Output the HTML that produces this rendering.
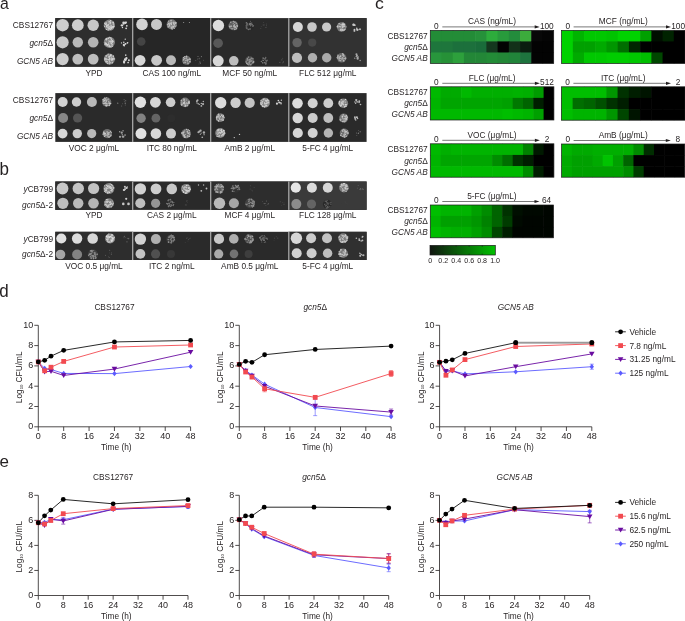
<!DOCTYPE html>
<html><head><meta charset="utf-8"><style>
html,body{margin:0;padding:0;background:#fff;width:685px;height:621px;overflow:hidden}
svg{display:block;font-family:"Liberation Sans", sans-serif;will-change:transform}
</style></head><body>
<svg width="685" height="621" viewBox="0 0 685 621">
<text transform="translate(0.0,9.0) scale(0.93,1.0)" font-size="17" fill="#231f20">a</text>
<text transform="translate(375.1,9.2) scale(1.04,1.0)" font-size="17" fill="#231f20">c</text>
<text transform="translate(-0.4,174.7) scale(1.0,1.075)" font-size="17" fill="#231f20">b</text>
<text transform="translate(-0.7,296.7) scale(1.0,1.075)" font-size="17" fill="#231f20">d</text>
<text transform="translate(-0.4,466.8) scale(1.0,1.0)" font-size="17" fill="#231f20">e</text>
<rect x="55.3" y="18.1" width="311.3" height="48.6" fill="#2a2a2a"/>
<rect x="55.3" y="18.1" width="77.39999999999999" height="48.6" fill="#2e2e2e"/>
<rect x="132.7" y="18.1" width="78.0" height="48.6" fill="#262626"/>
<rect x="288.8" y="18.1" width="77.80000000000001" height="48.6" fill="#323232"/>
<rect x="132.1" y="18.1" width="1.2" height="48.6" fill="#b0b0b0"/>
<rect x="210.1" y="18.1" width="1.2" height="48.6" fill="#b0b0b0"/>
<rect x="288.2" y="18.1" width="1.2" height="48.6" fill="#b0b0b0"/>
<circle cx="62.60" cy="25.20" r="6.25" fill="rgb(205,205,205)"/>
<circle cx="77.80" cy="25.20" r="5.9" fill="rgb(205,205,205)"/>
<circle cx="93.20" cy="25.20" r="5.7" fill="rgb(200,200,200)"/>
<circle cx="109.40" cy="25.20" r="5.6" fill="rgb(135,135,135)"/>
<circle cx="108.50" cy="27.01" r="0.73" fill="rgb(197,197,197)"/>
<circle cx="110.09" cy="23.76" r="0.70" fill="rgb(224,224,224)"/>
<circle cx="108.39" cy="25.15" r="0.65" fill="rgb(197,197,197)"/>
<circle cx="109.63" cy="29.06" r="0.52" fill="rgb(213,213,213)"/>
<circle cx="111.15" cy="26.93" r="0.72" fill="rgb(225,225,225)"/>
<circle cx="113.09" cy="26.71" r="0.52" fill="rgb(202,202,202)"/>
<circle cx="114.02" cy="26.59" r="0.60" fill="rgb(199,199,199)"/>
<circle cx="105.59" cy="24.21" r="0.70" fill="rgb(216,216,216)"/>
<circle cx="111.07" cy="28.80" r="0.72" fill="rgb(206,206,206)"/>
<circle cx="113.00" cy="27.73" r="0.70" fill="rgb(214,214,214)"/>
<circle cx="110.57" cy="29.33" r="0.65" fill="rgb(205,205,205)"/>
<circle cx="104.51" cy="26.27" r="0.63" fill="rgb(202,202,202)"/>
<circle cx="110.60" cy="21.01" r="0.59" fill="rgb(213,213,213)"/>
<circle cx="108.26" cy="28.68" r="0.62" fill="rgb(209,209,209)"/>
<circle cx="108.18" cy="30.21" r="0.54" fill="rgb(208,208,208)"/>
<circle cx="110.95" cy="27.82" r="0.83" fill="rgb(208,208,208)"/>
<circle cx="113.53" cy="26.24" r="0.77" fill="rgb(213,213,213)"/>
<circle cx="110.54" cy="20.63" r="0.62" fill="rgb(206,206,206)"/>
<circle cx="106.11" cy="22.98" r="0.66" fill="rgb(221,221,221)"/>
<circle cx="111.65" cy="26.70" r="0.74" fill="rgb(197,197,197)"/>
<circle cx="113.45" cy="26.82" r="0.73" fill="rgb(216,216,216)"/>
<circle cx="110.61" cy="22.70" r="0.64" fill="rgb(216,216,216)"/>
<circle cx="106.51" cy="29.34" r="0.62" fill="rgb(214,214,214)"/>
<circle cx="110.34" cy="26.05" r="0.77" fill="rgb(199,199,199)"/>
<circle cx="109.16" cy="21.92" r="0.82" fill="rgb(210,210,210)"/>
<circle cx="112.45" cy="26.89" r="0.69" fill="rgb(223,223,223)"/>
<circle cx="111.63" cy="27.79" r="0.69" fill="rgb(217,217,217)"/>
<circle cx="106.71" cy="26.78" r="0.81" fill="rgb(225,225,225)"/>
<circle cx="109.58" cy="26.69" r="0.55" fill="rgb(216,216,216)"/>
<circle cx="109.78" cy="28.81" r="0.71" fill="rgb(203,203,203)"/>
<circle cx="109.00" cy="27.15" r="0.69" fill="rgb(214,214,214)"/>
<circle cx="104.75" cy="23.14" r="0.74" fill="rgb(211,211,211)"/>
<circle cx="113.41" cy="23.90" r="0.76" fill="rgb(209,209,209)"/>
<circle cx="113.11" cy="22.48" r="0.81" fill="rgb(220,220,220)"/>
<circle cx="106.34" cy="24.00" r="0.64" fill="rgb(210,210,210)"/>
<circle cx="108.54" cy="24.23" r="0.52" fill="rgb(201,201,201)"/>
<circle cx="107.79" cy="25.83" r="0.71" fill="rgb(198,198,198)"/>
<circle cx="111.43" cy="25.20" r="0.54" fill="rgb(206,206,206)"/>
<circle cx="108.36" cy="24.30" r="0.57" fill="rgb(207,207,207)"/>
<circle cx="110.96" cy="27.30" r="0.62" fill="rgb(206,206,206)"/>
<circle cx="107.65" cy="25.49" r="0.67" fill="rgb(209,209,209)"/>
<circle cx="106.51" cy="25.56" r="0.55" fill="rgb(218,218,218)"/>
<circle cx="107.93" cy="27.44" r="0.79" fill="rgb(200,200,200)"/>
<circle cx="107.05" cy="24.96" r="0.83" fill="rgb(206,206,206)"/>
<circle cx="111.72" cy="28.26" r="0.51" fill="rgb(211,211,211)"/>
<circle cx="108.16" cy="29.19" r="0.53" fill="rgb(222,222,222)"/>
<circle cx="109.18" cy="28.35" r="0.56" fill="rgb(219,219,219)"/>
<circle cx="126.14" cy="28.32" r="0.90" fill="rgb(215,215,215)"/>
<circle cx="123.40" cy="22.65" r="1.07" fill="rgb(215,215,215)"/>
<circle cx="125.70" cy="23.30" r="0.74" fill="rgb(215,215,215)"/>
<circle cx="122.47" cy="27.45" r="0.72" fill="rgb(215,215,215)"/>
<circle cx="121.93" cy="25.37" r="1.19" fill="rgb(215,215,215)"/>
<circle cx="126.34" cy="22.34" r="0.72" fill="rgb(215,215,215)"/>
<circle cx="123.61" cy="23.65" r="1.09" fill="rgb(215,215,215)"/>
<circle cx="125.17" cy="22.69" r="1.18" fill="rgb(215,215,215)"/>
<circle cx="126.80" cy="25.87" r="0.88" fill="rgb(215,215,215)"/>
<circle cx="62.60" cy="42.30" r="6.1" fill="rgb(200,200,200)"/>
<circle cx="77.80" cy="42.30" r="5.2" fill="rgb(185,185,185)"/>
<circle cx="93.20" cy="42.30" r="5.3" fill="rgb(180,180,180)"/>
<circle cx="109.40" cy="42.30" r="5.6" fill="rgb(130,130,130)"/>
<circle cx="107.51" cy="45.38" r="0.84" fill="rgb(209,209,209)"/>
<circle cx="111.34" cy="39.26" r="0.73" fill="rgb(215,215,215)"/>
<circle cx="106.44" cy="38.58" r="0.54" fill="rgb(202,202,202)"/>
<circle cx="110.31" cy="37.88" r="0.67" fill="rgb(195,195,195)"/>
<circle cx="105.60" cy="43.98" r="0.53" fill="rgb(220,220,220)"/>
<circle cx="112.62" cy="41.72" r="0.64" fill="rgb(220,220,220)"/>
<circle cx="111.19" cy="43.36" r="0.85" fill="rgb(190,190,190)"/>
<circle cx="112.28" cy="46.33" r="0.78" fill="rgb(194,194,194)"/>
<circle cx="106.33" cy="39.71" r="0.67" fill="rgb(219,219,219)"/>
<circle cx="107.12" cy="45.42" r="0.55" fill="rgb(190,190,190)"/>
<circle cx="110.75" cy="38.07" r="0.54" fill="rgb(213,213,213)"/>
<circle cx="112.54" cy="40.91" r="0.81" fill="rgb(216,216,216)"/>
<circle cx="110.01" cy="41.68" r="0.57" fill="rgb(206,206,206)"/>
<circle cx="109.64" cy="46.28" r="0.59" fill="rgb(203,203,203)"/>
<circle cx="110.05" cy="41.19" r="0.76" fill="rgb(218,218,218)"/>
<circle cx="105.56" cy="43.33" r="0.82" fill="rgb(203,203,203)"/>
<circle cx="111.67" cy="37.98" r="0.55" fill="rgb(194,194,194)"/>
<circle cx="108.70" cy="42.20" r="0.65" fill="rgb(195,195,195)"/>
<circle cx="105.84" cy="39.41" r="0.55" fill="rgb(194,194,194)"/>
<circle cx="105.03" cy="43.04" r="0.69" fill="rgb(200,200,200)"/>
<circle cx="107.83" cy="38.84" r="0.67" fill="rgb(214,214,214)"/>
<circle cx="112.46" cy="44.71" r="0.59" fill="rgb(198,198,198)"/>
<circle cx="110.97" cy="42.73" r="0.66" fill="rgb(190,190,190)"/>
<circle cx="109.71" cy="37.33" r="0.66" fill="rgb(209,209,209)"/>
<circle cx="113.40" cy="41.62" r="0.57" fill="rgb(198,198,198)"/>
<circle cx="105.77" cy="43.42" r="0.67" fill="rgb(220,220,220)"/>
<circle cx="109.46" cy="46.07" r="0.81" fill="rgb(219,219,219)"/>
<circle cx="109.17" cy="46.19" r="0.83" fill="rgb(216,216,216)"/>
<circle cx="106.22" cy="43.39" r="0.64" fill="rgb(200,200,200)"/>
<circle cx="111.69" cy="43.42" r="0.53" fill="rgb(211,211,211)"/>
<circle cx="108.81" cy="44.02" r="0.77" fill="rgb(220,220,220)"/>
<circle cx="108.51" cy="38.16" r="0.55" fill="rgb(218,218,218)"/>
<circle cx="111.72" cy="45.00" r="0.76" fill="rgb(193,193,193)"/>
<circle cx="106.48" cy="44.47" r="0.85" fill="rgb(216,216,216)"/>
<circle cx="110.12" cy="46.62" r="0.85" fill="rgb(202,202,202)"/>
<circle cx="108.18" cy="44.25" r="0.61" fill="rgb(213,213,213)"/>
<circle cx="107.38" cy="44.56" r="0.66" fill="rgb(212,212,212)"/>
<circle cx="112.38" cy="42.64" r="0.72" fill="rgb(206,206,206)"/>
<circle cx="111.10" cy="41.87" r="0.82" fill="rgb(197,197,197)"/>
<circle cx="111.06" cy="42.00" r="0.59" fill="rgb(191,191,191)"/>
<circle cx="111.24" cy="41.06" r="0.76" fill="rgb(216,216,216)"/>
<circle cx="105.01" cy="44.63" r="0.79" fill="rgb(198,198,198)"/>
<circle cx="106.23" cy="44.43" r="0.68" fill="rgb(205,205,205)"/>
<circle cx="108.92" cy="40.82" r="0.52" fill="rgb(212,212,212)"/>
<circle cx="111.40" cy="46.80" r="0.59" fill="rgb(190,190,190)"/>
<circle cx="106.30" cy="38.81" r="0.53" fill="rgb(217,217,217)"/>
<circle cx="109.86" cy="44.94" r="0.54" fill="rgb(190,190,190)"/>
<circle cx="123.90" cy="45.01" r="1.16" fill="rgb(210,210,210)"/>
<circle cx="125.43" cy="43.84" r="0.92" fill="rgb(210,210,210)"/>
<circle cx="125.70" cy="43.72" r="0.70" fill="rgb(210,210,210)"/>
<circle cx="127.44" cy="42.90" r="0.79" fill="rgb(210,210,210)"/>
<circle cx="124.33" cy="45.83" r="0.77" fill="rgb(210,210,210)"/>
<circle cx="123.79" cy="42.30" r="0.81" fill="rgb(210,210,210)"/>
<circle cx="127.74" cy="42.55" r="0.61" fill="rgb(210,210,210)"/>
<circle cx="125.26" cy="39.13" r="0.71" fill="rgb(210,210,210)"/>
<circle cx="121.50" cy="42.96" r="0.66" fill="rgb(210,210,210)"/>
<circle cx="62.60" cy="59.10" r="6.1" fill="rgb(205,205,205)"/>
<circle cx="77.80" cy="59.10" r="5.4" fill="rgb(190,190,190)"/>
<circle cx="93.20" cy="59.10" r="5.4" fill="rgb(190,190,190)"/>
<circle cx="109.40" cy="59.10" r="5.6" fill="rgb(130,130,130)"/>
<circle cx="110.84" cy="55.99" r="0.67" fill="rgb(216,216,216)"/>
<circle cx="113.33" cy="55.80" r="0.61" fill="rgb(196,196,196)"/>
<circle cx="112.43" cy="58.76" r="0.79" fill="rgb(212,212,212)"/>
<circle cx="109.14" cy="57.17" r="0.85" fill="rgb(191,191,191)"/>
<circle cx="109.72" cy="58.57" r="0.72" fill="rgb(218,218,218)"/>
<circle cx="109.33" cy="61.20" r="0.53" fill="rgb(216,216,216)"/>
<circle cx="106.69" cy="61.62" r="0.84" fill="rgb(209,209,209)"/>
<circle cx="109.54" cy="61.92" r="0.66" fill="rgb(195,195,195)"/>
<circle cx="109.36" cy="59.41" r="0.63" fill="rgb(200,200,200)"/>
<circle cx="113.20" cy="58.44" r="0.59" fill="rgb(220,220,220)"/>
<circle cx="111.20" cy="57.46" r="0.56" fill="rgb(200,200,200)"/>
<circle cx="106.76" cy="61.53" r="0.68" fill="rgb(196,196,196)"/>
<circle cx="109.45" cy="63.69" r="0.53" fill="rgb(216,216,216)"/>
<circle cx="112.18" cy="60.86" r="0.51" fill="rgb(190,190,190)"/>
<circle cx="108.13" cy="63.03" r="0.53" fill="rgb(220,220,220)"/>
<circle cx="104.96" cy="58.28" r="0.73" fill="rgb(212,212,212)"/>
<circle cx="110.25" cy="55.17" r="0.77" fill="rgb(213,213,213)"/>
<circle cx="111.40" cy="58.91" r="0.75" fill="rgb(210,210,210)"/>
<circle cx="112.30" cy="62.83" r="0.75" fill="rgb(206,206,206)"/>
<circle cx="106.29" cy="55.90" r="0.78" fill="rgb(194,194,194)"/>
<circle cx="113.21" cy="56.68" r="0.70" fill="rgb(216,216,216)"/>
<circle cx="110.99" cy="54.64" r="0.70" fill="rgb(218,218,218)"/>
<circle cx="108.17" cy="54.16" r="0.73" fill="rgb(192,192,192)"/>
<circle cx="111.26" cy="59.47" r="0.63" fill="rgb(193,193,193)"/>
<circle cx="106.90" cy="61.55" r="0.52" fill="rgb(190,190,190)"/>
<circle cx="106.38" cy="56.04" r="0.67" fill="rgb(190,190,190)"/>
<circle cx="108.07" cy="59.47" r="0.83" fill="rgb(218,218,218)"/>
<circle cx="105.27" cy="58.17" r="0.52" fill="rgb(213,213,213)"/>
<circle cx="104.78" cy="59.87" r="0.80" fill="rgb(197,197,197)"/>
<circle cx="109.09" cy="56.76" r="0.76" fill="rgb(204,204,204)"/>
<circle cx="106.18" cy="59.22" r="0.67" fill="rgb(211,211,211)"/>
<circle cx="109.14" cy="60.20" r="0.72" fill="rgb(196,196,196)"/>
<circle cx="111.17" cy="60.04" r="0.59" fill="rgb(213,213,213)"/>
<circle cx="107.96" cy="55.26" r="0.55" fill="rgb(205,205,205)"/>
<circle cx="111.91" cy="60.10" r="0.74" fill="rgb(212,212,212)"/>
<circle cx="110.13" cy="62.67" r="0.75" fill="rgb(199,199,199)"/>
<circle cx="105.93" cy="59.88" r="0.54" fill="rgb(218,218,218)"/>
<circle cx="106.63" cy="58.22" r="0.53" fill="rgb(205,205,205)"/>
<circle cx="112.91" cy="59.49" r="0.79" fill="rgb(220,220,220)"/>
<circle cx="114.59" cy="58.92" r="0.64" fill="rgb(219,219,219)"/>
<circle cx="111.65" cy="58.30" r="0.70" fill="rgb(194,194,194)"/>
<circle cx="109.36" cy="56.44" r="0.63" fill="rgb(209,209,209)"/>
<circle cx="110.99" cy="55.74" r="0.81" fill="rgb(212,212,212)"/>
<circle cx="106.97" cy="61.85" r="0.81" fill="rgb(202,202,202)"/>
<circle cx="109.71" cy="59.15" r="0.67" fill="rgb(204,204,204)"/>
<circle cx="105.72" cy="61.59" r="0.65" fill="rgb(202,202,202)"/>
<circle cx="107.47" cy="63.47" r="0.50" fill="rgb(214,214,214)"/>
<circle cx="124.17" cy="61.41" r="1.16" fill="rgb(215,215,215)"/>
<circle cx="125.76" cy="59.54" r="1.04" fill="rgb(215,215,215)"/>
<circle cx="125.58" cy="60.20" r="0.83" fill="rgb(215,215,215)"/>
<circle cx="126.41" cy="58.23" r="1.16" fill="rgb(215,215,215)"/>
<circle cx="125.74" cy="55.13" r="0.77" fill="rgb(215,215,215)"/>
<circle cx="128.92" cy="60.21" r="0.98" fill="rgb(215,215,215)"/>
<circle cx="128.11" cy="62.51" r="0.86" fill="rgb(215,215,215)"/>
<circle cx="124.09" cy="62.56" r="1.07" fill="rgb(215,215,215)"/>
<circle cx="124.94" cy="59.42" r="1.06" fill="rgb(215,215,215)"/>
<circle cx="142.00" cy="24.40" r="5.8" fill="rgb(210,210,210)"/>
<circle cx="156.50" cy="24.40" r="5.5" fill="rgb(200,200,200)"/>
<circle cx="171.70" cy="24.40" r="5.1" fill="rgb(120,120,120)"/>
<circle cx="168.11" cy="27.01" r="0.69" fill="rgb(186,186,186)"/>
<circle cx="171.50" cy="23.36" r="0.76" fill="rgb(194,194,194)"/>
<circle cx="170.37" cy="23.23" r="0.80" fill="rgb(195,195,195)"/>
<circle cx="176.05" cy="25.78" r="0.54" fill="rgb(195,195,195)"/>
<circle cx="169.53" cy="25.68" r="0.59" fill="rgb(203,203,203)"/>
<circle cx="174.09" cy="24.04" r="0.73" fill="rgb(189,189,189)"/>
<circle cx="167.84" cy="24.81" r="0.54" fill="rgb(200,200,200)"/>
<circle cx="172.84" cy="26.24" r="0.82" fill="rgb(195,195,195)"/>
<circle cx="168.67" cy="23.41" r="0.62" fill="rgb(204,204,204)"/>
<circle cx="170.01" cy="24.95" r="0.57" fill="rgb(182,182,182)"/>
<circle cx="173.31" cy="27.55" r="0.61" fill="rgb(191,191,191)"/>
<circle cx="171.51" cy="27.97" r="0.81" fill="rgb(203,203,203)"/>
<circle cx="173.72" cy="22.27" r="0.76" fill="rgb(186,186,186)"/>
<circle cx="169.73" cy="26.33" r="0.52" fill="rgb(188,188,188)"/>
<circle cx="169.16" cy="23.12" r="0.74" fill="rgb(196,196,196)"/>
<circle cx="168.68" cy="21.20" r="0.58" fill="rgb(188,188,188)"/>
<circle cx="174.04" cy="22.62" r="0.73" fill="rgb(193,193,193)"/>
<circle cx="175.89" cy="23.15" r="0.81" fill="rgb(180,180,180)"/>
<circle cx="173.86" cy="26.62" r="0.77" fill="rgb(205,205,205)"/>
<circle cx="168.12" cy="25.01" r="0.50" fill="rgb(192,192,192)"/>
<circle cx="175.84" cy="22.46" r="0.68" fill="rgb(194,194,194)"/>
<circle cx="174.03" cy="23.99" r="0.54" fill="rgb(184,184,184)"/>
<circle cx="174.40" cy="28.22" r="0.54" fill="rgb(206,206,206)"/>
<circle cx="171.03" cy="20.64" r="0.77" fill="rgb(194,194,194)"/>
<circle cx="175.30" cy="26.53" r="0.50" fill="rgb(184,184,184)"/>
<circle cx="172.20" cy="28.92" r="0.73" fill="rgb(189,189,189)"/>
<circle cx="175.35" cy="23.52" r="0.68" fill="rgb(193,193,193)"/>
<circle cx="171.20" cy="22.89" r="0.52" fill="rgb(196,196,196)"/>
<circle cx="173.65" cy="23.68" r="0.59" fill="rgb(205,205,205)"/>
<circle cx="171.31" cy="24.11" r="0.61" fill="rgb(194,194,194)"/>
<circle cx="171.22" cy="27.02" r="0.79" fill="rgb(187,187,187)"/>
<circle cx="169.43" cy="24.76" r="0.59" fill="rgb(210,210,210)"/>
<circle cx="168.45" cy="26.41" r="0.52" fill="rgb(186,186,186)"/>
<circle cx="167.81" cy="24.44" r="0.65" fill="rgb(188,188,188)"/>
<circle cx="172.13" cy="27.46" r="0.63" fill="rgb(195,195,195)"/>
<circle cx="174.39" cy="24.99" r="0.65" fill="rgb(201,201,201)"/>
<circle cx="171.39" cy="24.64" r="0.60" fill="rgb(207,207,207)"/>
<circle cx="169.55" cy="24.33" r="0.84" fill="rgb(189,189,189)"/>
<circle cx="171.91" cy="22.32" r="0.66" fill="rgb(188,188,188)"/>
<circle cx="183.70" cy="22.40" r="0.5" fill="rgb(170,170,170)"/>
<circle cx="189.40" cy="22.40" r="0.5" fill="rgb(170,170,170)"/>
<circle cx="141.20" cy="41.50" r="4.3" fill="rgb(68,68,68)"/>
<circle cx="140.10" cy="60.30" r="5.4" fill="rgb(215,215,215)"/>
<circle cx="156.60" cy="60.30" r="5.4" fill="rgb(200,200,200)"/>
<circle cx="171.00" cy="60.30" r="5.0" fill="rgb(185,185,185)"/>
<circle cx="186.50" cy="60.30" r="4.5" fill="rgb(105,105,105)"/>
<circle cx="186.65" cy="58.03" r="0.83" fill="rgb(180,180,180)"/>
<circle cx="183.45" cy="57.77" r="0.67" fill="rgb(194,194,194)"/>
<circle cx="184.43" cy="56.79" r="0.55" fill="rgb(177,177,177)"/>
<circle cx="187.11" cy="60.52" r="0.71" fill="rgb(178,178,178)"/>
<circle cx="187.47" cy="60.63" r="0.64" fill="rgb(193,193,193)"/>
<circle cx="185.95" cy="58.02" r="0.54" fill="rgb(167,167,167)"/>
<circle cx="188.68" cy="59.30" r="0.56" fill="rgb(194,194,194)"/>
<circle cx="183.67" cy="59.86" r="0.61" fill="rgb(188,188,188)"/>
<circle cx="184.65" cy="62.07" r="0.62" fill="rgb(170,170,170)"/>
<circle cx="187.41" cy="61.04" r="0.53" fill="rgb(178,178,178)"/>
<circle cx="187.91" cy="59.89" r="0.84" fill="rgb(171,171,171)"/>
<circle cx="183.82" cy="62.81" r="0.61" fill="rgb(190,190,190)"/>
<circle cx="185.65" cy="60.68" r="0.67" fill="rgb(176,176,176)"/>
<circle cx="183.80" cy="59.58" r="0.61" fill="rgb(188,188,188)"/>
<circle cx="187.08" cy="59.86" r="0.64" fill="rgb(190,190,190)"/>
<circle cx="184.62" cy="58.41" r="0.63" fill="rgb(179,179,179)"/>
<circle cx="190.21" cy="61.84" r="0.59" fill="rgb(188,188,188)"/>
<circle cx="189.51" cy="61.55" r="0.63" fill="rgb(175,175,175)"/>
<circle cx="189.67" cy="59.44" r="0.59" fill="rgb(187,187,187)"/>
<circle cx="185.01" cy="56.56" r="0.60" fill="rgb(188,188,188)"/>
<circle cx="186.64" cy="56.30" r="0.72" fill="rgb(195,195,195)"/>
<circle cx="189.99" cy="61.82" r="0.54" fill="rgb(187,187,187)"/>
<circle cx="190.44" cy="59.20" r="0.64" fill="rgb(173,173,173)"/>
<circle cx="189.73" cy="58.35" r="0.55" fill="rgb(180,180,180)"/>
<circle cx="188.03" cy="63.72" r="0.76" fill="rgb(191,191,191)"/>
<circle cx="185.92" cy="58.78" r="0.58" fill="rgb(192,192,192)"/>
<circle cx="185.43" cy="62.58" r="0.77" fill="rgb(167,167,167)"/>
<circle cx="183.89" cy="60.10" r="0.56" fill="rgb(178,178,178)"/>
<circle cx="187.21" cy="60.60" r="0.69" fill="rgb(175,175,175)"/>
<circle cx="187.95" cy="62.61" r="0.54" fill="rgb(167,167,167)"/>
<circle cx="199.86" cy="61.74" r="0.37" fill="rgb(120,120,120)"/>
<circle cx="195.79" cy="60.34" r="0.46" fill="rgb(120,120,120)"/>
<circle cx="200.32" cy="63.51" r="0.51" fill="rgb(120,120,120)"/>
<circle cx="198.01" cy="56.46" r="0.56" fill="rgb(120,120,120)"/>
<circle cx="199.11" cy="58.81" r="0.56" fill="rgb(120,120,120)"/>
<circle cx="198.98" cy="63.92" r="0.44" fill="rgb(120,120,120)"/>
<circle cx="199.83" cy="58.07" r="0.41" fill="rgb(120,120,120)"/>
<circle cx="200.06" cy="62.26" r="0.57" fill="rgb(120,120,120)"/>
<circle cx="197.48" cy="58.95" r="0.45" fill="rgb(120,120,120)"/>
<circle cx="203.56" cy="60.13" r="0.41" fill="rgb(120,120,120)"/>
<circle cx="201.45" cy="56.53" r="0.60" fill="rgb(120,120,120)"/>
<circle cx="218.40" cy="25.50" r="5.7" fill="rgb(220,220,220)"/>
<circle cx="233.40" cy="25.50" r="4.8" fill="rgb(95,95,95)"/>
<circle cx="235.86" cy="27.34" r="0.79" fill="rgb(181,181,181)"/>
<circle cx="230.81" cy="26.37" r="0.81" fill="rgb(162,162,162)"/>
<circle cx="234.82" cy="26.82" r="0.84" fill="rgb(173,173,173)"/>
<circle cx="233.82" cy="26.65" r="0.68" fill="rgb(160,160,160)"/>
<circle cx="231.24" cy="26.22" r="0.77" fill="rgb(185,185,185)"/>
<circle cx="236.96" cy="25.64" r="0.75" fill="rgb(166,166,166)"/>
<circle cx="233.95" cy="28.15" r="0.55" fill="rgb(161,161,161)"/>
<circle cx="234.27" cy="25.50" r="0.76" fill="rgb(184,184,184)"/>
<circle cx="233.54" cy="25.96" r="0.61" fill="rgb(176,176,176)"/>
<circle cx="230.96" cy="28.04" r="0.53" fill="rgb(156,156,156)"/>
<circle cx="234.33" cy="22.33" r="0.52" fill="rgb(158,158,158)"/>
<circle cx="234.43" cy="22.01" r="0.55" fill="rgb(172,172,172)"/>
<circle cx="234.92" cy="26.48" r="0.74" fill="rgb(168,168,168)"/>
<circle cx="237.04" cy="25.23" r="0.65" fill="rgb(156,156,156)"/>
<circle cx="232.12" cy="28.61" r="0.63" fill="rgb(168,168,168)"/>
<circle cx="237.28" cy="25.95" r="0.78" fill="rgb(175,175,175)"/>
<circle cx="234.64" cy="29.10" r="0.57" fill="rgb(155,155,155)"/>
<circle cx="231.78" cy="26.21" r="0.54" fill="rgb(157,157,157)"/>
<circle cx="229.91" cy="27.83" r="0.66" fill="rgb(160,160,160)"/>
<circle cx="234.09" cy="26.24" r="0.55" fill="rgb(180,180,180)"/>
<circle cx="234.52" cy="24.78" r="0.72" fill="rgb(166,166,166)"/>
<circle cx="233.25" cy="23.66" r="0.62" fill="rgb(160,160,160)"/>
<circle cx="229.14" cy="24.93" r="0.54" fill="rgb(170,170,170)"/>
<circle cx="233.49" cy="21.53" r="0.78" fill="rgb(164,164,164)"/>
<circle cx="236.43" cy="28.60" r="0.84" fill="rgb(170,170,170)"/>
<circle cx="232.03" cy="28.70" r="0.72" fill="rgb(157,157,157)"/>
<circle cx="236.30" cy="23.51" r="0.79" fill="rgb(160,160,160)"/>
<circle cx="230.77" cy="22.31" r="0.72" fill="rgb(174,174,174)"/>
<circle cx="235.71" cy="22.16" r="0.56" fill="rgb(161,161,161)"/>
<circle cx="237.58" cy="26.62" r="0.55" fill="rgb(166,166,166)"/>
<circle cx="234.99" cy="27.05" r="0.75" fill="rgb(183,183,183)"/>
<circle cx="234.88" cy="29.43" r="0.79" fill="rgb(176,176,176)"/>
<circle cx="237.37" cy="26.47" r="0.54" fill="rgb(174,174,174)"/>
<circle cx="229.44" cy="26.63" r="0.77" fill="rgb(175,175,175)"/>
<circle cx="249.40" cy="25.50" r="4.8" fill="rgb(40,40,40)"/>
<circle cx="246.41" cy="27.14" r="0.65" fill="rgb(116,116,116)"/>
<circle cx="247.27" cy="27.84" r="0.56" fill="rgb(95,95,95)"/>
<circle cx="247.11" cy="23.38" r="0.58" fill="rgb(119,119,119)"/>
<circle cx="246.43" cy="22.76" r="0.79" fill="rgb(120,120,120)"/>
<circle cx="247.96" cy="25.74" r="0.54" fill="rgb(108,108,108)"/>
<circle cx="246.75" cy="28.49" r="0.68" fill="rgb(116,116,116)"/>
<circle cx="252.85" cy="26.40" r="0.53" fill="rgb(118,118,118)"/>
<circle cx="247.92" cy="28.99" r="0.53" fill="rgb(119,119,119)"/>
<circle cx="246.66" cy="25.43" r="0.83" fill="rgb(99,99,99)"/>
<circle cx="250.53" cy="25.69" r="0.71" fill="rgb(117,117,117)"/>
<circle cx="250.18" cy="23.70" r="0.84" fill="rgb(110,110,110)"/>
<circle cx="248.45" cy="29.41" r="0.78" fill="rgb(116,116,116)"/>
<circle cx="250.43" cy="21.32" r="0.52" fill="rgb(106,106,106)"/>
<circle cx="247.68" cy="24.07" r="0.61" fill="rgb(114,114,114)"/>
<circle cx="248.77" cy="29.48" r="0.55" fill="rgb(111,111,111)"/>
<circle cx="252.42" cy="24.81" r="0.71" fill="rgb(114,114,114)"/>
<circle cx="246.88" cy="25.41" r="0.51" fill="rgb(100,100,100)"/>
<circle cx="246.47" cy="27.53" r="0.60" fill="rgb(105,105,105)"/>
<circle cx="250.85" cy="24.38" r="0.77" fill="rgb(98,98,98)"/>
<circle cx="249.51" cy="24.52" r="0.80" fill="rgb(125,125,125)"/>
<circle cx="251.72" cy="23.12" r="0.70" fill="rgb(123,123,123)"/>
<circle cx="251.18" cy="24.14" r="0.69" fill="rgb(122,122,122)"/>
<circle cx="246.26" cy="27.96" r="0.59" fill="rgb(106,106,106)"/>
<circle cx="247.03" cy="24.25" r="0.77" fill="rgb(109,109,109)"/>
<circle cx="249.84" cy="28.97" r="0.84" fill="rgb(104,104,104)"/>
<circle cx="250.35" cy="23.46" r="0.72" fill="rgb(122,122,122)"/>
<circle cx="246.28" cy="23.63" r="0.61" fill="rgb(95,95,95)"/>
<circle cx="249.36" cy="23.40" r="0.60" fill="rgb(115,115,115)"/>
<circle cx="246.49" cy="26.82" r="0.81" fill="rgb(99,99,99)"/>
<circle cx="245.92" cy="25.75" r="0.52" fill="rgb(96,96,96)"/>
<circle cx="252.06" cy="25.54" r="0.54" fill="rgb(106,106,106)"/>
<circle cx="246.60" cy="24.89" r="0.61" fill="rgb(99,99,99)"/>
<circle cx="250.40" cy="28.88" r="0.67" fill="rgb(99,99,99)"/>
<circle cx="253.38" cy="25.85" r="0.75" fill="rgb(109,109,109)"/>
<circle cx="265.96" cy="27.54" r="0.57" fill="rgb(90,90,90)"/>
<circle cx="263.57" cy="22.70" r="0.42" fill="rgb(90,90,90)"/>
<circle cx="266.60" cy="25.76" r="0.49" fill="rgb(90,90,90)"/>
<circle cx="260.87" cy="28.42" r="0.46" fill="rgb(90,90,90)"/>
<circle cx="266.56" cy="24.02" r="0.41" fill="rgb(90,90,90)"/>
<circle cx="263.78" cy="24.96" r="0.48" fill="rgb(90,90,90)"/>
<circle cx="261.18" cy="26.72" r="0.36" fill="rgb(90,90,90)"/>
<circle cx="263.09" cy="25.01" r="0.49" fill="rgb(90,90,90)"/>
<circle cx="264.58" cy="24.88" r="0.40" fill="rgb(90,90,90)"/>
<circle cx="218.10" cy="43.20" r="4.8" fill="rgb(88,88,88)"/>
<circle cx="218.20" cy="60.80" r="5.5" fill="rgb(215,215,215)"/>
<circle cx="233.80" cy="60.80" r="4.8" fill="rgb(190,190,190)"/>
<circle cx="249.70" cy="60.80" r="4.6" fill="rgb(80,80,80)"/>
<circle cx="247.33" cy="58.89" r="0.72" fill="rgb(166,166,166)"/>
<circle cx="247.39" cy="58.81" r="0.52" fill="rgb(160,160,160)"/>
<circle cx="253.55" cy="62.01" r="0.77" fill="rgb(162,162,162)"/>
<circle cx="247.16" cy="60.17" r="0.65" fill="rgb(169,169,169)"/>
<circle cx="246.10" cy="61.60" r="0.66" fill="rgb(147,147,147)"/>
<circle cx="251.89" cy="60.75" r="0.73" fill="rgb(143,143,143)"/>
<circle cx="247.80" cy="63.98" r="0.74" fill="rgb(167,167,167)"/>
<circle cx="249.62" cy="61.78" r="0.72" fill="rgb(161,161,161)"/>
<circle cx="246.20" cy="62.29" r="0.68" fill="rgb(148,148,148)"/>
<circle cx="248.53" cy="64.75" r="0.81" fill="rgb(142,142,142)"/>
<circle cx="250.08" cy="60.44" r="0.59" fill="rgb(147,147,147)"/>
<circle cx="250.75" cy="59.18" r="0.56" fill="rgb(169,169,169)"/>
<circle cx="247.84" cy="64.35" r="0.61" fill="rgb(147,147,147)"/>
<circle cx="246.83" cy="63.51" r="0.82" fill="rgb(161,161,161)"/>
<circle cx="251.40" cy="58.17" r="0.67" fill="rgb(156,156,156)"/>
<circle cx="248.42" cy="57.05" r="0.65" fill="rgb(163,163,163)"/>
<circle cx="250.11" cy="64.80" r="0.78" fill="rgb(152,152,152)"/>
<circle cx="248.84" cy="59.97" r="0.82" fill="rgb(144,144,144)"/>
<circle cx="251.10" cy="61.09" r="0.72" fill="rgb(145,145,145)"/>
<circle cx="248.80" cy="62.13" r="0.51" fill="rgb(141,141,141)"/>
<circle cx="251.91" cy="63.42" r="0.51" fill="rgb(142,142,142)"/>
<circle cx="249.61" cy="59.71" r="0.71" fill="rgb(151,151,151)"/>
<circle cx="251.01" cy="64.77" r="0.69" fill="rgb(161,161,161)"/>
<circle cx="253.35" cy="62.40" r="0.82" fill="rgb(170,170,170)"/>
<circle cx="248.12" cy="62.22" r="0.57" fill="rgb(141,141,141)"/>
<circle cx="253.55" cy="61.65" r="0.78" fill="rgb(160,160,160)"/>
<circle cx="252.86" cy="62.74" r="0.72" fill="rgb(155,155,155)"/>
<circle cx="250.78" cy="61.59" r="0.77" fill="rgb(146,146,146)"/>
<circle cx="249.02" cy="63.19" r="0.59" fill="rgb(151,151,151)"/>
<circle cx="249.60" cy="63.07" r="0.75" fill="rgb(151,151,151)"/>
<circle cx="252.87" cy="58.80" r="0.71" fill="rgb(155,155,155)"/>
<circle cx="264.00" cy="60.80" r="4.0" fill="rgb(40,40,40)"/>
<circle cx="265.74" cy="58.45" r="0.51" fill="rgb(108,108,108)"/>
<circle cx="266.63" cy="61.32" r="0.53" fill="rgb(110,110,110)"/>
<circle cx="263.23" cy="58.18" r="0.58" fill="rgb(122,122,122)"/>
<circle cx="265.32" cy="58.31" r="0.60" fill="rgb(108,108,108)"/>
<circle cx="265.67" cy="60.81" r="0.77" fill="rgb(96,96,96)"/>
<circle cx="266.61" cy="60.87" r="0.67" fill="rgb(120,120,120)"/>
<circle cx="265.67" cy="57.54" r="0.71" fill="rgb(125,125,125)"/>
<circle cx="264.93" cy="59.15" r="0.83" fill="rgb(104,104,104)"/>
<circle cx="265.44" cy="57.49" r="0.58" fill="rgb(100,100,100)"/>
<circle cx="266.29" cy="62.69" r="0.53" fill="rgb(120,120,120)"/>
<circle cx="266.78" cy="60.64" r="0.54" fill="rgb(105,105,105)"/>
<circle cx="262.55" cy="62.66" r="0.64" fill="rgb(123,123,123)"/>
<circle cx="263.93" cy="58.38" r="0.73" fill="rgb(106,106,106)"/>
<circle cx="264.52" cy="62.64" r="0.82" fill="rgb(111,111,111)"/>
<circle cx="265.75" cy="64.04" r="0.72" fill="rgb(125,125,125)"/>
<circle cx="261.37" cy="61.46" r="0.76" fill="rgb(119,119,119)"/>
<circle cx="263.46" cy="60.38" r="0.70" fill="rgb(111,111,111)"/>
<circle cx="265.91" cy="63.63" r="0.73" fill="rgb(118,118,118)"/>
<circle cx="262.87" cy="63.07" r="0.74" fill="rgb(103,103,103)"/>
<circle cx="262.84" cy="60.17" r="0.66" fill="rgb(123,123,123)"/>
<circle cx="263.13" cy="58.30" r="0.59" fill="rgb(119,119,119)"/>
<circle cx="263.01" cy="57.53" r="0.55" fill="rgb(99,99,99)"/>
<circle cx="267.12" cy="60.30" r="0.71" fill="rgb(106,106,106)"/>
<circle cx="265.13" cy="62.61" r="0.57" fill="rgb(125,125,125)"/>
<circle cx="281.87" cy="59.85" r="0.59" fill="rgb(90,90,90)"/>
<circle cx="283.49" cy="61.91" r="0.60" fill="rgb(90,90,90)"/>
<circle cx="282.71" cy="58.33" r="0.46" fill="rgb(90,90,90)"/>
<circle cx="282.79" cy="63.06" r="0.38" fill="rgb(90,90,90)"/>
<circle cx="282.51" cy="62.60" r="0.36" fill="rgb(90,90,90)"/>
<circle cx="279.85" cy="62.38" r="0.52" fill="rgb(90,90,90)"/>
<circle cx="297.90" cy="27.00" r="5.0" fill="rgb(215,215,215)"/>
<circle cx="312.00" cy="27.00" r="4.8" fill="rgb(200,200,200)"/>
<circle cx="326.60" cy="27.00" r="4.6" fill="rgb(200,200,200)"/>
<circle cx="341.60" cy="27.00" r="4.8" fill="rgb(120,120,120)"/>
<circle cx="338.05" cy="26.99" r="0.66" fill="rgb(184,184,184)"/>
<circle cx="341.43" cy="30.83" r="0.50" fill="rgb(187,187,187)"/>
<circle cx="344.05" cy="25.40" r="0.70" fill="rgb(203,203,203)"/>
<circle cx="339.13" cy="23.72" r="0.73" fill="rgb(200,200,200)"/>
<circle cx="344.46" cy="24.31" r="0.75" fill="rgb(207,207,207)"/>
<circle cx="341.85" cy="28.88" r="0.54" fill="rgb(193,193,193)"/>
<circle cx="340.24" cy="30.26" r="0.53" fill="rgb(193,193,193)"/>
<circle cx="341.73" cy="29.82" r="0.75" fill="rgb(185,185,185)"/>
<circle cx="341.60" cy="29.91" r="0.66" fill="rgb(199,199,199)"/>
<circle cx="343.63" cy="24.50" r="0.73" fill="rgb(207,207,207)"/>
<circle cx="343.07" cy="30.30" r="0.77" fill="rgb(192,192,192)"/>
<circle cx="343.69" cy="23.30" r="0.54" fill="rgb(188,188,188)"/>
<circle cx="339.88" cy="26.52" r="0.77" fill="rgb(210,210,210)"/>
<circle cx="342.42" cy="29.50" r="0.80" fill="rgb(194,194,194)"/>
<circle cx="337.94" cy="26.04" r="0.68" fill="rgb(200,200,200)"/>
<circle cx="342.32" cy="24.38" r="0.62" fill="rgb(203,203,203)"/>
<circle cx="343.54" cy="26.34" r="0.74" fill="rgb(192,192,192)"/>
<circle cx="337.30" cy="26.63" r="0.76" fill="rgb(199,199,199)"/>
<circle cx="340.95" cy="27.84" r="0.60" fill="rgb(192,192,192)"/>
<circle cx="342.73" cy="27.46" r="0.82" fill="rgb(200,200,200)"/>
<circle cx="340.75" cy="24.49" r="0.59" fill="rgb(187,187,187)"/>
<circle cx="340.67" cy="29.67" r="0.83" fill="rgb(187,187,187)"/>
<circle cx="345.97" cy="26.84" r="0.66" fill="rgb(185,185,185)"/>
<circle cx="344.31" cy="29.86" r="0.78" fill="rgb(200,200,200)"/>
<circle cx="342.85" cy="30.35" r="0.75" fill="rgb(206,206,206)"/>
<circle cx="344.18" cy="26.40" r="0.72" fill="rgb(206,206,206)"/>
<circle cx="342.40" cy="24.25" r="0.85" fill="rgb(204,204,204)"/>
<circle cx="340.09" cy="26.53" r="0.79" fill="rgb(191,191,191)"/>
<circle cx="342.05" cy="24.90" r="0.75" fill="rgb(201,201,201)"/>
<circle cx="341.54" cy="29.91" r="0.57" fill="rgb(180,180,180)"/>
<circle cx="342.96" cy="23.25" r="0.63" fill="rgb(200,200,200)"/>
<circle cx="340.61" cy="29.93" r="0.65" fill="rgb(200,200,200)"/>
<circle cx="345.23" cy="29.16" r="0.55" fill="rgb(189,189,189)"/>
<circle cx="342.25" cy="26.16" r="0.79" fill="rgb(208,208,208)"/>
<circle cx="354.42" cy="30.90" r="0.92" fill="rgb(200,200,200)"/>
<circle cx="354.47" cy="29.84" r="0.99" fill="rgb(200,200,200)"/>
<circle cx="356.70" cy="28.17" r="0.78" fill="rgb(200,200,200)"/>
<circle cx="353.74" cy="24.85" r="1.11" fill="rgb(200,200,200)"/>
<circle cx="357.59" cy="29.78" r="1.07" fill="rgb(200,200,200)"/>
<circle cx="357.14" cy="29.76" r="0.92" fill="rgb(200,200,200)"/>
<circle cx="353.52" cy="24.63" r="1.19" fill="rgb(200,200,200)"/>
<circle cx="360.00" cy="29.30" r="0.93" fill="rgb(200,200,200)"/>
<circle cx="354.80" cy="25.14" r="0.90" fill="rgb(200,200,200)"/>
<circle cx="297.10" cy="42.60" r="4.7" fill="rgb(100,100,100)"/>
<circle cx="312.20" cy="42.60" r="4.1" fill="rgb(72,72,72)"/>
<circle cx="297.00" cy="57.80" r="5.1" fill="rgb(190,190,190)"/>
<circle cx="312.50" cy="57.80" r="4.7" fill="rgb(175,175,175)"/>
<circle cx="326.70" cy="57.80" r="4.7" fill="rgb(170,170,170)"/>
<circle cx="341.60" cy="57.80" r="4.8" fill="rgb(105,105,105)"/>
<circle cx="341.89" cy="59.02" r="0.79" fill="rgb(186,186,186)"/>
<circle cx="344.06" cy="55.56" r="0.59" fill="rgb(172,172,172)"/>
<circle cx="343.03" cy="55.08" r="0.70" fill="rgb(180,180,180)"/>
<circle cx="339.94" cy="58.15" r="0.67" fill="rgb(180,180,180)"/>
<circle cx="343.37" cy="60.77" r="0.76" fill="rgb(170,170,170)"/>
<circle cx="343.25" cy="55.23" r="0.70" fill="rgb(186,186,186)"/>
<circle cx="340.72" cy="60.72" r="0.65" fill="rgb(195,195,195)"/>
<circle cx="340.75" cy="56.11" r="0.63" fill="rgb(185,185,185)"/>
<circle cx="345.03" cy="58.42" r="0.74" fill="rgb(194,194,194)"/>
<circle cx="345.61" cy="57.77" r="0.53" fill="rgb(180,180,180)"/>
<circle cx="337.39" cy="58.21" r="0.51" fill="rgb(187,187,187)"/>
<circle cx="340.23" cy="58.60" r="0.53" fill="rgb(186,186,186)"/>
<circle cx="339.55" cy="60.09" r="0.68" fill="rgb(189,189,189)"/>
<circle cx="343.63" cy="56.55" r="0.62" fill="rgb(173,173,173)"/>
<circle cx="337.77" cy="56.45" r="0.60" fill="rgb(191,191,191)"/>
<circle cx="339.02" cy="57.90" r="0.84" fill="rgb(192,192,192)"/>
<circle cx="337.20" cy="57.62" r="0.73" fill="rgb(190,190,190)"/>
<circle cx="343.04" cy="59.12" r="0.75" fill="rgb(169,169,169)"/>
<circle cx="338.56" cy="55.96" r="0.77" fill="rgb(166,166,166)"/>
<circle cx="338.93" cy="59.77" r="0.64" fill="rgb(183,183,183)"/>
<circle cx="343.93" cy="58.55" r="0.50" fill="rgb(171,171,171)"/>
<circle cx="342.94" cy="55.03" r="0.77" fill="rgb(166,166,166)"/>
<circle cx="342.63" cy="53.67" r="0.71" fill="rgb(184,184,184)"/>
<circle cx="343.81" cy="60.72" r="0.74" fill="rgb(193,193,193)"/>
<circle cx="340.74" cy="55.93" r="0.73" fill="rgb(179,179,179)"/>
<circle cx="340.29" cy="56.48" r="0.73" fill="rgb(192,192,192)"/>
<circle cx="345.42" cy="58.70" r="0.82" fill="rgb(185,185,185)"/>
<circle cx="345.75" cy="58.15" r="0.55" fill="rgb(174,174,174)"/>
<circle cx="339.50" cy="56.94" r="0.61" fill="rgb(178,178,178)"/>
<circle cx="342.22" cy="57.94" r="0.70" fill="rgb(183,183,183)"/>
<circle cx="342.55" cy="57.38" r="0.70" fill="rgb(166,166,166)"/>
<circle cx="343.38" cy="54.30" r="0.65" fill="rgb(187,187,187)"/>
<circle cx="344.20" cy="56.34" r="0.50" fill="rgb(177,177,177)"/>
<circle cx="337.90" cy="55.33" r="0.73" fill="rgb(169,169,169)"/>
<circle cx="354.76" cy="58.19" r="0.66" fill="rgb(170,170,170)"/>
<circle cx="356.17" cy="56.35" r="0.69" fill="rgb(170,170,170)"/>
<circle cx="357.58" cy="57.83" r="1.01" fill="rgb(170,170,170)"/>
<circle cx="360.14" cy="60.52" r="0.65" fill="rgb(170,170,170)"/>
<circle cx="358.28" cy="56.75" r="0.61" fill="rgb(170,170,170)"/>
<circle cx="356.92" cy="55.87" r="1.04" fill="rgb(170,170,170)"/>
<circle cx="357.64" cy="58.63" r="1.06" fill="rgb(170,170,170)"/>
<circle cx="356.46" cy="54.20" r="1.04" fill="rgb(170,170,170)"/>
<rect x="55.3" y="93.1" width="311.3" height="48.80000000000001" fill="#2a2a2a"/>
<rect x="132.1" y="93.1" width="1.2" height="48.80000000000001" fill="#b0b0b0"/>
<rect x="210.1" y="93.1" width="1.2" height="48.80000000000001" fill="#b0b0b0"/>
<rect x="288.2" y="93.1" width="1.2" height="48.80000000000001" fill="#b0b0b0"/>
<circle cx="62.70" cy="102.00" r="5.0" fill="rgb(210,210,210)"/>
<circle cx="76.50" cy="102.00" r="4.7" fill="rgb(205,205,205)"/>
<circle cx="91.90" cy="102.00" r="5.0" fill="rgb(185,185,185)"/>
<circle cx="106.60" cy="102.00" r="4.7" fill="rgb(115,115,115)"/>
<circle cx="109.59" cy="103.75" r="0.75" fill="rgb(189,189,189)"/>
<circle cx="104.60" cy="98.39" r="0.82" fill="rgb(176,176,176)"/>
<circle cx="106.50" cy="101.54" r="0.51" fill="rgb(195,195,195)"/>
<circle cx="105.27" cy="98.83" r="0.64" fill="rgb(184,184,184)"/>
<circle cx="106.37" cy="100.23" r="0.80" fill="rgb(190,190,190)"/>
<circle cx="104.70" cy="100.45" r="0.83" fill="rgb(198,198,198)"/>
<circle cx="103.27" cy="103.35" r="0.55" fill="rgb(200,200,200)"/>
<circle cx="109.77" cy="104.86" r="0.56" fill="rgb(200,200,200)"/>
<circle cx="104.24" cy="103.34" r="0.78" fill="rgb(205,205,205)"/>
<circle cx="106.08" cy="105.76" r="0.62" fill="rgb(183,183,183)"/>
<circle cx="110.60" cy="103.60" r="0.75" fill="rgb(201,201,201)"/>
<circle cx="103.30" cy="99.61" r="0.75" fill="rgb(175,175,175)"/>
<circle cx="108.26" cy="99.04" r="0.61" fill="rgb(188,188,188)"/>
<circle cx="108.74" cy="101.68" r="0.64" fill="rgb(187,187,187)"/>
<circle cx="103.28" cy="99.53" r="0.78" fill="rgb(184,184,184)"/>
<circle cx="105.67" cy="99.70" r="0.59" fill="rgb(180,180,180)"/>
<circle cx="103.22" cy="99.96" r="0.81" fill="rgb(176,176,176)"/>
<circle cx="106.21" cy="103.59" r="0.81" fill="rgb(193,193,193)"/>
<circle cx="109.20" cy="105.44" r="0.78" fill="rgb(192,192,192)"/>
<circle cx="104.93" cy="98.17" r="0.62" fill="rgb(177,177,177)"/>
<circle cx="103.65" cy="101.24" r="0.63" fill="rgb(200,200,200)"/>
<circle cx="106.60" cy="97.78" r="0.58" fill="rgb(194,194,194)"/>
<circle cx="109.17" cy="102.97" r="0.75" fill="rgb(204,204,204)"/>
<circle cx="106.49" cy="105.79" r="0.78" fill="rgb(189,189,189)"/>
<circle cx="103.50" cy="101.19" r="0.62" fill="rgb(177,177,177)"/>
<circle cx="106.96" cy="105.31" r="0.81" fill="rgb(203,203,203)"/>
<circle cx="107.84" cy="99.86" r="0.68" fill="rgb(181,181,181)"/>
<circle cx="107.32" cy="103.78" r="0.56" fill="rgb(197,197,197)"/>
<circle cx="105.78" cy="105.22" r="0.63" fill="rgb(199,199,199)"/>
<circle cx="104.92" cy="101.82" r="0.52" fill="rgb(190,190,190)"/>
<circle cx="105.60" cy="103.01" r="0.72" fill="rgb(200,200,200)"/>
<circle cx="108.74" cy="103.21" r="0.51" fill="rgb(183,183,183)"/>
<circle cx="105.98" cy="101.92" r="0.51" fill="rgb(202,202,202)"/>
<circle cx="124.09" cy="99.66" r="0.49" fill="rgb(140,140,140)"/>
<circle cx="121.71" cy="105.96" r="0.46" fill="rgb(140,140,140)"/>
<circle cx="125.72" cy="100.70" r="0.55" fill="rgb(140,140,140)"/>
<circle cx="124.21" cy="101.48" r="0.36" fill="rgb(140,140,140)"/>
<circle cx="122.58" cy="103.82" r="0.37" fill="rgb(140,140,140)"/>
<circle cx="125.19" cy="103.06" r="0.57" fill="rgb(140,140,140)"/>
<circle cx="117.77" cy="103.14" r="0.58" fill="rgb(140,140,140)"/>
<circle cx="125.20" cy="103.37" r="0.45" fill="rgb(140,140,140)"/>
<circle cx="125.21" cy="105.02" r="0.41" fill="rgb(140,140,140)"/>
<circle cx="63.10" cy="118.00" r="5.0" fill="rgb(135,135,135)"/>
<circle cx="77.60" cy="118.00" r="4.6" fill="rgb(85,85,85)"/>
<circle cx="62.60" cy="133.60" r="4.9" fill="rgb(215,215,215)"/>
<circle cx="77.30" cy="133.60" r="4.7" fill="rgb(205,205,205)"/>
<circle cx="91.70" cy="133.60" r="4.6" fill="rgb(185,185,185)"/>
<circle cx="107.20" cy="133.60" r="4.6" fill="rgb(110,110,110)"/>
<circle cx="104.05" cy="132.25" r="0.83" fill="rgb(191,191,191)"/>
<circle cx="105.37" cy="133.53" r="0.80" fill="rgb(181,181,181)"/>
<circle cx="111.36" cy="132.69" r="0.58" fill="rgb(171,171,171)"/>
<circle cx="111.07" cy="132.11" r="0.52" fill="rgb(187,187,187)"/>
<circle cx="110.43" cy="131.39" r="0.52" fill="rgb(195,195,195)"/>
<circle cx="103.53" cy="133.29" r="0.77" fill="rgb(185,185,185)"/>
<circle cx="108.73" cy="134.16" r="0.76" fill="rgb(200,200,200)"/>
<circle cx="108.37" cy="137.11" r="0.71" fill="rgb(184,184,184)"/>
<circle cx="107.27" cy="132.21" r="0.61" fill="rgb(178,178,178)"/>
<circle cx="105.18" cy="135.27" r="0.63" fill="rgb(184,184,184)"/>
<circle cx="107.32" cy="135.21" r="0.74" fill="rgb(170,170,170)"/>
<circle cx="103.20" cy="134.42" r="0.78" fill="rgb(175,175,175)"/>
<circle cx="109.01" cy="132.72" r="0.83" fill="rgb(197,197,197)"/>
<circle cx="104.61" cy="136.25" r="0.77" fill="rgb(200,200,200)"/>
<circle cx="110.58" cy="135.96" r="0.79" fill="rgb(190,190,190)"/>
<circle cx="110.96" cy="135.52" r="0.61" fill="rgb(177,177,177)"/>
<circle cx="103.84" cy="134.08" r="0.55" fill="rgb(177,177,177)"/>
<circle cx="107.04" cy="131.79" r="0.66" fill="rgb(198,198,198)"/>
<circle cx="109.65" cy="136.75" r="0.59" fill="rgb(183,183,183)"/>
<circle cx="107.21" cy="134.28" r="0.70" fill="rgb(179,179,179)"/>
<circle cx="106.31" cy="135.11" r="0.67" fill="rgb(180,180,180)"/>
<circle cx="104.34" cy="134.41" r="0.55" fill="rgb(186,186,186)"/>
<circle cx="110.99" cy="135.02" r="0.73" fill="rgb(176,176,176)"/>
<circle cx="103.56" cy="132.16" r="0.54" fill="rgb(194,194,194)"/>
<circle cx="107.97" cy="136.06" r="0.85" fill="rgb(177,177,177)"/>
<circle cx="108.39" cy="132.99" r="0.60" fill="rgb(198,198,198)"/>
<circle cx="109.25" cy="136.92" r="0.84" fill="rgb(174,174,174)"/>
<circle cx="107.74" cy="133.53" r="0.78" fill="rgb(180,180,180)"/>
<circle cx="104.36" cy="133.41" r="0.78" fill="rgb(200,200,200)"/>
<circle cx="105.38" cy="133.29" r="0.65" fill="rgb(199,199,199)"/>
<circle cx="105.31" cy="134.82" r="0.56" fill="rgb(196,196,196)"/>
<circle cx="123.39" cy="136.78" r="1.03" fill="rgb(160,160,160)"/>
<circle cx="122.27" cy="134.66" r="0.65" fill="rgb(160,160,160)"/>
<circle cx="119.71" cy="131.83" r="0.76" fill="rgb(160,160,160)"/>
<circle cx="122.75" cy="136.61" r="1.02" fill="rgb(160,160,160)"/>
<circle cx="123.05" cy="130.77" r="0.72" fill="rgb(160,160,160)"/>
<circle cx="125.04" cy="134.97" r="0.84" fill="rgb(160,160,160)"/>
<circle cx="121.73" cy="132.67" r="1.09" fill="rgb(160,160,160)"/>
<circle cx="120.03" cy="136.76" r="1.12" fill="rgb(160,160,160)"/>
<circle cx="140.40" cy="102.30" r="5.7" fill="rgb(225,225,225)"/>
<circle cx="155.40" cy="102.30" r="5.4" fill="rgb(215,215,215)"/>
<circle cx="170.60" cy="102.30" r="4.8" fill="rgb(205,205,205)"/>
<circle cx="185.00" cy="102.30" r="4.8" fill="rgb(115,115,115)"/>
<circle cx="184.45" cy="102.32" r="0.82" fill="rgb(190,190,190)"/>
<circle cx="187.44" cy="105.01" r="0.59" fill="rgb(193,193,193)"/>
<circle cx="186.33" cy="99.94" r="0.56" fill="rgb(186,186,186)"/>
<circle cx="181.31" cy="100.42" r="0.62" fill="rgb(204,204,204)"/>
<circle cx="181.98" cy="103.37" r="0.54" fill="rgb(197,197,197)"/>
<circle cx="185.13" cy="106.36" r="0.82" fill="rgb(199,199,199)"/>
<circle cx="184.33" cy="99.62" r="0.76" fill="rgb(176,176,176)"/>
<circle cx="184.62" cy="103.72" r="0.76" fill="rgb(189,189,189)"/>
<circle cx="181.76" cy="102.03" r="0.69" fill="rgb(175,175,175)"/>
<circle cx="185.05" cy="103.63" r="0.72" fill="rgb(180,180,180)"/>
<circle cx="186.79" cy="103.64" r="0.79" fill="rgb(175,175,175)"/>
<circle cx="189.26" cy="102.82" r="0.76" fill="rgb(183,183,183)"/>
<circle cx="188.43" cy="102.68" r="0.70" fill="rgb(191,191,191)"/>
<circle cx="185.22" cy="105.27" r="0.62" fill="rgb(178,178,178)"/>
<circle cx="184.81" cy="101.37" r="0.54" fill="rgb(190,190,190)"/>
<circle cx="181.66" cy="100.30" r="0.54" fill="rgb(178,178,178)"/>
<circle cx="183.63" cy="103.22" r="0.71" fill="rgb(202,202,202)"/>
<circle cx="185.53" cy="105.91" r="0.66" fill="rgb(187,187,187)"/>
<circle cx="187.08" cy="105.78" r="0.83" fill="rgb(187,187,187)"/>
<circle cx="183.81" cy="99.06" r="0.71" fill="rgb(176,176,176)"/>
<circle cx="181.57" cy="104.94" r="0.77" fill="rgb(185,185,185)"/>
<circle cx="181.68" cy="104.69" r="0.75" fill="rgb(201,201,201)"/>
<circle cx="188.98" cy="101.83" r="0.82" fill="rgb(201,201,201)"/>
<circle cx="182.29" cy="104.26" r="0.61" fill="rgb(179,179,179)"/>
<circle cx="189.16" cy="101.17" r="0.59" fill="rgb(188,188,188)"/>
<circle cx="184.75" cy="101.89" r="0.54" fill="rgb(180,180,180)"/>
<circle cx="187.66" cy="103.54" r="0.68" fill="rgb(175,175,175)"/>
<circle cx="185.44" cy="105.16" r="0.64" fill="rgb(204,204,204)"/>
<circle cx="184.08" cy="102.58" r="0.84" fill="rgb(203,203,203)"/>
<circle cx="189.02" cy="103.34" r="0.72" fill="rgb(204,204,204)"/>
<circle cx="183.99" cy="100.20" r="0.69" fill="rgb(204,204,204)"/>
<circle cx="186.38" cy="102.62" r="0.54" fill="rgb(175,175,175)"/>
<circle cx="181.02" cy="104.06" r="0.60" fill="rgb(184,184,184)"/>
<circle cx="183.95" cy="103.79" r="0.52" fill="rgb(205,205,205)"/>
<circle cx="203.30" cy="101.42" r="0.76" fill="rgb(175,175,175)"/>
<circle cx="196.99" cy="102.99" r="0.69" fill="rgb(175,175,175)"/>
<circle cx="201.36" cy="103.45" r="0.78" fill="rgb(175,175,175)"/>
<circle cx="198.19" cy="103.64" r="0.75" fill="rgb(175,175,175)"/>
<circle cx="203.03" cy="104.04" r="1.10" fill="rgb(175,175,175)"/>
<circle cx="197.58" cy="100.14" r="0.99" fill="rgb(175,175,175)"/>
<circle cx="201.35" cy="105.92" r="0.88" fill="rgb(175,175,175)"/>
<circle cx="196.84" cy="101.25" r="0.88" fill="rgb(175,175,175)"/>
<circle cx="199.38" cy="104.36" r="0.73" fill="rgb(175,175,175)"/>
<circle cx="141.10" cy="118.20" r="4.7" fill="rgb(130,130,130)"/>
<circle cx="155.90" cy="118.20" r="4.4" fill="rgb(100,100,100)"/>
<circle cx="171.30" cy="118.20" r="4.0" fill="rgb(45,45,45)"/>
<circle cx="141.00" cy="133.60" r="5.5" fill="rgb(225,225,225)"/>
<circle cx="155.90" cy="133.60" r="5.3" fill="rgb(215,215,215)"/>
<circle cx="171.00" cy="133.60" r="5.0" fill="rgb(205,205,205)"/>
<circle cx="186.20" cy="133.60" r="4.8" fill="rgb(110,110,110)"/>
<circle cx="183.45" cy="133.38" r="0.70" fill="rgb(170,170,170)"/>
<circle cx="187.80" cy="132.78" r="0.83" fill="rgb(180,180,180)"/>
<circle cx="183.27" cy="132.51" r="0.60" fill="rgb(176,176,176)"/>
<circle cx="185.09" cy="137.36" r="0.56" fill="rgb(172,172,172)"/>
<circle cx="184.13" cy="131.97" r="0.73" fill="rgb(186,186,186)"/>
<circle cx="183.94" cy="135.52" r="0.76" fill="rgb(173,173,173)"/>
<circle cx="181.80" cy="133.02" r="0.74" fill="rgb(199,199,199)"/>
<circle cx="187.66" cy="135.74" r="0.62" fill="rgb(191,191,191)"/>
<circle cx="187.23" cy="136.93" r="0.60" fill="rgb(196,196,196)"/>
<circle cx="182.39" cy="133.17" r="0.76" fill="rgb(194,194,194)"/>
<circle cx="188.51" cy="133.54" r="0.72" fill="rgb(190,190,190)"/>
<circle cx="187.57" cy="132.79" r="0.80" fill="rgb(170,170,170)"/>
<circle cx="183.40" cy="135.37" r="0.54" fill="rgb(182,182,182)"/>
<circle cx="189.48" cy="132.82" r="0.65" fill="rgb(195,195,195)"/>
<circle cx="185.56" cy="137.06" r="0.54" fill="rgb(197,197,197)"/>
<circle cx="183.31" cy="134.49" r="0.75" fill="rgb(179,179,179)"/>
<circle cx="184.25" cy="136.18" r="0.71" fill="rgb(190,190,190)"/>
<circle cx="184.47" cy="137.16" r="0.80" fill="rgb(185,185,185)"/>
<circle cx="184.41" cy="135.27" r="0.69" fill="rgb(195,195,195)"/>
<circle cx="188.28" cy="136.28" r="0.70" fill="rgb(172,172,172)"/>
<circle cx="187.32" cy="131.29" r="0.84" fill="rgb(189,189,189)"/>
<circle cx="188.50" cy="129.88" r="0.57" fill="rgb(183,183,183)"/>
<circle cx="189.58" cy="130.84" r="0.51" fill="rgb(178,178,178)"/>
<circle cx="183.31" cy="132.35" r="0.82" fill="rgb(194,194,194)"/>
<circle cx="184.86" cy="136.85" r="0.65" fill="rgb(196,196,196)"/>
<circle cx="182.53" cy="133.20" r="0.64" fill="rgb(181,181,181)"/>
<circle cx="189.75" cy="134.53" r="0.66" fill="rgb(170,170,170)"/>
<circle cx="184.76" cy="130.70" r="0.53" fill="rgb(181,181,181)"/>
<circle cx="182.61" cy="133.58" r="0.82" fill="rgb(174,174,174)"/>
<circle cx="189.39" cy="130.60" r="0.67" fill="rgb(184,184,184)"/>
<circle cx="186.66" cy="129.39" r="0.71" fill="rgb(192,192,192)"/>
<circle cx="182.24" cy="132.84" r="0.56" fill="rgb(180,180,180)"/>
<circle cx="185.38" cy="134.51" r="0.61" fill="rgb(175,175,175)"/>
<circle cx="189.44" cy="136.30" r="0.74" fill="rgb(196,196,196)"/>
<circle cx="203.92" cy="132.47" r="1.18" fill="rgb(170,170,170)"/>
<circle cx="199.33" cy="131.48" r="1.09" fill="rgb(170,170,170)"/>
<circle cx="202.29" cy="137.25" r="0.85" fill="rgb(170,170,170)"/>
<circle cx="204.09" cy="134.71" r="0.66" fill="rgb(170,170,170)"/>
<circle cx="198.42" cy="132.25" r="1.03" fill="rgb(170,170,170)"/>
<circle cx="201.15" cy="133.21" r="0.60" fill="rgb(170,170,170)"/>
<circle cx="200.57" cy="130.72" r="1.15" fill="rgb(170,170,170)"/>
<circle cx="200.30" cy="134.35" r="0.61" fill="rgb(170,170,170)"/>
<circle cx="220.70" cy="102.80" r="5.7" fill="rgb(220,220,220)"/>
<circle cx="235.60" cy="102.80" r="5.2" fill="rgb(205,205,205)"/>
<circle cx="249.70" cy="102.80" r="5.1" fill="rgb(195,195,195)"/>
<circle cx="265.00" cy="102.80" r="5.0" fill="rgb(135,135,135)"/>
<circle cx="266.91" cy="103.16" r="0.77" fill="rgb(213,213,213)"/>
<circle cx="264.62" cy="106.52" r="0.69" fill="rgb(199,199,199)"/>
<circle cx="262.34" cy="101.46" r="0.54" fill="rgb(200,200,200)"/>
<circle cx="261.70" cy="102.42" r="0.51" fill="rgb(197,197,197)"/>
<circle cx="266.61" cy="105.75" r="0.79" fill="rgb(214,214,214)"/>
<circle cx="261.23" cy="104.56" r="0.73" fill="rgb(216,216,216)"/>
<circle cx="265.34" cy="100.18" r="0.75" fill="rgb(206,206,206)"/>
<circle cx="264.87" cy="103.63" r="0.72" fill="rgb(222,222,222)"/>
<circle cx="267.92" cy="100.78" r="0.62" fill="rgb(209,209,209)"/>
<circle cx="264.54" cy="102.34" r="0.58" fill="rgb(207,207,207)"/>
<circle cx="261.05" cy="100.54" r="0.65" fill="rgb(214,214,214)"/>
<circle cx="265.16" cy="104.99" r="0.56" fill="rgb(213,213,213)"/>
<circle cx="266.60" cy="100.74" r="0.81" fill="rgb(221,221,221)"/>
<circle cx="262.11" cy="103.63" r="0.59" fill="rgb(223,223,223)"/>
<circle cx="260.47" cy="102.93" r="0.59" fill="rgb(207,207,207)"/>
<circle cx="263.38" cy="99.63" r="0.64" fill="rgb(207,207,207)"/>
<circle cx="267.29" cy="100.52" r="0.78" fill="rgb(202,202,202)"/>
<circle cx="266.63" cy="103.80" r="0.63" fill="rgb(195,195,195)"/>
<circle cx="267.47" cy="102.35" r="0.70" fill="rgb(198,198,198)"/>
<circle cx="262.79" cy="106.54" r="0.62" fill="rgb(215,215,215)"/>
<circle cx="266.50" cy="103.45" r="0.79" fill="rgb(206,206,206)"/>
<circle cx="262.27" cy="101.84" r="0.66" fill="rgb(206,206,206)"/>
<circle cx="265.07" cy="103.67" r="0.73" fill="rgb(205,205,205)"/>
<circle cx="265.77" cy="100.65" r="0.55" fill="rgb(201,201,201)"/>
<circle cx="264.48" cy="107.02" r="0.54" fill="rgb(209,209,209)"/>
<circle cx="260.94" cy="103.65" r="0.58" fill="rgb(206,206,206)"/>
<circle cx="262.62" cy="105.95" r="0.63" fill="rgb(225,225,225)"/>
<circle cx="262.78" cy="101.57" r="0.67" fill="rgb(201,201,201)"/>
<circle cx="265.45" cy="105.90" r="0.55" fill="rgb(217,217,217)"/>
<circle cx="268.59" cy="102.75" r="0.65" fill="rgb(206,206,206)"/>
<circle cx="262.11" cy="102.16" r="0.68" fill="rgb(199,199,199)"/>
<circle cx="266.13" cy="101.63" r="0.68" fill="rgb(212,212,212)"/>
<circle cx="267.38" cy="99.60" r="0.77" fill="rgb(195,195,195)"/>
<circle cx="263.08" cy="99.87" r="0.61" fill="rgb(207,207,207)"/>
<circle cx="264.05" cy="99.04" r="0.77" fill="rgb(202,202,202)"/>
<circle cx="263.37" cy="106.21" r="0.54" fill="rgb(212,212,212)"/>
<circle cx="268.58" cy="100.65" r="0.77" fill="rgb(201,201,201)"/>
<circle cx="280.83" cy="102.67" r="0.74" fill="rgb(210,210,210)"/>
<circle cx="281.08" cy="103.81" r="0.77" fill="rgb(210,210,210)"/>
<circle cx="276.95" cy="103.63" r="1.06" fill="rgb(210,210,210)"/>
<circle cx="281.36" cy="100.13" r="0.68" fill="rgb(210,210,210)"/>
<circle cx="279.21" cy="102.51" r="1.01" fill="rgb(210,210,210)"/>
<circle cx="278.38" cy="100.48" r="0.85" fill="rgb(210,210,210)"/>
<circle cx="220.20" cy="117.60" r="4.4" fill="rgb(120,120,120)"/>
<circle cx="218.35" cy="114.72" r="0.59" fill="rgb(207,207,207)"/>
<circle cx="217.04" cy="119.88" r="0.53" fill="rgb(189,189,189)"/>
<circle cx="223.13" cy="120.19" r="0.76" fill="rgb(202,202,202)"/>
<circle cx="219.05" cy="115.26" r="0.71" fill="rgb(193,193,193)"/>
<circle cx="220.92" cy="119.73" r="0.63" fill="rgb(181,181,181)"/>
<circle cx="217.13" cy="116.55" r="0.83" fill="rgb(198,198,198)"/>
<circle cx="221.85" cy="114.99" r="0.75" fill="rgb(188,188,188)"/>
<circle cx="223.19" cy="116.09" r="0.70" fill="rgb(209,209,209)"/>
<circle cx="223.94" cy="117.62" r="0.77" fill="rgb(189,189,189)"/>
<circle cx="223.31" cy="115.37" r="0.70" fill="rgb(202,202,202)"/>
<circle cx="222.13" cy="118.19" r="0.54" fill="rgb(205,205,205)"/>
<circle cx="218.69" cy="120.88" r="0.62" fill="rgb(209,209,209)"/>
<circle cx="223.12" cy="119.36" r="0.64" fill="rgb(203,203,203)"/>
<circle cx="218.76" cy="116.33" r="0.68" fill="rgb(191,191,191)"/>
<circle cx="222.71" cy="116.72" r="0.83" fill="rgb(202,202,202)"/>
<circle cx="216.81" cy="117.53" r="0.79" fill="rgb(200,200,200)"/>
<circle cx="219.29" cy="117.88" r="0.74" fill="rgb(193,193,193)"/>
<circle cx="218.45" cy="114.27" r="0.77" fill="rgb(195,195,195)"/>
<circle cx="220.26" cy="116.75" r="0.75" fill="rgb(205,205,205)"/>
<circle cx="218.61" cy="116.98" r="0.56" fill="rgb(204,204,204)"/>
<circle cx="218.24" cy="115.31" r="0.59" fill="rgb(181,181,181)"/>
<circle cx="221.39" cy="119.70" r="0.53" fill="rgb(200,200,200)"/>
<circle cx="219.64" cy="119.00" r="0.75" fill="rgb(201,201,201)"/>
<circle cx="216.78" cy="117.97" r="0.50" fill="rgb(202,202,202)"/>
<circle cx="216.48" cy="118.94" r="0.62" fill="rgb(189,189,189)"/>
<circle cx="222.50" cy="120.16" r="0.71" fill="rgb(187,187,187)"/>
<circle cx="218.35" cy="120.80" r="0.69" fill="rgb(204,204,204)"/>
<circle cx="223.34" cy="116.38" r="0.55" fill="rgb(194,194,194)"/>
<circle cx="221.59" cy="115.39" r="0.57" fill="rgb(202,202,202)"/>
<circle cx="220.20" cy="133.00" r="5.0" fill="rgb(130,130,130)"/>
<circle cx="219.52" cy="135.71" r="0.57" fill="rgb(191,191,191)"/>
<circle cx="222.23" cy="131.44" r="0.54" fill="rgb(199,199,199)"/>
<circle cx="218.72" cy="133.50" r="0.61" fill="rgb(204,204,204)"/>
<circle cx="217.93" cy="131.95" r="0.70" fill="rgb(191,191,191)"/>
<circle cx="224.82" cy="133.31" r="0.76" fill="rgb(192,192,192)"/>
<circle cx="220.15" cy="130.32" r="0.76" fill="rgb(198,198,198)"/>
<circle cx="222.72" cy="135.05" r="0.65" fill="rgb(196,196,196)"/>
<circle cx="220.76" cy="130.42" r="0.63" fill="rgb(192,192,192)"/>
<circle cx="217.93" cy="130.10" r="0.83" fill="rgb(210,210,210)"/>
<circle cx="219.02" cy="129.43" r="0.53" fill="rgb(213,213,213)"/>
<circle cx="224.23" cy="133.71" r="0.79" fill="rgb(199,199,199)"/>
<circle cx="217.12" cy="136.37" r="0.68" fill="rgb(218,218,218)"/>
<circle cx="221.91" cy="132.15" r="0.77" fill="rgb(216,216,216)"/>
<circle cx="218.85" cy="136.39" r="0.63" fill="rgb(210,210,210)"/>
<circle cx="221.40" cy="130.66" r="0.63" fill="rgb(207,207,207)"/>
<circle cx="223.93" cy="130.94" r="0.59" fill="rgb(191,191,191)"/>
<circle cx="223.58" cy="133.90" r="0.72" fill="rgb(216,216,216)"/>
<circle cx="223.15" cy="133.00" r="0.52" fill="rgb(196,196,196)"/>
<circle cx="216.92" cy="133.12" r="0.56" fill="rgb(199,199,199)"/>
<circle cx="217.26" cy="130.79" r="0.55" fill="rgb(197,197,197)"/>
<circle cx="221.80" cy="135.65" r="0.84" fill="rgb(192,192,192)"/>
<circle cx="224.45" cy="132.44" r="0.67" fill="rgb(196,196,196)"/>
<circle cx="220.16" cy="132.76" r="0.79" fill="rgb(217,217,217)"/>
<circle cx="221.87" cy="130.12" r="0.55" fill="rgb(192,192,192)"/>
<circle cx="218.44" cy="130.17" r="0.65" fill="rgb(200,200,200)"/>
<circle cx="220.60" cy="133.17" r="0.83" fill="rgb(195,195,195)"/>
<circle cx="221.75" cy="131.93" r="0.60" fill="rgb(204,204,204)"/>
<circle cx="221.47" cy="129.40" r="0.70" fill="rgb(205,205,205)"/>
<circle cx="222.48" cy="134.35" r="0.66" fill="rgb(207,207,207)"/>
<circle cx="223.83" cy="130.65" r="0.84" fill="rgb(220,220,220)"/>
<circle cx="219.17" cy="132.16" r="0.78" fill="rgb(213,213,213)"/>
<circle cx="218.58" cy="129.75" r="0.60" fill="rgb(208,208,208)"/>
<circle cx="217.72" cy="134.34" r="0.73" fill="rgb(194,194,194)"/>
<circle cx="219.37" cy="135.60" r="0.81" fill="rgb(190,190,190)"/>
<circle cx="221.47" cy="131.21" r="0.76" fill="rgb(212,212,212)"/>
<circle cx="223.45" cy="134.93" r="0.63" fill="rgb(208,208,208)"/>
<circle cx="222.81" cy="132.02" r="0.58" fill="rgb(204,204,204)"/>
<circle cx="234.30" cy="137.60" r="0.7" fill="rgb(200,200,200)"/>
<circle cx="239.50" cy="134.40" r="0.7" fill="rgb(200,200,200)"/>
<circle cx="297.50" cy="103.20" r="5.3" fill="rgb(220,220,220)"/>
<circle cx="312.70" cy="103.20" r="5.0" fill="rgb(210,210,210)"/>
<circle cx="328.30" cy="103.20" r="4.9" fill="rgb(205,205,205)"/>
<circle cx="343.30" cy="103.20" r="4.8" fill="rgb(130,130,130)"/>
<circle cx="342.10" cy="104.11" r="0.56" fill="rgb(218,218,218)"/>
<circle cx="344.43" cy="106.90" r="0.58" fill="rgb(216,216,216)"/>
<circle cx="343.27" cy="104.58" r="0.69" fill="rgb(198,198,198)"/>
<circle cx="342.76" cy="101.14" r="0.66" fill="rgb(207,207,207)"/>
<circle cx="341.95" cy="102.54" r="0.68" fill="rgb(208,208,208)"/>
<circle cx="339.54" cy="101.52" r="0.74" fill="rgb(215,215,215)"/>
<circle cx="339.45" cy="104.74" r="0.69" fill="rgb(212,212,212)"/>
<circle cx="345.59" cy="99.51" r="0.72" fill="rgb(220,220,220)"/>
<circle cx="343.05" cy="101.80" r="0.79" fill="rgb(202,202,202)"/>
<circle cx="339.08" cy="101.99" r="0.57" fill="rgb(205,205,205)"/>
<circle cx="343.56" cy="101.57" r="0.77" fill="rgb(191,191,191)"/>
<circle cx="342.50" cy="103.75" r="0.51" fill="rgb(212,212,212)"/>
<circle cx="341.59" cy="102.05" r="0.60" fill="rgb(212,212,212)"/>
<circle cx="346.10" cy="106.40" r="0.53" fill="rgb(217,217,217)"/>
<circle cx="343.75" cy="104.64" r="0.75" fill="rgb(201,201,201)"/>
<circle cx="345.20" cy="106.55" r="0.62" fill="rgb(214,214,214)"/>
<circle cx="343.26" cy="102.72" r="0.59" fill="rgb(197,197,197)"/>
<circle cx="340.62" cy="105.94" r="0.83" fill="rgb(213,213,213)"/>
<circle cx="339.28" cy="103.48" r="0.62" fill="rgb(201,201,201)"/>
<circle cx="339.49" cy="101.99" r="0.54" fill="rgb(219,219,219)"/>
<circle cx="345.16" cy="102.02" r="0.62" fill="rgb(212,212,212)"/>
<circle cx="339.44" cy="104.54" r="0.70" fill="rgb(193,193,193)"/>
<circle cx="344.10" cy="100.19" r="0.53" fill="rgb(198,198,198)"/>
<circle cx="344.61" cy="106.25" r="0.60" fill="rgb(211,211,211)"/>
<circle cx="341.32" cy="99.63" r="0.71" fill="rgb(198,198,198)"/>
<circle cx="339.70" cy="102.31" r="0.78" fill="rgb(220,220,220)"/>
<circle cx="342.64" cy="103.44" r="0.85" fill="rgb(205,205,205)"/>
<circle cx="339.13" cy="103.15" r="0.78" fill="rgb(191,191,191)"/>
<circle cx="346.44" cy="104.79" r="0.73" fill="rgb(209,209,209)"/>
<circle cx="340.90" cy="105.12" r="0.56" fill="rgb(217,217,217)"/>
<circle cx="341.27" cy="103.88" r="0.84" fill="rgb(206,206,206)"/>
<circle cx="345.58" cy="104.38" r="0.58" fill="rgb(218,218,218)"/>
<circle cx="345.70" cy="105.79" r="0.57" fill="rgb(216,216,216)"/>
<circle cx="341.34" cy="105.54" r="0.70" fill="rgb(202,202,202)"/>
<circle cx="359.11" cy="102.45" r="0.80" fill="rgb(190,190,190)"/>
<circle cx="355.64" cy="103.37" r="0.75" fill="rgb(190,190,190)"/>
<circle cx="359.25" cy="101.28" r="0.98" fill="rgb(190,190,190)"/>
<circle cx="357.11" cy="101.89" r="0.83" fill="rgb(190,190,190)"/>
<circle cx="360.51" cy="104.55" r="0.81" fill="rgb(190,190,190)"/>
<circle cx="354.90" cy="102.01" r="0.68" fill="rgb(190,190,190)"/>
<circle cx="356.24" cy="100.03" r="1.14" fill="rgb(190,190,190)"/>
<circle cx="297.70" cy="118.00" r="5.2" fill="rgb(215,215,215)"/>
<circle cx="312.70" cy="118.00" r="5.0" fill="rgb(205,205,205)"/>
<circle cx="328.30" cy="118.00" r="4.9" fill="rgb(190,190,190)"/>
<circle cx="343.70" cy="118.00" r="4.5" fill="rgb(115,115,115)"/>
<circle cx="345.24" cy="119.05" r="0.65" fill="rgb(193,193,193)"/>
<circle cx="342.03" cy="116.11" r="0.60" fill="rgb(200,200,200)"/>
<circle cx="343.98" cy="121.72" r="0.55" fill="rgb(177,177,177)"/>
<circle cx="342.48" cy="121.45" r="0.76" fill="rgb(191,191,191)"/>
<circle cx="344.95" cy="116.35" r="0.81" fill="rgb(197,197,197)"/>
<circle cx="342.85" cy="118.57" r="0.62" fill="rgb(185,185,185)"/>
<circle cx="346.46" cy="115.53" r="0.68" fill="rgb(203,203,203)"/>
<circle cx="343.78" cy="120.03" r="0.62" fill="rgb(179,179,179)"/>
<circle cx="344.79" cy="121.79" r="0.73" fill="rgb(187,187,187)"/>
<circle cx="340.73" cy="119.06" r="0.61" fill="rgb(180,180,180)"/>
<circle cx="342.34" cy="117.18" r="0.75" fill="rgb(183,183,183)"/>
<circle cx="343.25" cy="114.93" r="0.83" fill="rgb(185,185,185)"/>
<circle cx="345.33" cy="118.81" r="0.82" fill="rgb(193,193,193)"/>
<circle cx="345.08" cy="120.87" r="0.85" fill="rgb(186,186,186)"/>
<circle cx="347.12" cy="117.36" r="0.75" fill="rgb(204,204,204)"/>
<circle cx="346.35" cy="119.20" r="0.81" fill="rgb(183,183,183)"/>
<circle cx="346.18" cy="116.15" r="0.77" fill="rgb(195,195,195)"/>
<circle cx="343.30" cy="121.49" r="0.58" fill="rgb(187,187,187)"/>
<circle cx="339.96" cy="119.27" r="0.60" fill="rgb(191,191,191)"/>
<circle cx="342.59" cy="116.51" r="0.76" fill="rgb(205,205,205)"/>
<circle cx="344.34" cy="118.67" r="0.53" fill="rgb(201,201,201)"/>
<circle cx="345.43" cy="116.28" r="0.55" fill="rgb(181,181,181)"/>
<circle cx="343.27" cy="121.33" r="0.51" fill="rgb(185,185,185)"/>
<circle cx="345.41" cy="117.10" r="0.61" fill="rgb(198,198,198)"/>
<circle cx="346.58" cy="118.49" r="0.71" fill="rgb(200,200,200)"/>
<circle cx="343.17" cy="118.85" r="0.64" fill="rgb(176,176,176)"/>
<circle cx="346.50" cy="119.71" r="0.77" fill="rgb(194,194,194)"/>
<circle cx="340.42" cy="120.39" r="0.81" fill="rgb(175,175,175)"/>
<circle cx="346.50" cy="116.58" r="0.85" fill="rgb(176,176,176)"/>
<circle cx="340.66" cy="119.79" r="0.79" fill="rgb(180,180,180)"/>
<circle cx="357.62" cy="118.55" r="0.69" fill="rgb(190,190,190)"/>
<circle cx="356.88" cy="117.25" r="1.09" fill="rgb(190,190,190)"/>
<circle cx="355.17" cy="118.85" r="0.95" fill="rgb(190,190,190)"/>
<circle cx="354.89" cy="117.31" r="0.96" fill="rgb(190,190,190)"/>
<circle cx="355.75" cy="119.88" r="0.75" fill="rgb(190,190,190)"/>
<circle cx="297.80" cy="133.00" r="5.1" fill="rgb(215,215,215)"/>
<circle cx="312.70" cy="133.00" r="5.0" fill="rgb(210,210,210)"/>
<circle cx="328.40" cy="133.00" r="4.7" fill="rgb(180,180,180)"/>
<circle cx="344.20" cy="133.00" r="4.5" fill="rgb(110,110,110)"/>
<circle cx="343.32" cy="129.45" r="0.77" fill="rgb(179,179,179)"/>
<circle cx="342.40" cy="130.47" r="0.75" fill="rgb(187,187,187)"/>
<circle cx="343.67" cy="135.98" r="0.83" fill="rgb(174,174,174)"/>
<circle cx="344.14" cy="136.13" r="0.53" fill="rgb(195,195,195)"/>
<circle cx="344.58" cy="130.51" r="0.85" fill="rgb(177,177,177)"/>
<circle cx="340.84" cy="135.42" r="0.83" fill="rgb(189,189,189)"/>
<circle cx="344.88" cy="133.77" r="0.68" fill="rgb(187,187,187)"/>
<circle cx="344.56" cy="130.90" r="0.71" fill="rgb(193,193,193)"/>
<circle cx="345.24" cy="134.42" r="0.76" fill="rgb(199,199,199)"/>
<circle cx="344.75" cy="130.01" r="0.62" fill="rgb(192,192,192)"/>
<circle cx="344.39" cy="137.14" r="0.67" fill="rgb(190,190,190)"/>
<circle cx="347.58" cy="130.92" r="0.64" fill="rgb(176,176,176)"/>
<circle cx="342.42" cy="136.56" r="0.54" fill="rgb(193,193,193)"/>
<circle cx="347.94" cy="133.36" r="0.82" fill="rgb(191,191,191)"/>
<circle cx="344.87" cy="132.23" r="0.70" fill="rgb(183,183,183)"/>
<circle cx="346.34" cy="131.59" r="0.73" fill="rgb(197,197,197)"/>
<circle cx="344.54" cy="135.07" r="0.59" fill="rgb(183,183,183)"/>
<circle cx="344.33" cy="135.49" r="0.61" fill="rgb(183,183,183)"/>
<circle cx="342.77" cy="131.21" r="0.85" fill="rgb(176,176,176)"/>
<circle cx="347.90" cy="132.56" r="0.67" fill="rgb(199,199,199)"/>
<circle cx="345.67" cy="131.42" r="0.76" fill="rgb(196,196,196)"/>
<circle cx="343.81" cy="134.18" r="0.50" fill="rgb(197,197,197)"/>
<circle cx="345.50" cy="131.94" r="0.74" fill="rgb(189,189,189)"/>
<circle cx="346.06" cy="132.48" r="0.52" fill="rgb(195,195,195)"/>
<circle cx="345.18" cy="136.81" r="0.63" fill="rgb(194,194,194)"/>
<circle cx="344.62" cy="130.26" r="0.65" fill="rgb(174,174,174)"/>
<circle cx="346.48" cy="132.93" r="0.51" fill="rgb(173,173,173)"/>
<circle cx="346.51" cy="136.26" r="0.55" fill="rgb(179,179,179)"/>
<circle cx="346.30" cy="135.92" r="0.53" fill="rgb(175,175,175)"/>
<circle cx="341.63" cy="133.58" r="0.64" fill="rgb(190,190,190)"/>
<circle cx="360.21" cy="131.76" r="0.57" fill="rgb(150,150,150)"/>
<circle cx="358.54" cy="132.93" r="0.41" fill="rgb(150,150,150)"/>
<circle cx="358.65" cy="130.60" r="0.36" fill="rgb(150,150,150)"/>
<circle cx="356.56" cy="132.96" r="0.46" fill="rgb(150,150,150)"/>
<circle cx="358.33" cy="133.26" r="0.60" fill="rgb(150,150,150)"/>
<circle cx="356.86" cy="135.57" r="0.38" fill="rgb(150,150,150)"/>
<rect x="55.3" y="181.5" width="311.3" height="28.400000000000006" fill="#2a2a2a"/>
<rect x="55.3" y="181.5" width="77.39999999999999" height="28.400000000000006" fill="#2d2d2d"/>
<rect x="210.7" y="181.5" width="78.10000000000002" height="28.400000000000006" fill="#2d2d2d"/>
<rect x="288.8" y="181.5" width="77.80000000000001" height="28.400000000000006" fill="#3a3a3a"/>
<rect x="132.1" y="181.5" width="1.2" height="28.400000000000006" fill="#b0b0b0"/>
<rect x="210.1" y="181.5" width="1.2" height="28.400000000000006" fill="#b0b0b0"/>
<rect x="288.2" y="181.5" width="1.2" height="28.400000000000006" fill="#b0b0b0"/>
<circle cx="62.50" cy="188.50" r="5.9" fill="rgb(200,200,200)"/>
<circle cx="78.30" cy="188.50" r="5.7" fill="rgb(195,195,195)"/>
<circle cx="93.60" cy="188.50" r="5.6" fill="rgb(195,195,195)"/>
<circle cx="108.90" cy="188.50" r="5.5" fill="rgb(130,130,130)"/>
<circle cx="107.02" cy="188.65" r="0.65" fill="rgb(195,195,195)"/>
<circle cx="109.51" cy="192.21" r="0.72" fill="rgb(207,207,207)"/>
<circle cx="107.19" cy="188.49" r="0.62" fill="rgb(205,205,205)"/>
<circle cx="110.27" cy="188.12" r="0.84" fill="rgb(217,217,217)"/>
<circle cx="113.61" cy="187.52" r="0.76" fill="rgb(198,198,198)"/>
<circle cx="108.72" cy="187.90" r="0.59" fill="rgb(220,220,220)"/>
<circle cx="112.41" cy="189.48" r="0.64" fill="rgb(207,207,207)"/>
<circle cx="111.42" cy="187.71" r="0.61" fill="rgb(191,191,191)"/>
<circle cx="106.74" cy="185.41" r="0.69" fill="rgb(212,212,212)"/>
<circle cx="104.59" cy="191.22" r="0.76" fill="rgb(198,198,198)"/>
<circle cx="106.57" cy="190.21" r="0.65" fill="rgb(194,194,194)"/>
<circle cx="106.49" cy="190.57" r="0.64" fill="rgb(194,194,194)"/>
<circle cx="112.17" cy="186.06" r="0.58" fill="rgb(206,206,206)"/>
<circle cx="111.21" cy="187.35" r="0.71" fill="rgb(202,202,202)"/>
<circle cx="113.54" cy="188.24" r="0.73" fill="rgb(192,192,192)"/>
<circle cx="111.40" cy="184.72" r="0.82" fill="rgb(191,191,191)"/>
<circle cx="105.73" cy="190.63" r="0.74" fill="rgb(204,204,204)"/>
<circle cx="106.16" cy="187.63" r="0.84" fill="rgb(190,190,190)"/>
<circle cx="104.84" cy="189.18" r="0.66" fill="rgb(200,200,200)"/>
<circle cx="104.63" cy="185.71" r="0.58" fill="rgb(210,210,210)"/>
<circle cx="110.13" cy="183.89" r="0.62" fill="rgb(192,192,192)"/>
<circle cx="105.99" cy="190.80" r="0.71" fill="rgb(211,211,211)"/>
<circle cx="109.53" cy="187.28" r="0.78" fill="rgb(211,211,211)"/>
<circle cx="109.57" cy="192.45" r="0.59" fill="rgb(219,219,219)"/>
<circle cx="111.46" cy="184.52" r="0.62" fill="rgb(208,208,208)"/>
<circle cx="106.52" cy="188.85" r="0.55" fill="rgb(219,219,219)"/>
<circle cx="109.04" cy="185.42" r="0.57" fill="rgb(195,195,195)"/>
<circle cx="109.87" cy="186.20" r="0.56" fill="rgb(216,216,216)"/>
<circle cx="107.77" cy="186.67" r="0.83" fill="rgb(217,217,217)"/>
<circle cx="112.65" cy="185.56" r="0.52" fill="rgb(202,202,202)"/>
<circle cx="105.83" cy="192.13" r="0.65" fill="rgb(203,203,203)"/>
<circle cx="110.36" cy="190.61" r="0.54" fill="rgb(201,201,201)"/>
<circle cx="106.98" cy="185.34" r="0.61" fill="rgb(211,211,211)"/>
<circle cx="111.64" cy="190.19" r="0.85" fill="rgb(212,212,212)"/>
<circle cx="112.01" cy="191.13" r="0.76" fill="rgb(195,195,195)"/>
<circle cx="109.01" cy="186.52" r="0.74" fill="rgb(201,201,201)"/>
<circle cx="104.75" cy="188.79" r="0.72" fill="rgb(206,206,206)"/>
<circle cx="107.21" cy="191.17" r="0.51" fill="rgb(196,196,196)"/>
<circle cx="111.51" cy="188.51" r="0.71" fill="rgb(199,199,199)"/>
<circle cx="108.37" cy="185.87" r="0.61" fill="rgb(197,197,197)"/>
<circle cx="108.57" cy="191.87" r="0.68" fill="rgb(205,205,205)"/>
<circle cx="110.35" cy="186.72" r="0.65" fill="rgb(215,215,215)"/>
<circle cx="107.76" cy="192.88" r="0.82" fill="rgb(212,212,212)"/>
<circle cx="106.00" cy="189.60" r="0.75" fill="rgb(199,199,199)"/>
<circle cx="112.20" cy="187.87" r="0.71" fill="rgb(198,198,198)"/>
<circle cx="124.18" cy="189.99" r="0.95" fill="rgb(200,200,200)"/>
<circle cx="126.47" cy="187.90" r="1.18" fill="rgb(200,200,200)"/>
<circle cx="124.87" cy="186.72" r="1.00" fill="rgb(200,200,200)"/>
<circle cx="124.92" cy="189.20" r="1.05" fill="rgb(200,200,200)"/>
<circle cx="123.72" cy="190.00" r="0.90" fill="rgb(200,200,200)"/>
<circle cx="127.42" cy="186.98" r="0.62" fill="rgb(200,200,200)"/>
<circle cx="62.90" cy="203.30" r="5.6" fill="rgb(190,190,190)"/>
<circle cx="78.20" cy="203.30" r="5.2" fill="rgb(185,185,185)"/>
<circle cx="93.50" cy="203.30" r="5.3" fill="rgb(180,180,180)"/>
<circle cx="109.00" cy="203.30" r="5.0" fill="rgb(125,125,125)"/>
<circle cx="106.36" cy="201.56" r="0.66" fill="rgb(211,211,211)"/>
<circle cx="104.73" cy="205.11" r="0.56" fill="rgb(187,187,187)"/>
<circle cx="105.97" cy="204.50" r="0.68" fill="rgb(211,211,211)"/>
<circle cx="111.24" cy="203.43" r="0.57" fill="rgb(202,202,202)"/>
<circle cx="112.71" cy="204.27" r="0.69" fill="rgb(209,209,209)"/>
<circle cx="106.60" cy="205.35" r="0.53" fill="rgb(212,212,212)"/>
<circle cx="112.72" cy="205.26" r="0.54" fill="rgb(187,187,187)"/>
<circle cx="110.25" cy="201.54" r="0.66" fill="rgb(211,211,211)"/>
<circle cx="107.35" cy="199.74" r="0.67" fill="rgb(186,186,186)"/>
<circle cx="105.18" cy="202.05" r="0.80" fill="rgb(189,189,189)"/>
<circle cx="113.20" cy="203.25" r="0.81" fill="rgb(189,189,189)"/>
<circle cx="108.13" cy="205.13" r="0.84" fill="rgb(190,190,190)"/>
<circle cx="111.43" cy="203.13" r="0.59" fill="rgb(195,195,195)"/>
<circle cx="106.18" cy="205.83" r="0.60" fill="rgb(197,197,197)"/>
<circle cx="105.99" cy="203.09" r="0.52" fill="rgb(194,194,194)"/>
<circle cx="109.03" cy="206.17" r="0.65" fill="rgb(202,202,202)"/>
<circle cx="108.91" cy="205.39" r="0.52" fill="rgb(202,202,202)"/>
<circle cx="106.41" cy="199.63" r="0.73" fill="rgb(207,207,207)"/>
<circle cx="106.57" cy="201.89" r="0.78" fill="rgb(191,191,191)"/>
<circle cx="105.24" cy="204.36" r="0.73" fill="rgb(208,208,208)"/>
<circle cx="107.67" cy="206.42" r="0.64" fill="rgb(203,203,203)"/>
<circle cx="109.39" cy="202.52" r="0.58" fill="rgb(199,199,199)"/>
<circle cx="107.99" cy="207.09" r="0.78" fill="rgb(203,203,203)"/>
<circle cx="106.73" cy="201.40" r="0.75" fill="rgb(191,191,191)"/>
<circle cx="109.80" cy="202.53" r="0.65" fill="rgb(205,205,205)"/>
<circle cx="110.22" cy="204.51" r="0.81" fill="rgb(211,211,211)"/>
<circle cx="107.38" cy="202.18" r="0.82" fill="rgb(202,202,202)"/>
<circle cx="108.85" cy="201.42" r="0.58" fill="rgb(208,208,208)"/>
<circle cx="107.85" cy="201.05" r="0.57" fill="rgb(211,211,211)"/>
<circle cx="111.22" cy="206.75" r="0.75" fill="rgb(201,201,201)"/>
<circle cx="110.16" cy="204.15" r="0.77" fill="rgb(215,215,215)"/>
<circle cx="111.09" cy="203.98" r="0.79" fill="rgb(207,207,207)"/>
<circle cx="112.20" cy="201.15" r="0.55" fill="rgb(186,186,186)"/>
<circle cx="110.51" cy="202.52" r="0.56" fill="rgb(199,199,199)"/>
<circle cx="108.39" cy="205.46" r="0.70" fill="rgb(195,195,195)"/>
<circle cx="107.95" cy="199.50" r="0.61" fill="rgb(193,193,193)"/>
<circle cx="107.08" cy="207.11" r="0.55" fill="rgb(210,210,210)"/>
<circle cx="123.30" cy="203.90" r="1.3" fill="rgb(200,200,200)"/>
<circle cx="126.20" cy="198.80" r="1.1" fill="rgb(200,200,200)"/>
<circle cx="128.50" cy="203.90" r="1.3" fill="rgb(200,200,200)"/>
<circle cx="140.40" cy="188.90" r="5.7" fill="rgb(210,210,210)"/>
<circle cx="156.00" cy="188.90" r="5.4" fill="rgb(205,205,205)"/>
<circle cx="171.80" cy="188.90" r="5.3" fill="rgb(200,200,200)"/>
<circle cx="186.00" cy="188.90" r="5.0" fill="rgb(130,130,130)"/>
<circle cx="184.87" cy="186.97" r="0.84" fill="rgb(200,200,200)"/>
<circle cx="183.29" cy="191.45" r="0.58" fill="rgb(207,207,207)"/>
<circle cx="185.29" cy="186.96" r="0.55" fill="rgb(195,195,195)"/>
<circle cx="182.53" cy="190.53" r="0.54" fill="rgb(216,216,216)"/>
<circle cx="183.75" cy="191.93" r="0.57" fill="rgb(210,210,210)"/>
<circle cx="189.13" cy="187.65" r="0.60" fill="rgb(201,201,201)"/>
<circle cx="190.09" cy="189.36" r="0.81" fill="rgb(219,219,219)"/>
<circle cx="188.70" cy="190.69" r="0.80" fill="rgb(209,209,209)"/>
<circle cx="182.51" cy="186.87" r="0.57" fill="rgb(205,205,205)"/>
<circle cx="185.42" cy="193.26" r="0.80" fill="rgb(197,197,197)"/>
<circle cx="183.76" cy="187.69" r="0.70" fill="rgb(193,193,193)"/>
<circle cx="188.67" cy="188.34" r="0.83" fill="rgb(211,211,211)"/>
<circle cx="185.40" cy="190.73" r="0.62" fill="rgb(205,205,205)"/>
<circle cx="186.07" cy="192.91" r="0.56" fill="rgb(215,215,215)"/>
<circle cx="188.06" cy="185.26" r="0.75" fill="rgb(204,204,204)"/>
<circle cx="188.85" cy="190.85" r="0.78" fill="rgb(209,209,209)"/>
<circle cx="185.31" cy="189.45" r="0.51" fill="rgb(208,208,208)"/>
<circle cx="189.06" cy="191.05" r="0.55" fill="rgb(208,208,208)"/>
<circle cx="186.67" cy="187.80" r="0.75" fill="rgb(213,213,213)"/>
<circle cx="186.99" cy="190.54" r="0.83" fill="rgb(200,200,200)"/>
<circle cx="189.73" cy="189.02" r="0.79" fill="rgb(199,199,199)"/>
<circle cx="186.85" cy="190.05" r="0.81" fill="rgb(193,193,193)"/>
<circle cx="187.38" cy="190.88" r="0.69" fill="rgb(200,200,200)"/>
<circle cx="184.16" cy="189.28" r="0.69" fill="rgb(206,206,206)"/>
<circle cx="185.82" cy="193.43" r="0.60" fill="rgb(207,207,207)"/>
<circle cx="186.48" cy="190.49" r="0.58" fill="rgb(217,217,217)"/>
<circle cx="183.78" cy="188.41" r="0.53" fill="rgb(193,193,193)"/>
<circle cx="189.05" cy="187.77" r="0.78" fill="rgb(208,208,208)"/>
<circle cx="186.97" cy="192.79" r="0.53" fill="rgb(195,195,195)"/>
<circle cx="187.36" cy="190.87" r="0.51" fill="rgb(202,202,202)"/>
<circle cx="184.91" cy="187.82" r="0.70" fill="rgb(193,193,193)"/>
<circle cx="189.05" cy="190.69" r="0.58" fill="rgb(209,209,209)"/>
<circle cx="186.52" cy="185.61" r="0.79" fill="rgb(216,216,216)"/>
<circle cx="186.10" cy="192.50" r="0.84" fill="rgb(191,191,191)"/>
<circle cx="186.89" cy="192.89" r="0.56" fill="rgb(199,199,199)"/>
<circle cx="183.71" cy="192.41" r="0.66" fill="rgb(219,219,219)"/>
<circle cx="187.07" cy="191.29" r="0.83" fill="rgb(215,215,215)"/>
<circle cx="198.50" cy="185.00" r="0.7" fill="rgb(180,180,180)"/>
<circle cx="203.60" cy="185.00" r="0.7" fill="rgb(180,180,180)"/>
<circle cx="201.30" cy="190.80" r="0.9" fill="rgb(190,190,190)"/>
<circle cx="206.50" cy="188.50" r="0.9" fill="rgb(190,190,190)"/>
<circle cx="140.30" cy="203.30" r="5.0" fill="rgb(190,190,190)"/>
<circle cx="155.60" cy="203.30" r="4.6" fill="rgb(150,150,150)"/>
<circle cx="170.60" cy="203.30" r="4.3" fill="rgb(40,40,40)"/>
<circle cx="169.61" cy="203.95" r="0.59" fill="rgb(123,123,123)"/>
<circle cx="168.97" cy="203.18" r="0.78" fill="rgb(124,124,124)"/>
<circle cx="171.73" cy="204.67" r="0.58" fill="rgb(110,110,110)"/>
<circle cx="170.33" cy="202.30" r="0.50" fill="rgb(128,128,128)"/>
<circle cx="167.80" cy="203.66" r="0.77" fill="rgb(129,129,129)"/>
<circle cx="173.42" cy="204.61" r="0.52" fill="rgb(127,127,127)"/>
<circle cx="168.00" cy="200.70" r="0.78" fill="rgb(102,102,102)"/>
<circle cx="168.30" cy="200.10" r="0.70" fill="rgb(125,125,125)"/>
<circle cx="173.80" cy="202.60" r="0.76" fill="rgb(104,104,104)"/>
<circle cx="170.41" cy="206.62" r="0.61" fill="rgb(101,101,101)"/>
<circle cx="170.48" cy="199.65" r="0.78" fill="rgb(118,118,118)"/>
<circle cx="171.87" cy="205.44" r="0.72" fill="rgb(130,130,130)"/>
<circle cx="172.10" cy="201.71" r="0.84" fill="rgb(117,117,117)"/>
<circle cx="168.82" cy="200.67" r="0.52" fill="rgb(125,125,125)"/>
<circle cx="171.07" cy="201.35" r="0.79" fill="rgb(107,107,107)"/>
<circle cx="170.79" cy="206.36" r="0.70" fill="rgb(128,128,128)"/>
<circle cx="166.79" cy="203.48" r="0.74" fill="rgb(122,122,122)"/>
<circle cx="173.70" cy="204.31" r="0.64" fill="rgb(120,120,120)"/>
<circle cx="169.01" cy="199.76" r="0.79" fill="rgb(112,112,112)"/>
<circle cx="172.41" cy="202.69" r="0.74" fill="rgb(125,125,125)"/>
<circle cx="168.95" cy="205.91" r="0.79" fill="rgb(125,125,125)"/>
<circle cx="169.86" cy="205.36" r="0.71" fill="rgb(130,130,130)"/>
<circle cx="173.37" cy="205.61" r="0.65" fill="rgb(119,119,119)"/>
<circle cx="170.13" cy="204.75" r="0.69" fill="rgb(102,102,102)"/>
<circle cx="168.37" cy="206.22" r="0.72" fill="rgb(109,109,109)"/>
<circle cx="168.55" cy="206.72" r="0.57" fill="rgb(128,128,128)"/>
<circle cx="167.56" cy="204.46" r="0.78" fill="rgb(103,103,103)"/>
<circle cx="186.50" cy="205.62" r="0.44" fill="rgb(75,75,75)"/>
<circle cx="187.49" cy="202.17" r="0.43" fill="rgb(75,75,75)"/>
<circle cx="186.72" cy="204.30" r="0.44" fill="rgb(75,75,75)"/>
<circle cx="187.13" cy="200.72" r="0.59" fill="rgb(75,75,75)"/>
<circle cx="185.39" cy="204.88" r="0.57" fill="rgb(75,75,75)"/>
<circle cx="186.59" cy="201.04" r="0.56" fill="rgb(75,75,75)"/>
<circle cx="219.00" cy="188.50" r="5.1" fill="rgb(90,90,90)"/>
<circle cx="221.91" cy="187.91" r="0.50" fill="rgb(177,177,177)"/>
<circle cx="221.08" cy="192.61" r="0.66" fill="rgb(175,175,175)"/>
<circle cx="216.76" cy="185.10" r="0.74" fill="rgb(167,167,167)"/>
<circle cx="218.60" cy="184.40" r="0.73" fill="rgb(154,154,154)"/>
<circle cx="223.04" cy="186.55" r="0.73" fill="rgb(152,152,152)"/>
<circle cx="216.28" cy="188.26" r="0.59" fill="rgb(159,159,159)"/>
<circle cx="216.51" cy="191.44" r="0.72" fill="rgb(162,162,162)"/>
<circle cx="222.94" cy="186.87" r="0.52" fill="rgb(170,170,170)"/>
<circle cx="216.14" cy="188.53" r="0.84" fill="rgb(151,151,151)"/>
<circle cx="222.16" cy="185.34" r="0.54" fill="rgb(162,162,162)"/>
<circle cx="215.11" cy="189.83" r="0.81" fill="rgb(173,173,173)"/>
<circle cx="216.49" cy="186.50" r="0.83" fill="rgb(165,165,165)"/>
<circle cx="222.02" cy="192.01" r="0.81" fill="rgb(154,154,154)"/>
<circle cx="220.73" cy="192.70" r="0.68" fill="rgb(162,162,162)"/>
<circle cx="220.68" cy="191.73" r="0.84" fill="rgb(170,170,170)"/>
<circle cx="219.20" cy="185.95" r="0.69" fill="rgb(163,163,163)"/>
<circle cx="216.11" cy="187.60" r="0.53" fill="rgb(180,180,180)"/>
<circle cx="217.70" cy="185.88" r="0.84" fill="rgb(172,172,172)"/>
<circle cx="216.12" cy="191.97" r="0.61" fill="rgb(176,176,176)"/>
<circle cx="215.16" cy="186.54" r="0.78" fill="rgb(161,161,161)"/>
<circle cx="220.67" cy="187.18" r="0.78" fill="rgb(151,151,151)"/>
<circle cx="221.14" cy="191.97" r="0.56" fill="rgb(159,159,159)"/>
<circle cx="222.04" cy="186.51" r="0.84" fill="rgb(174,174,174)"/>
<circle cx="223.55" cy="187.54" r="0.57" fill="rgb(159,159,159)"/>
<circle cx="221.53" cy="186.44" r="0.72" fill="rgb(179,179,179)"/>
<circle cx="217.55" cy="189.09" r="0.59" fill="rgb(162,162,162)"/>
<circle cx="217.21" cy="192.33" r="0.67" fill="rgb(153,153,153)"/>
<circle cx="220.29" cy="192.83" r="0.66" fill="rgb(176,176,176)"/>
<circle cx="217.41" cy="189.53" r="0.81" fill="rgb(151,151,151)"/>
<circle cx="221.38" cy="191.87" r="0.66" fill="rgb(167,167,167)"/>
<circle cx="220.76" cy="186.02" r="0.53" fill="rgb(162,162,162)"/>
<circle cx="216.04" cy="191.95" r="0.69" fill="rgb(159,159,159)"/>
<circle cx="219.98" cy="187.17" r="0.66" fill="rgb(150,150,150)"/>
<circle cx="223.17" cy="189.61" r="0.70" fill="rgb(161,161,161)"/>
<circle cx="216.72" cy="186.80" r="0.84" fill="rgb(178,178,178)"/>
<circle cx="222.18" cy="189.99" r="0.76" fill="rgb(171,171,171)"/>
<circle cx="221.05" cy="184.68" r="0.75" fill="rgb(179,179,179)"/>
<circle cx="217.67" cy="192.07" r="0.84" fill="rgb(170,170,170)"/>
<circle cx="218.92" cy="186.87" r="0.64" fill="rgb(176,176,176)"/>
<circle cx="235.50" cy="188.50" r="4.5" fill="rgb(50,50,50)"/>
<circle cx="238.86" cy="187.18" r="0.62" fill="rgb(122,122,122)"/>
<circle cx="233.07" cy="188.50" r="0.80" fill="rgb(132,132,132)"/>
<circle cx="237.61" cy="186.30" r="0.68" fill="rgb(131,131,131)"/>
<circle cx="237.52" cy="187.51" r="0.57" fill="rgb(131,131,131)"/>
<circle cx="237.96" cy="189.58" r="0.68" fill="rgb(137,137,137)"/>
<circle cx="233.68" cy="187.59" r="0.65" fill="rgb(116,116,116)"/>
<circle cx="233.54" cy="187.52" r="0.80" fill="rgb(135,135,135)"/>
<circle cx="236.42" cy="187.28" r="0.58" fill="rgb(137,137,137)"/>
<circle cx="235.58" cy="185.54" r="0.81" fill="rgb(138,138,138)"/>
<circle cx="239.53" cy="189.36" r="0.83" fill="rgb(122,122,122)"/>
<circle cx="236.60" cy="187.45" r="0.75" fill="rgb(132,132,132)"/>
<circle cx="232.54" cy="191.13" r="0.75" fill="rgb(134,134,134)"/>
<circle cx="232.47" cy="186.20" r="0.60" fill="rgb(116,116,116)"/>
<circle cx="237.42" cy="187.18" r="0.63" fill="rgb(128,128,128)"/>
<circle cx="239.20" cy="187.91" r="0.63" fill="rgb(132,132,132)"/>
<circle cx="234.05" cy="188.34" r="0.83" fill="rgb(116,116,116)"/>
<circle cx="238.82" cy="188.57" r="0.55" fill="rgb(118,118,118)"/>
<circle cx="231.36" cy="188.41" r="0.71" fill="rgb(129,129,129)"/>
<circle cx="235.79" cy="187.72" r="0.79" fill="rgb(113,113,113)"/>
<circle cx="233.24" cy="188.73" r="0.83" fill="rgb(140,140,140)"/>
<circle cx="233.96" cy="191.26" r="0.58" fill="rgb(135,135,135)"/>
<circle cx="236.45" cy="186.49" r="0.84" fill="rgb(128,128,128)"/>
<circle cx="234.79" cy="188.33" r="0.77" fill="rgb(110,110,110)"/>
<circle cx="236.31" cy="186.49" r="0.63" fill="rgb(140,140,140)"/>
<circle cx="233.06" cy="185.90" r="0.70" fill="rgb(122,122,122)"/>
<circle cx="232.34" cy="191.10" r="0.64" fill="rgb(131,131,131)"/>
<circle cx="238.31" cy="185.41" r="0.78" fill="rgb(140,140,140)"/>
<circle cx="232.17" cy="187.83" r="0.59" fill="rgb(130,130,130)"/>
<circle cx="233.98" cy="188.71" r="0.66" fill="rgb(131,131,131)"/>
<circle cx="237.90" cy="186.25" r="0.57" fill="rgb(129,129,129)"/>
<circle cx="252.10" cy="190.27" r="0.42" fill="rgb(75,75,75)"/>
<circle cx="252.28" cy="190.92" r="0.48" fill="rgb(75,75,75)"/>
<circle cx="250.16" cy="189.00" r="0.53" fill="rgb(75,75,75)"/>
<circle cx="251.91" cy="189.96" r="0.49" fill="rgb(75,75,75)"/>
<circle cx="250.51" cy="185.68" r="0.54" fill="rgb(75,75,75)"/>
<circle cx="254.13" cy="187.58" r="0.53" fill="rgb(75,75,75)"/>
<circle cx="219.50" cy="203.30" r="5.7" fill="rgb(185,185,185)"/>
<circle cx="233.90" cy="203.30" r="5.0" fill="rgb(165,165,165)"/>
<circle cx="250.10" cy="203.30" r="5.0" fill="rgb(65,65,65)"/>
<circle cx="249.88" cy="202.16" r="0.57" fill="rgb(125,125,125)"/>
<circle cx="252.00" cy="200.10" r="0.76" fill="rgb(142,142,142)"/>
<circle cx="249.86" cy="206.06" r="0.56" fill="rgb(145,145,145)"/>
<circle cx="248.99" cy="205.84" r="0.54" fill="rgb(148,148,148)"/>
<circle cx="251.36" cy="205.77" r="0.81" fill="rgb(150,150,150)"/>
<circle cx="249.16" cy="199.32" r="0.62" fill="rgb(152,152,152)"/>
<circle cx="252.43" cy="206.67" r="0.66" fill="rgb(127,127,127)"/>
<circle cx="253.62" cy="201.12" r="0.67" fill="rgb(151,151,151)"/>
<circle cx="254.34" cy="202.66" r="0.68" fill="rgb(133,133,133)"/>
<circle cx="247.98" cy="203.19" r="0.59" fill="rgb(125,125,125)"/>
<circle cx="251.99" cy="202.52" r="0.60" fill="rgb(151,151,151)"/>
<circle cx="253.15" cy="202.92" r="0.76" fill="rgb(137,137,137)"/>
<circle cx="252.44" cy="207.03" r="0.65" fill="rgb(129,129,129)"/>
<circle cx="252.24" cy="203.47" r="0.70" fill="rgb(137,137,137)"/>
<circle cx="254.23" cy="204.02" r="0.84" fill="rgb(127,127,127)"/>
<circle cx="249.16" cy="203.52" r="0.81" fill="rgb(142,142,142)"/>
<circle cx="253.79" cy="201.08" r="0.62" fill="rgb(142,142,142)"/>
<circle cx="252.53" cy="201.16" r="0.72" fill="rgb(131,131,131)"/>
<circle cx="252.20" cy="203.40" r="0.62" fill="rgb(153,153,153)"/>
<circle cx="252.94" cy="205.47" r="0.54" fill="rgb(131,131,131)"/>
<circle cx="246.83" cy="204.59" r="0.82" fill="rgb(146,146,146)"/>
<circle cx="249.28" cy="200.33" r="0.52" fill="rgb(148,148,148)"/>
<circle cx="249.27" cy="199.06" r="0.56" fill="rgb(145,145,145)"/>
<circle cx="248.27" cy="199.82" r="0.58" fill="rgb(145,145,145)"/>
<circle cx="245.82" cy="204.13" r="0.71" fill="rgb(128,128,128)"/>
<circle cx="253.13" cy="201.35" r="0.52" fill="rgb(132,132,132)"/>
<circle cx="251.45" cy="199.13" r="0.50" fill="rgb(143,143,143)"/>
<circle cx="251.10" cy="199.20" r="0.72" fill="rgb(148,148,148)"/>
<circle cx="248.73" cy="201.47" r="0.82" fill="rgb(131,131,131)"/>
<circle cx="250.39" cy="202.44" r="0.52" fill="rgb(132,132,132)"/>
<circle cx="254.35" cy="201.65" r="0.77" fill="rgb(126,126,126)"/>
<circle cx="253.47" cy="201.72" r="0.82" fill="rgb(133,133,133)"/>
<circle cx="253.17" cy="204.12" r="0.67" fill="rgb(155,155,155)"/>
<circle cx="253.75" cy="206.08" r="0.75" fill="rgb(130,130,130)"/>
<circle cx="252.20" cy="205.95" r="0.72" fill="rgb(135,135,135)"/>
<circle cx="253.35" cy="205.84" r="0.81" fill="rgb(154,154,154)"/>
<circle cx="251.00" cy="202.44" r="0.51" fill="rgb(145,145,145)"/>
<circle cx="266.38" cy="201.06" r="0.50" fill="rgb(110,110,110)"/>
<circle cx="262.71" cy="201.55" r="0.37" fill="rgb(110,110,110)"/>
<circle cx="267.74" cy="204.16" r="0.42" fill="rgb(110,110,110)"/>
<circle cx="265.06" cy="203.48" r="0.54" fill="rgb(110,110,110)"/>
<circle cx="268.45" cy="203.78" r="0.55" fill="rgb(110,110,110)"/>
<circle cx="264.12" cy="203.62" r="0.51" fill="rgb(110,110,110)"/>
<circle cx="265.91" cy="205.51" r="0.38" fill="rgb(110,110,110)"/>
<circle cx="284.03" cy="203.03" r="0.44" fill="rgb(80,80,80)"/>
<circle cx="283.97" cy="204.49" r="0.56" fill="rgb(80,80,80)"/>
<circle cx="282.66" cy="202.65" r="0.44" fill="rgb(80,80,80)"/>
<circle cx="281.49" cy="205.36" r="0.39" fill="rgb(80,80,80)"/>
<circle cx="280.26" cy="201.77" r="0.54" fill="rgb(80,80,80)"/>
<circle cx="295.80" cy="187.70" r="5.1" fill="rgb(230,230,230)"/>
<circle cx="311.90" cy="187.70" r="5.0" fill="rgb(220,220,220)"/>
<circle cx="327.80" cy="187.70" r="5.0" fill="rgb(215,215,215)"/>
<circle cx="343.90" cy="187.70" r="4.8" fill="rgb(125,125,125)"/>
<circle cx="345.12" cy="187.75" r="0.54" fill="rgb(207,207,207)"/>
<circle cx="344.12" cy="185.65" r="0.63" fill="rgb(198,198,198)"/>
<circle cx="346.90" cy="186.14" r="0.57" fill="rgb(209,209,209)"/>
<circle cx="343.47" cy="183.74" r="0.82" fill="rgb(211,211,211)"/>
<circle cx="347.45" cy="189.08" r="0.73" fill="rgb(189,189,189)"/>
<circle cx="345.62" cy="185.33" r="0.81" fill="rgb(190,190,190)"/>
<circle cx="342.12" cy="186.06" r="0.59" fill="rgb(189,189,189)"/>
<circle cx="343.86" cy="190.15" r="0.62" fill="rgb(195,195,195)"/>
<circle cx="342.57" cy="188.91" r="0.56" fill="rgb(215,215,215)"/>
<circle cx="341.46" cy="184.15" r="0.77" fill="rgb(211,211,211)"/>
<circle cx="343.98" cy="183.83" r="0.61" fill="rgb(210,210,210)"/>
<circle cx="343.90" cy="190.57" r="0.51" fill="rgb(192,192,192)"/>
<circle cx="341.33" cy="186.97" r="0.79" fill="rgb(185,185,185)"/>
<circle cx="344.40" cy="183.80" r="0.81" fill="rgb(210,210,210)"/>
<circle cx="345.47" cy="188.56" r="0.51" fill="rgb(212,212,212)"/>
<circle cx="342.52" cy="190.96" r="0.63" fill="rgb(202,202,202)"/>
<circle cx="346.08" cy="189.79" r="0.57" fill="rgb(186,186,186)"/>
<circle cx="341.97" cy="185.05" r="0.83" fill="rgb(198,198,198)"/>
<circle cx="346.82" cy="186.36" r="0.77" fill="rgb(205,205,205)"/>
<circle cx="345.64" cy="188.80" r="0.60" fill="rgb(214,214,214)"/>
<circle cx="346.74" cy="185.22" r="0.65" fill="rgb(188,188,188)"/>
<circle cx="345.77" cy="187.58" r="0.65" fill="rgb(206,206,206)"/>
<circle cx="346.08" cy="191.46" r="0.60" fill="rgb(197,197,197)"/>
<circle cx="343.92" cy="189.96" r="0.51" fill="rgb(207,207,207)"/>
<circle cx="346.28" cy="185.04" r="0.72" fill="rgb(205,205,205)"/>
<circle cx="341.77" cy="185.01" r="0.73" fill="rgb(204,204,204)"/>
<circle cx="346.44" cy="188.86" r="0.53" fill="rgb(208,208,208)"/>
<circle cx="344.39" cy="187.92" r="0.63" fill="rgb(189,189,189)"/>
<circle cx="340.35" cy="186.36" r="0.73" fill="rgb(201,201,201)"/>
<circle cx="343.01" cy="185.54" r="0.77" fill="rgb(190,190,190)"/>
<circle cx="345.72" cy="186.37" r="0.64" fill="rgb(207,207,207)"/>
<circle cx="342.80" cy="184.93" r="0.75" fill="rgb(188,188,188)"/>
<circle cx="345.85" cy="185.38" r="0.61" fill="rgb(191,191,191)"/>
<circle cx="347.89" cy="188.48" r="0.58" fill="rgb(212,212,212)"/>
<circle cx="360.93" cy="189.70" r="0.43" fill="rgb(140,140,140)"/>
<circle cx="358.12" cy="185.43" r="0.37" fill="rgb(140,140,140)"/>
<circle cx="363.02" cy="189.35" r="0.52" fill="rgb(140,140,140)"/>
<circle cx="359.72" cy="189.36" r="0.36" fill="rgb(140,140,140)"/>
<circle cx="357.22" cy="188.07" r="0.36" fill="rgb(140,140,140)"/>
<circle cx="360.37" cy="188.74" r="0.50" fill="rgb(140,140,140)"/>
<circle cx="362.16" cy="188.42" r="0.42" fill="rgb(140,140,140)"/>
<circle cx="296.30" cy="204.10" r="5.0" fill="rgb(140,140,140)"/>
<circle cx="311.50" cy="204.10" r="4.6" fill="rgb(100,100,100)"/>
<circle cx="327.30" cy="204.10" r="4.4" fill="rgb(40,40,40)"/>
<circle cx="330.89" cy="202.43" r="0.62" fill="rgb(97,97,97)"/>
<circle cx="327.04" cy="202.60" r="0.78" fill="rgb(88,88,88)"/>
<circle cx="326.15" cy="205.31" r="0.73" fill="rgb(107,107,107)"/>
<circle cx="327.34" cy="207.75" r="0.60" fill="rgb(92,92,92)"/>
<circle cx="327.95" cy="203.81" r="0.73" fill="rgb(108,108,108)"/>
<circle cx="327.79" cy="206.59" r="0.63" fill="rgb(100,100,100)"/>
<circle cx="328.94" cy="202.79" r="0.50" fill="rgb(83,83,83)"/>
<circle cx="325.37" cy="200.90" r="0.58" fill="rgb(80,80,80)"/>
<circle cx="324.49" cy="204.59" r="0.54" fill="rgb(97,97,97)"/>
<circle cx="327.00" cy="202.88" r="0.54" fill="rgb(95,95,95)"/>
<circle cx="330.76" cy="202.29" r="0.65" fill="rgb(81,81,81)"/>
<circle cx="328.09" cy="204.82" r="0.63" fill="rgb(95,95,95)"/>
<circle cx="327.46" cy="206.48" r="0.52" fill="rgb(96,96,96)"/>
<circle cx="327.91" cy="207.58" r="0.70" fill="rgb(107,107,107)"/>
<circle cx="331.24" cy="204.10" r="0.63" fill="rgb(81,81,81)"/>
<circle cx="330.08" cy="203.07" r="0.58" fill="rgb(85,85,85)"/>
<circle cx="325.00" cy="203.95" r="0.54" fill="rgb(95,95,95)"/>
<circle cx="326.92" cy="208.02" r="0.66" fill="rgb(103,103,103)"/>
<circle cx="329.79" cy="206.81" r="0.72" fill="rgb(83,83,83)"/>
<circle cx="328.22" cy="207.30" r="0.63" fill="rgb(83,83,83)"/>
<circle cx="326.49" cy="201.40" r="0.59" fill="rgb(96,96,96)"/>
<circle cx="330.60" cy="204.33" r="0.68" fill="rgb(80,80,80)"/>
<circle cx="325.20" cy="201.44" r="0.51" fill="rgb(100,100,100)"/>
<circle cx="327.59" cy="206.98" r="0.71" fill="rgb(100,100,100)"/>
<circle cx="325.62" cy="206.02" r="0.81" fill="rgb(90,90,90)"/>
<circle cx="327.07" cy="200.32" r="0.63" fill="rgb(108,108,108)"/>
<circle cx="325.30" cy="201.32" r="0.51" fill="rgb(94,94,94)"/>
<circle cx="328.25" cy="203.42" r="0.58" fill="rgb(81,81,81)"/>
<circle cx="326.41" cy="208.04" r="0.79" fill="rgb(89,89,89)"/>
<circle cx="344.98" cy="201.81" r="0.58" fill="rgb(65,65,65)"/>
<circle cx="342.98" cy="205.53" r="0.35" fill="rgb(65,65,65)"/>
<circle cx="346.37" cy="203.64" r="0.47" fill="rgb(65,65,65)"/>
<circle cx="342.09" cy="203.89" r="0.47" fill="rgb(65,65,65)"/>
<circle cx="347.36" cy="203.98" r="0.40" fill="rgb(65,65,65)"/>
<circle cx="345.68" cy="202.93" r="0.60" fill="rgb(65,65,65)"/>
<rect x="55.3" y="231.8" width="311.3" height="28.19999999999999" fill="#2a2a2a"/>
<rect x="55.3" y="231.8" width="77.39999999999999" height="28.19999999999999" fill="#2d2d2d"/>
<rect x="288.8" y="231.8" width="77.80000000000001" height="28.19999999999999" fill="#303030"/>
<rect x="132.1" y="231.8" width="1.2" height="28.19999999999999" fill="#b0b0b0"/>
<rect x="210.1" y="231.8" width="1.2" height="28.19999999999999" fill="#b0b0b0"/>
<rect x="288.2" y="231.8" width="1.2" height="28.19999999999999" fill="#b0b0b0"/>
<circle cx="61.30" cy="238.50" r="5.1" fill="rgb(225,225,225)"/>
<circle cx="77.10" cy="238.50" r="5.2" fill="rgb(220,220,220)"/>
<circle cx="92.70" cy="238.50" r="5.3" fill="rgb(215,215,215)"/>
<circle cx="110.10" cy="238.50" r="5.0" fill="rgb(140,140,140)"/>
<circle cx="107.97" cy="239.10" r="0.84" fill="rgb(210,210,210)"/>
<circle cx="112.02" cy="238.89" r="0.64" fill="rgb(222,222,222)"/>
<circle cx="112.91" cy="238.91" r="0.56" fill="rgb(226,226,226)"/>
<circle cx="111.05" cy="236.94" r="0.78" fill="rgb(219,219,219)"/>
<circle cx="106.76" cy="239.49" r="0.75" fill="rgb(204,204,204)"/>
<circle cx="109.86" cy="241.98" r="0.60" fill="rgb(213,213,213)"/>
<circle cx="111.12" cy="239.89" r="0.68" fill="rgb(218,218,218)"/>
<circle cx="108.35" cy="242.14" r="0.56" fill="rgb(213,213,213)"/>
<circle cx="111.86" cy="241.59" r="0.66" fill="rgb(213,213,213)"/>
<circle cx="110.03" cy="242.01" r="0.58" fill="rgb(204,204,204)"/>
<circle cx="112.42" cy="237.85" r="0.83" fill="rgb(213,213,213)"/>
<circle cx="112.64" cy="240.22" r="0.79" fill="rgb(230,230,230)"/>
<circle cx="112.59" cy="238.77" r="0.60" fill="rgb(230,230,230)"/>
<circle cx="110.88" cy="240.04" r="0.53" fill="rgb(212,212,212)"/>
<circle cx="112.53" cy="235.10" r="0.73" fill="rgb(216,216,216)"/>
<circle cx="107.41" cy="236.95" r="0.67" fill="rgb(216,216,216)"/>
<circle cx="106.53" cy="236.35" r="0.81" fill="rgb(230,230,230)"/>
<circle cx="107.23" cy="237.40" r="0.71" fill="rgb(208,208,208)"/>
<circle cx="108.31" cy="237.65" r="0.74" fill="rgb(208,208,208)"/>
<circle cx="108.25" cy="236.16" r="0.83" fill="rgb(208,208,208)"/>
<circle cx="109.54" cy="237.37" r="0.76" fill="rgb(219,219,219)"/>
<circle cx="109.22" cy="236.55" r="0.61" fill="rgb(229,229,229)"/>
<circle cx="113.30" cy="238.69" r="0.74" fill="rgb(222,222,222)"/>
<circle cx="114.32" cy="237.30" r="0.66" fill="rgb(210,210,210)"/>
<circle cx="110.60" cy="236.31" r="0.65" fill="rgb(230,230,230)"/>
<circle cx="113.47" cy="237.88" r="0.64" fill="rgb(204,204,204)"/>
<circle cx="111.91" cy="237.18" r="0.76" fill="rgb(211,211,211)"/>
<circle cx="107.72" cy="240.74" r="0.63" fill="rgb(207,207,207)"/>
<circle cx="107.32" cy="235.14" r="0.54" fill="rgb(216,216,216)"/>
<circle cx="112.05" cy="240.74" r="0.65" fill="rgb(202,202,202)"/>
<circle cx="107.02" cy="239.10" r="0.62" fill="rgb(217,217,217)"/>
<circle cx="107.69" cy="241.57" r="0.65" fill="rgb(205,205,205)"/>
<circle cx="111.56" cy="234.91" r="0.74" fill="rgb(224,224,224)"/>
<circle cx="111.60" cy="240.90" r="0.84" fill="rgb(224,224,224)"/>
<circle cx="109.20" cy="241.83" r="0.57" fill="rgb(207,207,207)"/>
<circle cx="108.82" cy="234.11" r="0.57" fill="rgb(224,224,224)"/>
<circle cx="112.31" cy="235.47" r="0.56" fill="rgb(202,202,202)"/>
<circle cx="124.33" cy="236.31" r="0.57" fill="rgb(110,110,110)"/>
<circle cx="125.79" cy="237.56" r="0.35" fill="rgb(110,110,110)"/>
<circle cx="123.97" cy="237.76" r="0.42" fill="rgb(110,110,110)"/>
<circle cx="127.55" cy="238.62" r="0.39" fill="rgb(110,110,110)"/>
<circle cx="127.22" cy="238.26" r="0.41" fill="rgb(110,110,110)"/>
<circle cx="126.98" cy="241.86" r="0.60" fill="rgb(110,110,110)"/>
<circle cx="128.64" cy="238.66" r="0.58" fill="rgb(110,110,110)"/>
<circle cx="128.81" cy="238.21" r="0.43" fill="rgb(110,110,110)"/>
<circle cx="60.50" cy="254.50" r="4.8" fill="rgb(165,165,165)"/>
<circle cx="77.10" cy="254.50" r="5.0" fill="rgb(130,130,130)"/>
<circle cx="92.90" cy="254.50" r="5.1" fill="rgb(65,65,65)"/>
<circle cx="90.24" cy="254.13" r="0.65" fill="rgb(140,140,140)"/>
<circle cx="94.83" cy="252.56" r="0.82" fill="rgb(133,133,133)"/>
<circle cx="93.65" cy="255.72" r="0.72" fill="rgb(147,147,147)"/>
<circle cx="94.60" cy="254.21" r="0.80" fill="rgb(135,135,135)"/>
<circle cx="91.09" cy="257.29" r="0.57" fill="rgb(154,154,154)"/>
<circle cx="97.15" cy="254.22" r="0.76" fill="rgb(151,151,151)"/>
<circle cx="91.86" cy="251.75" r="0.75" fill="rgb(132,132,132)"/>
<circle cx="92.42" cy="255.68" r="0.67" fill="rgb(127,127,127)"/>
<circle cx="91.12" cy="253.43" r="0.75" fill="rgb(150,150,150)"/>
<circle cx="88.70" cy="255.34" r="0.72" fill="rgb(151,151,151)"/>
<circle cx="91.06" cy="251.45" r="0.55" fill="rgb(131,131,131)"/>
<circle cx="94.91" cy="253.61" r="0.79" fill="rgb(139,139,139)"/>
<circle cx="93.04" cy="256.91" r="0.65" fill="rgb(142,142,142)"/>
<circle cx="92.34" cy="255.49" r="0.58" fill="rgb(125,125,125)"/>
<circle cx="93.36" cy="257.02" r="0.72" fill="rgb(147,147,147)"/>
<circle cx="90.91" cy="255.09" r="0.56" fill="rgb(134,134,134)"/>
<circle cx="97.39" cy="254.37" r="0.55" fill="rgb(126,126,126)"/>
<circle cx="93.52" cy="258.62" r="0.79" fill="rgb(147,147,147)"/>
<circle cx="91.23" cy="250.89" r="0.78" fill="rgb(137,137,137)"/>
<circle cx="91.29" cy="258.19" r="0.52" fill="rgb(144,144,144)"/>
<circle cx="91.87" cy="256.85" r="0.61" fill="rgb(132,132,132)"/>
<circle cx="95.56" cy="258.22" r="0.81" fill="rgb(139,139,139)"/>
<circle cx="95.54" cy="255.01" r="0.77" fill="rgb(147,147,147)"/>
<circle cx="90.07" cy="254.12" r="0.75" fill="rgb(141,141,141)"/>
<circle cx="92.42" cy="255.70" r="0.73" fill="rgb(144,144,144)"/>
<circle cx="90.40" cy="256.65" r="0.59" fill="rgb(146,146,146)"/>
<circle cx="89.73" cy="254.23" r="0.80" fill="rgb(155,155,155)"/>
<circle cx="91.92" cy="250.45" r="0.63" fill="rgb(139,139,139)"/>
<circle cx="93.65" cy="250.53" r="0.61" fill="rgb(126,126,126)"/>
<circle cx="95.43" cy="256.46" r="0.72" fill="rgb(133,133,133)"/>
<circle cx="95.85" cy="257.76" r="0.83" fill="rgb(142,142,142)"/>
<circle cx="95.13" cy="256.85" r="0.72" fill="rgb(134,134,134)"/>
<circle cx="90.50" cy="250.84" r="0.73" fill="rgb(135,135,135)"/>
<circle cx="91.62" cy="255.03" r="0.64" fill="rgb(128,128,128)"/>
<circle cx="92.03" cy="250.52" r="0.51" fill="rgb(154,154,154)"/>
<circle cx="93.10" cy="252.77" r="0.54" fill="rgb(127,127,127)"/>
<circle cx="91.17" cy="258.43" r="0.71" fill="rgb(138,138,138)"/>
<circle cx="93.86" cy="256.23" r="0.77" fill="rgb(138,138,138)"/>
<circle cx="92.15" cy="251.74" r="0.81" fill="rgb(139,139,139)"/>
<circle cx="111.41" cy="254.23" r="0.41" fill="rgb(95,95,95)"/>
<circle cx="109.65" cy="250.26" r="0.58" fill="rgb(95,95,95)"/>
<circle cx="105.56" cy="255.25" r="0.50" fill="rgb(95,95,95)"/>
<circle cx="109.16" cy="257.48" r="0.53" fill="rgb(95,95,95)"/>
<circle cx="109.74" cy="252.89" r="0.40" fill="rgb(95,95,95)"/>
<circle cx="111.32" cy="254.12" r="0.55" fill="rgb(95,95,95)"/>
<circle cx="108.71" cy="256.40" r="0.41" fill="rgb(95,95,95)"/>
<circle cx="105.50" cy="255.36" r="0.39" fill="rgb(95,95,95)"/>
<circle cx="111.46" cy="252.48" r="0.39" fill="rgb(95,95,95)"/>
<circle cx="140.40" cy="239.10" r="5.7" fill="rgb(210,210,210)"/>
<circle cx="155.90" cy="239.10" r="5.0" fill="rgb(175,175,175)"/>
<circle cx="170.70" cy="239.10" r="4.4" fill="rgb(60,60,60)"/>
<circle cx="170.62" cy="236.71" r="0.57" fill="rgb(133,133,133)"/>
<circle cx="170.74" cy="239.12" r="0.58" fill="rgb(131,131,131)"/>
<circle cx="174.27" cy="239.33" r="0.71" fill="rgb(148,148,148)"/>
<circle cx="174.67" cy="240.05" r="0.58" fill="rgb(130,130,130)"/>
<circle cx="171.59" cy="237.18" r="0.63" fill="rgb(131,131,131)"/>
<circle cx="168.80" cy="237.37" r="0.60" fill="rgb(150,150,150)"/>
<circle cx="171.26" cy="242.96" r="0.64" fill="rgb(140,140,140)"/>
<circle cx="171.08" cy="236.04" r="0.82" fill="rgb(146,146,146)"/>
<circle cx="173.91" cy="237.32" r="0.85" fill="rgb(143,143,143)"/>
<circle cx="171.45" cy="240.50" r="0.61" fill="rgb(136,136,136)"/>
<circle cx="169.29" cy="237.00" r="0.79" fill="rgb(124,124,124)"/>
<circle cx="170.92" cy="242.55" r="0.73" fill="rgb(121,121,121)"/>
<circle cx="168.58" cy="242.21" r="0.80" fill="rgb(148,148,148)"/>
<circle cx="171.28" cy="235.36" r="0.83" fill="rgb(147,147,147)"/>
<circle cx="169.23" cy="236.14" r="0.52" fill="rgb(147,147,147)"/>
<circle cx="172.93" cy="235.72" r="0.83" fill="rgb(135,135,135)"/>
<circle cx="171.44" cy="235.56" r="0.80" fill="rgb(126,126,126)"/>
<circle cx="170.38" cy="236.66" r="0.52" fill="rgb(123,123,123)"/>
<circle cx="170.39" cy="239.68" r="0.78" fill="rgb(127,127,127)"/>
<circle cx="168.50" cy="241.44" r="0.67" fill="rgb(121,121,121)"/>
<circle cx="171.59" cy="241.74" r="0.64" fill="rgb(145,145,145)"/>
<circle cx="168.21" cy="239.47" r="0.72" fill="rgb(148,148,148)"/>
<circle cx="172.91" cy="237.38" r="0.81" fill="rgb(143,143,143)"/>
<circle cx="172.56" cy="236.12" r="0.62" fill="rgb(149,149,149)"/>
<circle cx="173.17" cy="241.04" r="0.79" fill="rgb(136,136,136)"/>
<circle cx="173.18" cy="240.24" r="0.50" fill="rgb(150,150,150)"/>
<circle cx="169.76" cy="237.49" r="0.63" fill="rgb(131,131,131)"/>
<circle cx="173.68" cy="237.64" r="0.80" fill="rgb(140,140,140)"/>
<circle cx="171.36" cy="238.71" r="0.71" fill="rgb(133,133,133)"/>
<circle cx="188.53" cy="239.31" r="0.60" fill="rgb(75,75,75)"/>
<circle cx="187.97" cy="241.07" r="0.48" fill="rgb(75,75,75)"/>
<circle cx="187.06" cy="237.83" r="0.55" fill="rgb(75,75,75)"/>
<circle cx="186.34" cy="238.52" r="0.44" fill="rgb(75,75,75)"/>
<circle cx="190.31" cy="237.88" r="0.39" fill="rgb(75,75,75)"/>
<circle cx="186.38" cy="238.26" r="0.45" fill="rgb(75,75,75)"/>
<circle cx="185.24" cy="242.62" r="0.48" fill="rgb(75,75,75)"/>
<circle cx="189.86" cy="238.62" r="0.54" fill="rgb(75,75,75)"/>
<circle cx="140.40" cy="253.90" r="4.9" fill="rgb(195,195,195)"/>
<circle cx="155.60" cy="253.90" r="4.6" fill="rgb(80,80,80)"/>
<circle cx="171.00" cy="253.90" r="4.0" fill="rgb(55,55,55)"/>
<circle cx="219.00" cy="238.90" r="5.1" fill="rgb(200,200,200)"/>
<circle cx="233.80" cy="238.90" r="4.8" fill="rgb(175,175,175)"/>
<circle cx="249.20" cy="238.90" r="4.6" fill="rgb(80,80,80)"/>
<circle cx="253.18" cy="239.17" r="0.71" fill="rgb(152,152,152)"/>
<circle cx="252.40" cy="238.90" r="0.78" fill="rgb(145,145,145)"/>
<circle cx="252.63" cy="239.28" r="0.81" fill="rgb(143,143,143)"/>
<circle cx="250.94" cy="237.01" r="0.82" fill="rgb(146,146,146)"/>
<circle cx="245.14" cy="238.78" r="0.80" fill="rgb(162,162,162)"/>
<circle cx="252.59" cy="236.45" r="0.68" fill="rgb(169,169,169)"/>
<circle cx="250.32" cy="240.53" r="0.55" fill="rgb(154,154,154)"/>
<circle cx="250.12" cy="236.27" r="0.71" fill="rgb(148,148,148)"/>
<circle cx="247.56" cy="237.64" r="0.58" fill="rgb(160,160,160)"/>
<circle cx="247.93" cy="239.16" r="0.50" fill="rgb(150,150,150)"/>
<circle cx="250.63" cy="237.91" r="0.77" fill="rgb(157,157,157)"/>
<circle cx="249.09" cy="241.97" r="0.56" fill="rgb(159,159,159)"/>
<circle cx="251.02" cy="242.46" r="0.84" fill="rgb(163,163,163)"/>
<circle cx="248.52" cy="235.26" r="0.75" fill="rgb(162,162,162)"/>
<circle cx="250.03" cy="242.72" r="0.65" fill="rgb(156,156,156)"/>
<circle cx="253.13" cy="240.25" r="0.65" fill="rgb(142,142,142)"/>
<circle cx="251.95" cy="235.92" r="0.70" fill="rgb(153,153,153)"/>
<circle cx="251.02" cy="241.16" r="0.72" fill="rgb(157,157,157)"/>
<circle cx="247.27" cy="242.11" r="0.59" fill="rgb(146,146,146)"/>
<circle cx="249.76" cy="242.85" r="0.62" fill="rgb(153,153,153)"/>
<circle cx="248.64" cy="240.53" r="0.58" fill="rgb(142,142,142)"/>
<circle cx="251.25" cy="241.46" r="0.54" fill="rgb(149,149,149)"/>
<circle cx="250.40" cy="241.61" r="0.65" fill="rgb(158,158,158)"/>
<circle cx="245.06" cy="239.26" r="0.66" fill="rgb(146,146,146)"/>
<circle cx="246.20" cy="239.44" r="0.68" fill="rgb(147,147,147)"/>
<circle cx="252.41" cy="240.49" r="0.84" fill="rgb(152,152,152)"/>
<circle cx="252.16" cy="241.06" r="0.62" fill="rgb(162,162,162)"/>
<circle cx="248.22" cy="236.41" r="0.55" fill="rgb(167,167,167)"/>
<circle cx="250.80" cy="236.17" r="0.51" fill="rgb(165,165,165)"/>
<circle cx="248.86" cy="236.38" r="0.72" fill="rgb(169,169,169)"/>
<circle cx="247.38" cy="235.14" r="0.72" fill="rgb(145,145,145)"/>
<circle cx="263.40" cy="238.90" r="4.5" fill="rgb(40,40,40)"/>
<circle cx="260.19" cy="237.76" r="0.76" fill="rgb(125,125,125)"/>
<circle cx="262.11" cy="235.85" r="0.74" fill="rgb(107,107,107)"/>
<circle cx="264.22" cy="235.79" r="0.74" fill="rgb(105,105,105)"/>
<circle cx="263.92" cy="237.33" r="0.69" fill="rgb(115,115,115)"/>
<circle cx="263.99" cy="240.20" r="0.81" fill="rgb(120,120,120)"/>
<circle cx="266.65" cy="238.40" r="0.78" fill="rgb(109,109,109)"/>
<circle cx="260.88" cy="238.97" r="0.81" fill="rgb(106,106,106)"/>
<circle cx="259.85" cy="237.77" r="0.61" fill="rgb(125,125,125)"/>
<circle cx="261.01" cy="239.25" r="0.64" fill="rgb(114,114,114)"/>
<circle cx="259.85" cy="237.35" r="0.51" fill="rgb(120,120,120)"/>
<circle cx="261.48" cy="240.53" r="0.82" fill="rgb(112,112,112)"/>
<circle cx="267.34" cy="239.20" r="0.60" fill="rgb(110,110,110)"/>
<circle cx="265.26" cy="241.84" r="0.51" fill="rgb(101,101,101)"/>
<circle cx="264.30" cy="242.38" r="0.55" fill="rgb(104,104,104)"/>
<circle cx="263.54" cy="239.89" r="0.59" fill="rgb(118,118,118)"/>
<circle cx="267.32" cy="238.18" r="0.54" fill="rgb(99,99,99)"/>
<circle cx="259.59" cy="237.64" r="0.53" fill="rgb(124,124,124)"/>
<circle cx="265.68" cy="241.98" r="0.51" fill="rgb(110,110,110)"/>
<circle cx="265.04" cy="236.88" r="0.53" fill="rgb(122,122,122)"/>
<circle cx="262.95" cy="237.19" r="0.54" fill="rgb(104,104,104)"/>
<circle cx="264.36" cy="239.13" r="0.54" fill="rgb(95,95,95)"/>
<circle cx="261.76" cy="241.98" r="0.56" fill="rgb(109,109,109)"/>
<circle cx="264.33" cy="240.41" r="0.71" fill="rgb(116,116,116)"/>
<circle cx="265.14" cy="238.23" r="0.54" fill="rgb(122,122,122)"/>
<circle cx="261.00" cy="239.95" r="0.59" fill="rgb(102,102,102)"/>
<circle cx="262.75" cy="238.97" r="0.74" fill="rgb(123,123,123)"/>
<circle cx="264.20" cy="240.48" r="0.55" fill="rgb(106,106,106)"/>
<circle cx="261.02" cy="236.49" r="0.66" fill="rgb(114,114,114)"/>
<circle cx="263.08" cy="238.20" r="0.65" fill="rgb(120,120,120)"/>
<circle cx="263.77" cy="238.57" r="0.65" fill="rgb(95,95,95)"/>
<circle cx="274.43" cy="238.04" r="0.45" fill="rgb(80,80,80)"/>
<circle cx="277.77" cy="238.09" r="0.58" fill="rgb(80,80,80)"/>
<circle cx="274.72" cy="238.55" r="0.39" fill="rgb(80,80,80)"/>
<circle cx="274.06" cy="240.29" r="0.35" fill="rgb(80,80,80)"/>
<circle cx="276.31" cy="236.80" r="0.48" fill="rgb(80,80,80)"/>
<circle cx="218.70" cy="253.90" r="4.6" fill="rgb(170,170,170)"/>
<circle cx="234.00" cy="253.90" r="4.3" fill="rgb(115,115,115)"/>
<circle cx="248.60" cy="253.90" r="4.0" fill="rgb(62,62,62)"/>
<circle cx="296.40" cy="238.20" r="5.7" fill="rgb(215,215,215)"/>
<circle cx="311.10" cy="238.20" r="5.0" fill="rgb(205,205,205)"/>
<circle cx="327.00" cy="238.20" r="5.0" fill="rgb(195,195,195)"/>
<circle cx="343.20" cy="238.20" r="5.0" fill="rgb(125,125,125)"/>
<circle cx="347.35" cy="238.35" r="0.64" fill="rgb(206,206,206)"/>
<circle cx="344.27" cy="240.86" r="0.73" fill="rgb(195,195,195)"/>
<circle cx="347.60" cy="237.07" r="0.83" fill="rgb(204,204,204)"/>
<circle cx="345.53" cy="241.93" r="0.57" fill="rgb(213,213,213)"/>
<circle cx="344.12" cy="241.88" r="0.72" fill="rgb(185,185,185)"/>
<circle cx="347.05" cy="237.98" r="0.61" fill="rgb(209,209,209)"/>
<circle cx="339.33" cy="236.67" r="0.62" fill="rgb(203,203,203)"/>
<circle cx="345.23" cy="235.66" r="0.60" fill="rgb(214,214,214)"/>
<circle cx="346.45" cy="237.97" r="0.79" fill="rgb(186,186,186)"/>
<circle cx="345.60" cy="241.47" r="0.70" fill="rgb(214,214,214)"/>
<circle cx="342.29" cy="241.39" r="0.75" fill="rgb(185,185,185)"/>
<circle cx="346.70" cy="240.34" r="0.54" fill="rgb(193,193,193)"/>
<circle cx="345.78" cy="235.66" r="0.65" fill="rgb(213,213,213)"/>
<circle cx="342.85" cy="235.87" r="0.76" fill="rgb(205,205,205)"/>
<circle cx="342.61" cy="238.85" r="0.79" fill="rgb(194,194,194)"/>
<circle cx="344.03" cy="241.87" r="0.60" fill="rgb(196,196,196)"/>
<circle cx="344.11" cy="241.39" r="0.68" fill="rgb(201,201,201)"/>
<circle cx="340.05" cy="239.76" r="0.78" fill="rgb(209,209,209)"/>
<circle cx="342.56" cy="241.87" r="0.61" fill="rgb(206,206,206)"/>
<circle cx="346.24" cy="237.21" r="0.54" fill="rgb(208,208,208)"/>
<circle cx="345.36" cy="234.61" r="0.60" fill="rgb(204,204,204)"/>
<circle cx="346.61" cy="237.95" r="0.76" fill="rgb(189,189,189)"/>
<circle cx="340.64" cy="241.65" r="0.80" fill="rgb(193,193,193)"/>
<circle cx="343.54" cy="237.42" r="0.67" fill="rgb(187,187,187)"/>
<circle cx="346.80" cy="240.23" r="0.81" fill="rgb(191,191,191)"/>
<circle cx="340.09" cy="238.90" r="0.75" fill="rgb(208,208,208)"/>
<circle cx="342.11" cy="242.32" r="0.71" fill="rgb(215,215,215)"/>
<circle cx="345.94" cy="241.38" r="0.54" fill="rgb(190,190,190)"/>
<circle cx="344.45" cy="236.18" r="0.56" fill="rgb(214,214,214)"/>
<circle cx="346.10" cy="236.83" r="0.78" fill="rgb(193,193,193)"/>
<circle cx="343.13" cy="239.35" r="0.56" fill="rgb(204,204,204)"/>
<circle cx="341.71" cy="242.59" r="0.52" fill="rgb(197,197,197)"/>
<circle cx="338.99" cy="237.32" r="0.66" fill="rgb(188,188,188)"/>
<circle cx="340.44" cy="239.80" r="0.61" fill="rgb(186,186,186)"/>
<circle cx="343.13" cy="235.96" r="0.66" fill="rgb(211,211,211)"/>
<circle cx="341.18" cy="237.81" r="0.59" fill="rgb(201,201,201)"/>
<circle cx="341.80" cy="235.03" r="0.64" fill="rgb(190,190,190)"/>
<circle cx="362.66" cy="236.51" r="0.88" fill="rgb(190,190,190)"/>
<circle cx="362.20" cy="237.13" r="0.66" fill="rgb(190,190,190)"/>
<circle cx="356.35" cy="238.25" r="0.80" fill="rgb(190,190,190)"/>
<circle cx="359.20" cy="239.10" r="0.83" fill="rgb(190,190,190)"/>
<circle cx="362.42" cy="240.43" r="0.90" fill="rgb(190,190,190)"/>
<circle cx="359.39" cy="240.17" r="0.95" fill="rgb(190,190,190)"/>
<circle cx="361.14" cy="240.96" r="0.79" fill="rgb(190,190,190)"/>
<circle cx="296.70" cy="253.30" r="5.0" fill="rgb(210,210,210)"/>
<circle cx="311.60" cy="253.30" r="5.0" fill="rgb(205,205,205)"/>
<circle cx="327.60" cy="253.30" r="4.7" fill="rgb(190,190,190)"/>
<circle cx="343.20" cy="253.30" r="4.7" fill="rgb(120,120,120)"/>
<circle cx="339.07" cy="254.41" r="0.66" fill="rgb(191,191,191)"/>
<circle cx="339.27" cy="251.66" r="0.74" fill="rgb(191,191,191)"/>
<circle cx="339.02" cy="253.81" r="0.57" fill="rgb(210,210,210)"/>
<circle cx="345.52" cy="250.58" r="0.63" fill="rgb(199,199,199)"/>
<circle cx="344.07" cy="255.50" r="0.75" fill="rgb(202,202,202)"/>
<circle cx="344.29" cy="253.11" r="0.50" fill="rgb(197,197,197)"/>
<circle cx="346.03" cy="254.65" r="0.73" fill="rgb(204,204,204)"/>
<circle cx="345.05" cy="250.24" r="0.74" fill="rgb(209,209,209)"/>
<circle cx="344.75" cy="254.44" r="0.70" fill="rgb(201,201,201)"/>
<circle cx="344.17" cy="253.31" r="0.65" fill="rgb(188,188,188)"/>
<circle cx="341.93" cy="256.34" r="0.50" fill="rgb(193,193,193)"/>
<circle cx="341.03" cy="256.28" r="0.69" fill="rgb(185,185,185)"/>
<circle cx="345.16" cy="253.46" r="0.56" fill="rgb(206,206,206)"/>
<circle cx="343.52" cy="255.28" r="0.54" fill="rgb(198,198,198)"/>
<circle cx="345.49" cy="251.16" r="0.61" fill="rgb(210,210,210)"/>
<circle cx="339.95" cy="256.20" r="0.51" fill="rgb(199,199,199)"/>
<circle cx="345.30" cy="249.51" r="0.54" fill="rgb(203,203,203)"/>
<circle cx="345.64" cy="251.34" r="0.65" fill="rgb(207,207,207)"/>
<circle cx="340.95" cy="249.67" r="0.85" fill="rgb(193,193,193)"/>
<circle cx="340.67" cy="250.83" r="0.56" fill="rgb(203,203,203)"/>
<circle cx="342.14" cy="254.49" r="0.82" fill="rgb(191,191,191)"/>
<circle cx="343.15" cy="254.94" r="0.56" fill="rgb(184,184,184)"/>
<circle cx="346.20" cy="255.79" r="0.54" fill="rgb(189,189,189)"/>
<circle cx="339.89" cy="253.24" r="0.70" fill="rgb(193,193,193)"/>
<circle cx="339.51" cy="254.16" r="0.75" fill="rgb(187,187,187)"/>
<circle cx="341.32" cy="254.29" r="0.76" fill="rgb(187,187,187)"/>
<circle cx="345.27" cy="251.70" r="0.77" fill="rgb(206,206,206)"/>
<circle cx="340.51" cy="253.68" r="0.62" fill="rgb(204,204,204)"/>
<circle cx="347.37" cy="254.41" r="0.85" fill="rgb(181,181,181)"/>
<circle cx="340.24" cy="254.21" r="0.82" fill="rgb(199,199,199)"/>
<circle cx="344.93" cy="252.42" r="0.59" fill="rgb(204,204,204)"/>
<circle cx="342.56" cy="254.44" r="0.73" fill="rgb(193,193,193)"/>
<circle cx="343.23" cy="252.11" r="0.77" fill="rgb(194,194,194)"/>
<circle cx="361.54" cy="254.48" r="0.78" fill="rgb(180,180,180)"/>
<circle cx="360.21" cy="255.86" r="1.02" fill="rgb(180,180,180)"/>
<circle cx="360.40" cy="253.83" r="0.63" fill="rgb(180,180,180)"/>
<circle cx="363.48" cy="255.22" r="0.99" fill="rgb(180,180,180)"/>
<circle cx="362.81" cy="255.28" r="0.64" fill="rgb(180,180,180)"/>
<circle cx="359.76" cy="253.22" r="0.66" fill="rgb(180,180,180)"/>
<text x="53.00" y="28.30" font-size="8.3" text-anchor="end" fill="#231f20">CBS12767</text>
<text x="53.00" y="46.40" font-size="8.3" text-anchor="end" fill="#231f20"><tspan font-style="italic">gcn5</tspan>Δ</text>
<text x="53.00" y="63.80" font-size="8.3" text-anchor="end" font-style="italic" fill="#231f20">GCN5 AB</text>
<text x="53.00" y="103.30" font-size="8.3" text-anchor="end" fill="#231f20">CBS12767</text>
<text x="53.00" y="121.40" font-size="8.3" text-anchor="end" fill="#231f20"><tspan font-style="italic">gcn5</tspan>Δ</text>
<text x="53.00" y="138.80" font-size="8.3" text-anchor="end" font-style="italic" fill="#231f20">GCN5 AB</text>
<text x="53.00" y="191.90" font-size="8.3" text-anchor="end" fill="#231f20"><tspan font-style="italic">y</tspan>CB799</text>
<text x="53.00" y="207.60" font-size="8.3" text-anchor="end" fill="#231f20"><tspan font-style="italic">gcn5</tspan>Δ-2</text>
<text x="53.00" y="241.70" font-size="8.3" text-anchor="end" fill="#231f20"><tspan font-style="italic">y</tspan>CB799</text>
<text x="53.00" y="257.40" font-size="8.3" text-anchor="end" fill="#231f20"><tspan font-style="italic">gcn5</tspan>Δ-2</text>
<text x="94.00" y="76.30" font-size="8.3" text-anchor="middle" fill="#231f20">YPD</text>
<text x="171.80" y="76.30" font-size="8.3" text-anchor="middle" fill="#231f20">CAS 100 ng/mL</text>
<text x="249.80" y="76.30" font-size="8.3" text-anchor="middle" fill="#231f20">MCF 50 ng/mL</text>
<text x="327.80" y="76.30" font-size="8.3" text-anchor="middle" fill="#231f20">FLC 512 μg/mL</text>
<text x="94.00" y="150.60" font-size="8.3" text-anchor="middle" fill="#231f20">VOC 2 μg/mL</text>
<text x="171.80" y="150.60" font-size="8.3" text-anchor="middle" fill="#231f20">ITC 80 ng/mL</text>
<text x="249.80" y="150.60" font-size="8.3" text-anchor="middle" fill="#231f20">AmB 2 μg/mL</text>
<text x="327.80" y="150.60" font-size="8.3" text-anchor="middle" fill="#231f20">5-FC 4 μg/mL</text>
<text x="94.00" y="217.90" font-size="8.3" text-anchor="middle" fill="#231f20">YPD</text>
<text x="171.80" y="217.90" font-size="8.3" text-anchor="middle" fill="#231f20">CAS 2 μg/mL</text>
<text x="249.80" y="217.90" font-size="8.3" text-anchor="middle" fill="#231f20">MCF 4 μg/mL</text>
<text x="327.80" y="217.90" font-size="8.3" text-anchor="middle" fill="#231f20">FLC 128 μg/mL</text>
<text x="94.00" y="268.60" font-size="8.3" text-anchor="middle" fill="#231f20">VOC 0.5 μg/mL</text>
<text x="171.80" y="268.60" font-size="8.3" text-anchor="middle" fill="#231f20">ITC 2 ng/mL</text>
<text x="249.80" y="268.60" font-size="8.3" text-anchor="middle" fill="#231f20">AmB 0.5 μg/mL</text>
<text x="327.80" y="268.60" font-size="8.3" text-anchor="middle" fill="#231f20">5-FC 4 μg/mL</text>
<rect x="430.30" y="30.40" width="11.82" height="11.63" fill="rgb(35,140,55)"/>
<rect x="441.52" y="30.40" width="11.82" height="11.63" fill="rgb(35,140,55)"/>
<rect x="452.74" y="30.40" width="11.82" height="11.63" fill="rgb(35,140,55)"/>
<rect x="463.95" y="30.40" width="11.82" height="11.63" fill="rgb(35,140,55)"/>
<rect x="475.17" y="30.40" width="11.82" height="11.63" fill="rgb(38,145,58)"/>
<rect x="486.39" y="30.40" width="11.82" height="11.63" fill="rgb(45,172,60)"/>
<rect x="497.61" y="30.40" width="11.82" height="11.63" fill="rgb(40,155,60)"/>
<rect x="508.83" y="30.40" width="11.82" height="11.63" fill="rgb(35,140,60)"/>
<rect x="520.05" y="30.40" width="11.82" height="11.63" fill="rgb(60,172,60)"/>
<rect x="531.26" y="30.40" width="11.82" height="11.63" fill="#080808"/>
<rect x="542.48" y="30.40" width="11.22" height="11.63" fill="#050505"/>
<rect x="430.30" y="41.43" width="11.82" height="11.63" fill="rgb(30,118,60)"/>
<rect x="441.52" y="41.43" width="11.82" height="11.63" fill="rgb(30,118,60)"/>
<rect x="452.74" y="41.43" width="11.82" height="11.63" fill="rgb(28,112,60)"/>
<rect x="463.95" y="41.43" width="11.82" height="11.63" fill="rgb(28,112,60)"/>
<rect x="475.17" y="41.43" width="11.82" height="11.63" fill="rgb(25,108,58)"/>
<rect x="486.39" y="41.43" width="11.82" height="11.63" fill="rgb(20,55,30)"/>
<rect x="497.61" y="41.43" width="11.82" height="11.63" fill="#020202"/>
<rect x="508.83" y="41.43" width="11.82" height="11.63" fill="rgb(18,48,25)"/>
<rect x="520.05" y="41.43" width="11.82" height="11.63" fill="rgb(10,28,15)"/>
<rect x="531.26" y="41.43" width="11.82" height="11.63" fill="#030303"/>
<rect x="542.48" y="41.43" width="11.22" height="11.63" fill="#030303"/>
<rect x="430.30" y="52.47" width="11.82" height="11.03" fill="rgb(40,150,60)"/>
<rect x="441.52" y="52.47" width="11.82" height="11.03" fill="rgb(38,145,55)"/>
<rect x="452.74" y="52.47" width="11.82" height="11.03" fill="rgb(45,160,60)"/>
<rect x="463.95" y="52.47" width="11.82" height="11.03" fill="rgb(35,135,55)"/>
<rect x="475.17" y="52.47" width="11.82" height="11.03" fill="rgb(35,135,55)"/>
<rect x="486.39" y="52.47" width="11.82" height="11.03" fill="rgb(35,140,55)"/>
<rect x="497.61" y="52.47" width="11.82" height="11.03" fill="rgb(35,135,55)"/>
<rect x="508.83" y="52.47" width="11.82" height="11.03" fill="rgb(33,132,58)"/>
<rect x="520.05" y="52.47" width="11.82" height="11.03" fill="rgb(30,115,62)"/>
<rect x="531.26" y="52.47" width="11.82" height="11.03" fill="#030303"/>
<rect x="542.48" y="52.47" width="11.22" height="11.03" fill="#030303"/>
<rect x="430.30" y="30.40" width="123.40" height="33.10" fill="none" stroke="#1a1a1a" stroke-width="0.7"/>
<text x="436.40" y="28.80" font-size="8.3" text-anchor="middle" fill="#231f20">0</text>
<line x1="442.3" y1="26.90" x2="535.7" y2="26.90" stroke="#6a6a6a" stroke-width="0.9"/>
<path d="M534.70,25.30 L539.70,26.90 L534.70,28.50 Z" fill="#231f20"/>
<text x="546.80" y="28.80" font-size="8.3" text-anchor="middle" fill="#231f20">100</text>
<text x="492.00" y="24.40" font-size="8.3" text-anchor="middle" fill="#231f20">CAS (ng/mL)</text>
<text x="427.70" y="38.92" font-size="8.3" text-anchor="end" fill="#231f20">CBS12767</text>
<text x="427.70" y="49.95" font-size="8.3" text-anchor="end" fill="#231f20"><tspan font-style="italic">gcn5</tspan>Δ</text>
<text x="427.70" y="60.98" font-size="8.3" text-anchor="end" font-style="italic" fill="#231f20">GCN5 AB</text>
<rect x="561.60" y="30.40" width="11.82" height="11.63" fill="rgb(0,210,0)"/>
<rect x="572.82" y="30.40" width="11.82" height="11.63" fill="rgb(0,180,0)"/>
<rect x="584.04" y="30.40" width="11.82" height="11.63" fill="rgb(0,200,0)"/>
<rect x="595.25" y="30.40" width="11.82" height="11.63" fill="rgb(0,200,0)"/>
<rect x="606.47" y="30.40" width="11.82" height="11.63" fill="rgb(0,195,0)"/>
<rect x="617.69" y="30.40" width="11.82" height="11.63" fill="rgb(0,210,0)"/>
<rect x="628.91" y="30.40" width="11.82" height="11.63" fill="rgb(0,210,0)"/>
<rect x="640.13" y="30.40" width="11.82" height="11.63" fill="rgb(0,160,0)"/>
<rect x="651.35" y="30.40" width="11.82" height="11.63" fill="rgb(0,14,0)"/>
<rect x="662.56" y="30.40" width="11.82" height="11.63" fill="rgb(0,35,0)"/>
<rect x="673.78" y="30.40" width="11.22" height="11.63" fill="rgb(0,0,0)"/>
<rect x="561.60" y="41.43" width="11.82" height="11.63" fill="rgb(0,210,0)"/>
<rect x="572.82" y="41.43" width="11.82" height="11.63" fill="rgb(0,160,0)"/>
<rect x="584.04" y="41.43" width="11.82" height="11.63" fill="rgb(0,160,0)"/>
<rect x="595.25" y="41.43" width="11.82" height="11.63" fill="rgb(0,170,0)"/>
<rect x="606.47" y="41.43" width="11.82" height="11.63" fill="rgb(0,150,0)"/>
<rect x="617.69" y="41.43" width="11.82" height="11.63" fill="rgb(0,110,0)"/>
<rect x="628.91" y="41.43" width="11.82" height="11.63" fill="rgb(0,38,0)"/>
<rect x="640.13" y="41.43" width="11.82" height="11.63" fill="rgb(0,0,0)"/>
<rect x="651.35" y="41.43" width="11.82" height="11.63" fill="rgb(0,0,0)"/>
<rect x="662.56" y="41.43" width="11.82" height="11.63" fill="rgb(0,0,0)"/>
<rect x="673.78" y="41.43" width="11.22" height="11.63" fill="rgb(0,0,0)"/>
<rect x="561.60" y="52.47" width="11.82" height="11.03" fill="rgb(0,210,0)"/>
<rect x="572.82" y="52.47" width="11.82" height="11.03" fill="rgb(0,170,0)"/>
<rect x="584.04" y="52.47" width="11.82" height="11.03" fill="rgb(0,200,0)"/>
<rect x="595.25" y="52.47" width="11.82" height="11.03" fill="rgb(0,200,0)"/>
<rect x="606.47" y="52.47" width="11.82" height="11.03" fill="rgb(0,205,0)"/>
<rect x="617.69" y="52.47" width="11.82" height="11.03" fill="rgb(0,205,0)"/>
<rect x="628.91" y="52.47" width="11.82" height="11.03" fill="rgb(0,200,0)"/>
<rect x="640.13" y="52.47" width="11.82" height="11.03" fill="rgb(0,190,0)"/>
<rect x="651.35" y="52.47" width="11.82" height="11.03" fill="rgb(0,70,0)"/>
<rect x="662.56" y="52.47" width="11.82" height="11.03" fill="rgb(0,0,0)"/>
<rect x="673.78" y="52.47" width="11.22" height="11.03" fill="rgb(0,0,0)"/>
<rect x="561.60" y="30.40" width="123.40" height="33.10" fill="none" stroke="#1a1a1a" stroke-width="0.7"/>
<text x="567.70" y="28.80" font-size="8.3" text-anchor="middle" fill="#231f20">0</text>
<line x1="573.6" y1="26.90" x2="667.0" y2="26.90" stroke="#6a6a6a" stroke-width="0.9"/>
<path d="M666.00,25.30 L671.00,26.90 L666.00,28.50 Z" fill="#231f20"/>
<text x="678.10" y="28.80" font-size="8.3" text-anchor="middle" fill="#231f20">100</text>
<text x="623.30" y="24.40" font-size="8.3" text-anchor="middle" fill="#231f20">MCF (ng/mL)</text>
<rect x="430.30" y="86.80" width="10.90" height="11.67" fill="rgb(0,185,0)"/>
<rect x="440.60" y="86.80" width="10.90" height="11.67" fill="rgb(0,170,0)"/>
<rect x="450.90" y="86.80" width="10.90" height="11.67" fill="rgb(0,170,0)"/>
<rect x="461.20" y="86.80" width="10.90" height="11.67" fill="rgb(0,185,0)"/>
<rect x="471.50" y="86.80" width="10.90" height="11.67" fill="rgb(0,175,0)"/>
<rect x="481.80" y="86.80" width="10.90" height="11.67" fill="rgb(0,175,0)"/>
<rect x="492.10" y="86.80" width="10.90" height="11.67" fill="rgb(0,175,0)"/>
<rect x="502.40" y="86.80" width="10.90" height="11.67" fill="rgb(0,175,0)"/>
<rect x="512.70" y="86.80" width="10.90" height="11.67" fill="rgb(0,178,0)"/>
<rect x="523.00" y="86.80" width="10.90" height="11.67" fill="rgb(0,175,0)"/>
<rect x="533.30" y="86.80" width="10.90" height="11.67" fill="rgb(0,155,0)"/>
<rect x="543.60" y="86.80" width="10.30" height="11.67" fill="rgb(0,0,0)"/>
<rect x="430.30" y="97.87" width="10.90" height="11.67" fill="rgb(0,180,0)"/>
<rect x="440.60" y="97.87" width="10.90" height="11.67" fill="rgb(0,165,0)"/>
<rect x="450.90" y="97.87" width="10.90" height="11.67" fill="rgb(0,165,0)"/>
<rect x="461.20" y="97.87" width="10.90" height="11.67" fill="rgb(0,165,0)"/>
<rect x="471.50" y="97.87" width="10.90" height="11.67" fill="rgb(0,165,0)"/>
<rect x="481.80" y="97.87" width="10.90" height="11.67" fill="rgb(0,165,0)"/>
<rect x="492.10" y="97.87" width="10.90" height="11.67" fill="rgb(0,165,0)"/>
<rect x="502.40" y="97.87" width="10.90" height="11.67" fill="rgb(0,160,0)"/>
<rect x="512.70" y="97.87" width="10.90" height="11.67" fill="rgb(0,120,0)"/>
<rect x="523.00" y="97.87" width="10.90" height="11.67" fill="rgb(0,100,0)"/>
<rect x="533.30" y="97.87" width="10.90" height="11.67" fill="rgb(0,30,0)"/>
<rect x="543.60" y="97.87" width="10.30" height="11.67" fill="rgb(0,0,0)"/>
<rect x="430.30" y="108.93" width="10.90" height="11.07" fill="rgb(0,185,0)"/>
<rect x="440.60" y="108.93" width="10.90" height="11.07" fill="rgb(0,185,0)"/>
<rect x="450.90" y="108.93" width="10.90" height="11.07" fill="rgb(0,185,0)"/>
<rect x="461.20" y="108.93" width="10.90" height="11.07" fill="rgb(0,185,0)"/>
<rect x="471.50" y="108.93" width="10.90" height="11.07" fill="rgb(0,185,0)"/>
<rect x="481.80" y="108.93" width="10.90" height="11.07" fill="rgb(0,185,0)"/>
<rect x="492.10" y="108.93" width="10.90" height="11.07" fill="rgb(0,185,0)"/>
<rect x="502.40" y="108.93" width="10.90" height="11.07" fill="rgb(0,190,0)"/>
<rect x="512.70" y="108.93" width="10.90" height="11.07" fill="rgb(0,185,0)"/>
<rect x="523.00" y="108.93" width="10.90" height="11.07" fill="rgb(0,180,0)"/>
<rect x="533.30" y="108.93" width="10.90" height="11.07" fill="rgb(0,160,0)"/>
<rect x="543.60" y="108.93" width="10.30" height="11.07" fill="rgb(0,0,0)"/>
<rect x="430.30" y="86.80" width="123.60" height="33.20" fill="none" stroke="#1a1a1a" stroke-width="0.7"/>
<text x="436.40" y="85.20" font-size="8.3" text-anchor="middle" fill="#231f20">0</text>
<line x1="442.3" y1="83.30" x2="535.9" y2="83.30" stroke="#6a6a6a" stroke-width="0.9"/>
<path d="M534.90,81.70 L539.90,83.30 L534.90,84.90 Z" fill="#231f20"/>
<text x="547.00" y="85.20" font-size="8.3" text-anchor="middle" fill="#231f20">512</text>
<text x="492.10" y="80.80" font-size="8.3" text-anchor="middle" fill="#231f20">FLC (μg/mL)</text>
<text x="427.70" y="95.33" font-size="8.3" text-anchor="end" fill="#231f20">CBS12767</text>
<text x="427.70" y="106.40" font-size="8.3" text-anchor="end" fill="#231f20"><tspan font-style="italic">gcn5</tspan>Δ</text>
<text x="427.70" y="117.47" font-size="8.3" text-anchor="end" font-style="italic" fill="#231f20">GCN5 AB</text>
<rect x="561.40" y="86.80" width="11.84" height="11.73" fill="rgb(0,190,0)"/>
<rect x="572.64" y="86.80" width="11.84" height="11.73" fill="rgb(0,190,0)"/>
<rect x="583.87" y="86.80" width="11.84" height="11.73" fill="rgb(0,190,0)"/>
<rect x="595.11" y="86.80" width="11.84" height="11.73" fill="rgb(0,190,0)"/>
<rect x="606.35" y="86.80" width="11.84" height="11.73" fill="rgb(0,150,0)"/>
<rect x="617.58" y="86.80" width="11.84" height="11.73" fill="rgb(0,50,0)"/>
<rect x="628.82" y="86.80" width="11.84" height="11.73" fill="rgb(0,30,0)"/>
<rect x="640.05" y="86.80" width="11.84" height="11.73" fill="rgb(0,20,0)"/>
<rect x="651.29" y="86.80" width="11.84" height="11.73" fill="rgb(0,0,0)"/>
<rect x="662.53" y="86.80" width="11.84" height="11.73" fill="rgb(0,0,0)"/>
<rect x="673.76" y="86.80" width="11.24" height="11.73" fill="rgb(0,0,0)"/>
<rect x="561.40" y="97.93" width="11.84" height="11.73" fill="rgb(0,190,0)"/>
<rect x="572.64" y="97.93" width="11.84" height="11.73" fill="rgb(0,110,0)"/>
<rect x="583.87" y="97.93" width="11.84" height="11.73" fill="rgb(0,100,0)"/>
<rect x="595.11" y="97.93" width="11.84" height="11.73" fill="rgb(0,80,0)"/>
<rect x="606.35" y="97.93" width="11.84" height="11.73" fill="rgb(0,50,0)"/>
<rect x="617.58" y="97.93" width="11.84" height="11.73" fill="rgb(0,30,0)"/>
<rect x="628.82" y="97.93" width="11.84" height="11.73" fill="rgb(0,0,0)"/>
<rect x="640.05" y="97.93" width="11.84" height="11.73" fill="rgb(0,0,0)"/>
<rect x="651.29" y="97.93" width="11.84" height="11.73" fill="rgb(0,0,0)"/>
<rect x="662.53" y="97.93" width="11.84" height="11.73" fill="rgb(0,0,0)"/>
<rect x="673.76" y="97.93" width="11.24" height="11.73" fill="rgb(0,0,0)"/>
<rect x="561.40" y="109.07" width="11.84" height="11.13" fill="rgb(0,190,0)"/>
<rect x="572.64" y="109.07" width="11.84" height="11.13" fill="rgb(0,180,0)"/>
<rect x="583.87" y="109.07" width="11.84" height="11.13" fill="rgb(0,180,0)"/>
<rect x="595.11" y="109.07" width="11.84" height="11.13" fill="rgb(0,180,0)"/>
<rect x="606.35" y="109.07" width="11.84" height="11.13" fill="rgb(0,150,0)"/>
<rect x="617.58" y="109.07" width="11.84" height="11.13" fill="rgb(0,70,0)"/>
<rect x="628.82" y="109.07" width="11.84" height="11.13" fill="rgb(0,20,0)"/>
<rect x="640.05" y="109.07" width="11.84" height="11.13" fill="rgb(0,0,0)"/>
<rect x="651.29" y="109.07" width="11.84" height="11.13" fill="rgb(0,0,0)"/>
<rect x="662.53" y="109.07" width="11.84" height="11.13" fill="rgb(0,0,0)"/>
<rect x="673.76" y="109.07" width="11.24" height="11.13" fill="rgb(0,0,0)"/>
<rect x="561.40" y="86.80" width="123.60" height="33.40" fill="none" stroke="#1a1a1a" stroke-width="0.7"/>
<text x="567.50" y="85.20" font-size="8.3" text-anchor="middle" fill="#231f20">0</text>
<line x1="573.4" y1="83.30" x2="667.0" y2="83.30" stroke="#6a6a6a" stroke-width="0.9"/>
<path d="M666.00,81.70 L671.00,83.30 L666.00,84.90 Z" fill="#231f20"/>
<text x="678.10" y="85.20" font-size="8.3" text-anchor="middle" fill="#231f20">2</text>
<text x="623.20" y="80.80" font-size="8.3" text-anchor="middle" fill="#231f20">ITC (μg/mL)</text>
<rect x="430.30" y="143.80" width="10.90" height="11.73" fill="rgb(0,185,0)"/>
<rect x="440.60" y="143.80" width="10.90" height="11.73" fill="rgb(0,175,0)"/>
<rect x="450.90" y="143.80" width="10.90" height="11.73" fill="rgb(0,180,0)"/>
<rect x="461.20" y="143.80" width="10.90" height="11.73" fill="rgb(0,180,0)"/>
<rect x="471.50" y="143.80" width="10.90" height="11.73" fill="rgb(0,180,0)"/>
<rect x="481.80" y="143.80" width="10.90" height="11.73" fill="rgb(0,180,0)"/>
<rect x="492.10" y="143.80" width="10.90" height="11.73" fill="rgb(0,180,0)"/>
<rect x="502.40" y="143.80" width="10.90" height="11.73" fill="rgb(0,180,0)"/>
<rect x="512.70" y="143.80" width="10.90" height="11.73" fill="rgb(0,180,0)"/>
<rect x="523.00" y="143.80" width="10.90" height="11.73" fill="rgb(0,130,0)"/>
<rect x="533.30" y="143.80" width="10.90" height="11.73" fill="rgb(0,25,0)"/>
<rect x="543.60" y="143.80" width="10.30" height="11.73" fill="rgb(0,0,0)"/>
<rect x="430.30" y="154.93" width="10.90" height="11.73" fill="rgb(0,180,0)"/>
<rect x="440.60" y="154.93" width="10.90" height="11.73" fill="rgb(0,165,0)"/>
<rect x="450.90" y="154.93" width="10.90" height="11.73" fill="rgb(0,165,0)"/>
<rect x="461.20" y="154.93" width="10.90" height="11.73" fill="rgb(0,165,0)"/>
<rect x="471.50" y="154.93" width="10.90" height="11.73" fill="rgb(0,165,0)"/>
<rect x="481.80" y="154.93" width="10.90" height="11.73" fill="rgb(0,165,0)"/>
<rect x="492.10" y="154.93" width="10.90" height="11.73" fill="rgb(0,140,0)"/>
<rect x="502.40" y="154.93" width="10.90" height="11.73" fill="rgb(0,110,0)"/>
<rect x="512.70" y="154.93" width="10.90" height="11.73" fill="rgb(0,50,0)"/>
<rect x="523.00" y="154.93" width="10.90" height="11.73" fill="rgb(0,30,0)"/>
<rect x="533.30" y="154.93" width="10.90" height="11.73" fill="rgb(0,0,0)"/>
<rect x="543.60" y="154.93" width="10.30" height="11.73" fill="rgb(0,0,0)"/>
<rect x="430.30" y="166.07" width="10.90" height="11.13" fill="rgb(0,185,0)"/>
<rect x="440.60" y="166.07" width="10.90" height="11.13" fill="rgb(0,185,0)"/>
<rect x="450.90" y="166.07" width="10.90" height="11.13" fill="rgb(0,185,0)"/>
<rect x="461.20" y="166.07" width="10.90" height="11.13" fill="rgb(0,185,0)"/>
<rect x="471.50" y="166.07" width="10.90" height="11.13" fill="rgb(0,185,0)"/>
<rect x="481.80" y="166.07" width="10.90" height="11.13" fill="rgb(0,185,0)"/>
<rect x="492.10" y="166.07" width="10.90" height="11.13" fill="rgb(0,185,0)"/>
<rect x="502.40" y="166.07" width="10.90" height="11.13" fill="rgb(0,185,0)"/>
<rect x="512.70" y="166.07" width="10.90" height="11.13" fill="rgb(0,185,0)"/>
<rect x="523.00" y="166.07" width="10.90" height="11.13" fill="rgb(0,140,0)"/>
<rect x="533.30" y="166.07" width="10.90" height="11.13" fill="rgb(0,30,0)"/>
<rect x="543.60" y="166.07" width="10.30" height="11.13" fill="rgb(0,0,0)"/>
<rect x="430.30" y="143.80" width="123.60" height="33.40" fill="none" stroke="#1a1a1a" stroke-width="0.7"/>
<text x="436.40" y="142.20" font-size="8.3" text-anchor="middle" fill="#231f20">0</text>
<line x1="442.3" y1="140.30" x2="535.9" y2="140.30" stroke="#6a6a6a" stroke-width="0.9"/>
<path d="M534.90,138.70 L539.90,140.30 L534.90,141.90 Z" fill="#231f20"/>
<text x="547.00" y="142.20" font-size="8.3" text-anchor="middle" fill="#231f20">2</text>
<text x="492.10" y="137.80" font-size="8.3" text-anchor="middle" fill="#231f20">VOC (μg/mL)</text>
<text x="427.70" y="152.37" font-size="8.3" text-anchor="end" fill="#231f20">CBS12767</text>
<text x="427.70" y="163.50" font-size="8.3" text-anchor="end" fill="#231f20"><tspan font-style="italic">gcn5</tspan>Δ</text>
<text x="427.70" y="174.63" font-size="8.3" text-anchor="end" font-style="italic" fill="#231f20">GCN5 AB</text>
<rect x="561.60" y="144.00" width="10.87" height="11.67" fill="rgb(0,180,0)"/>
<rect x="571.87" y="144.00" width="10.87" height="11.67" fill="rgb(0,170,0)"/>
<rect x="582.13" y="144.00" width="10.87" height="11.67" fill="rgb(0,170,0)"/>
<rect x="592.40" y="144.00" width="10.87" height="11.67" fill="rgb(0,175,0)"/>
<rect x="602.67" y="144.00" width="10.87" height="11.67" fill="rgb(0,175,0)"/>
<rect x="612.93" y="144.00" width="10.87" height="11.67" fill="rgb(0,175,0)"/>
<rect x="623.20" y="144.00" width="10.87" height="11.67" fill="rgb(0,175,0)"/>
<rect x="633.47" y="144.00" width="10.87" height="11.67" fill="rgb(0,140,0)"/>
<rect x="643.73" y="144.00" width="10.87" height="11.67" fill="rgb(0,45,0)"/>
<rect x="654.00" y="144.00" width="10.87" height="11.67" fill="rgb(0,0,0)"/>
<rect x="664.27" y="144.00" width="10.87" height="11.67" fill="rgb(0,0,0)"/>
<rect x="674.53" y="144.00" width="10.27" height="11.67" fill="rgb(0,0,0)"/>
<rect x="561.60" y="155.07" width="10.87" height="11.67" fill="rgb(0,170,0)"/>
<rect x="571.87" y="155.07" width="10.87" height="11.67" fill="rgb(0,160,0)"/>
<rect x="582.13" y="155.07" width="10.87" height="11.67" fill="rgb(0,160,0)"/>
<rect x="592.40" y="155.07" width="10.87" height="11.67" fill="rgb(0,170,0)"/>
<rect x="602.67" y="155.07" width="10.87" height="11.67" fill="rgb(0,195,0)"/>
<rect x="612.93" y="155.07" width="10.87" height="11.67" fill="rgb(0,160,0)"/>
<rect x="623.20" y="155.07" width="10.87" height="11.67" fill="rgb(0,100,0)"/>
<rect x="633.47" y="155.07" width="10.87" height="11.67" fill="rgb(0,0,0)"/>
<rect x="643.73" y="155.07" width="10.87" height="11.67" fill="rgb(0,0,0)"/>
<rect x="654.00" y="155.07" width="10.87" height="11.67" fill="rgb(0,0,0)"/>
<rect x="664.27" y="155.07" width="10.87" height="11.67" fill="rgb(0,0,0)"/>
<rect x="674.53" y="155.07" width="10.27" height="11.67" fill="rgb(0,0,0)"/>
<rect x="561.60" y="166.13" width="10.87" height="11.07" fill="rgb(0,170,0)"/>
<rect x="571.87" y="166.13" width="10.87" height="11.07" fill="rgb(0,160,0)"/>
<rect x="582.13" y="166.13" width="10.87" height="11.07" fill="rgb(0,160,0)"/>
<rect x="592.40" y="166.13" width="10.87" height="11.07" fill="rgb(0,160,0)"/>
<rect x="602.67" y="166.13" width="10.87" height="11.07" fill="rgb(0,160,0)"/>
<rect x="612.93" y="166.13" width="10.87" height="11.07" fill="rgb(0,160,0)"/>
<rect x="623.20" y="166.13" width="10.87" height="11.07" fill="rgb(0,140,0)"/>
<rect x="633.47" y="166.13" width="10.87" height="11.07" fill="rgb(0,60,0)"/>
<rect x="643.73" y="166.13" width="10.87" height="11.07" fill="rgb(0,0,0)"/>
<rect x="654.00" y="166.13" width="10.87" height="11.07" fill="rgb(0,0,0)"/>
<rect x="664.27" y="166.13" width="10.87" height="11.07" fill="rgb(0,0,0)"/>
<rect x="674.53" y="166.13" width="10.27" height="11.07" fill="rgb(0,0,0)"/>
<rect x="561.60" y="144.00" width="123.20" height="33.20" fill="none" stroke="#1a1a1a" stroke-width="0.7"/>
<text x="567.70" y="142.40" font-size="8.3" text-anchor="middle" fill="#231f20">0</text>
<line x1="573.6" y1="140.50" x2="666.8000000000001" y2="140.50" stroke="#6a6a6a" stroke-width="0.9"/>
<path d="M665.80,138.90 L670.80,140.50 L665.80,142.10 Z" fill="#231f20"/>
<text x="677.90" y="142.40" font-size="8.3" text-anchor="middle" fill="#231f20">8</text>
<text x="623.20" y="138.00" font-size="8.3" text-anchor="middle" fill="#231f20">AmB (μg/mL)</text>
<rect x="430.30" y="205.00" width="10.87" height="11.53" fill="rgb(0,190,0)"/>
<rect x="440.57" y="205.00" width="10.87" height="11.53" fill="rgb(0,180,0)"/>
<rect x="450.83" y="205.00" width="10.87" height="11.53" fill="rgb(0,180,0)"/>
<rect x="461.10" y="205.00" width="10.87" height="11.53" fill="rgb(0,180,0)"/>
<rect x="471.37" y="205.00" width="10.87" height="11.53" fill="rgb(0,160,0)"/>
<rect x="481.63" y="205.00" width="10.87" height="11.53" fill="rgb(0,140,0)"/>
<rect x="491.90" y="205.00" width="10.87" height="11.53" fill="rgb(0,100,0)"/>
<rect x="502.17" y="205.00" width="10.87" height="11.53" fill="rgb(0,50,0)"/>
<rect x="512.43" y="205.00" width="10.87" height="11.53" fill="rgb(0,15,0)"/>
<rect x="522.70" y="205.00" width="10.87" height="11.53" fill="rgb(0,8,0)"/>
<rect x="532.97" y="205.00" width="10.87" height="11.53" fill="rgb(0,8,0)"/>
<rect x="543.23" y="205.00" width="10.27" height="11.53" fill="rgb(0,5,0)"/>
<rect x="430.30" y="215.93" width="10.87" height="11.53" fill="rgb(0,180,0)"/>
<rect x="440.57" y="215.93" width="10.87" height="11.53" fill="rgb(0,160,0)"/>
<rect x="450.83" y="215.93" width="10.87" height="11.53" fill="rgb(0,160,0)"/>
<rect x="461.10" y="215.93" width="10.87" height="11.53" fill="rgb(0,160,0)"/>
<rect x="471.37" y="215.93" width="10.87" height="11.53" fill="rgb(0,150,0)"/>
<rect x="481.63" y="215.93" width="10.87" height="11.53" fill="rgb(0,130,0)"/>
<rect x="491.90" y="215.93" width="10.87" height="11.53" fill="rgb(0,100,0)"/>
<rect x="502.17" y="215.93" width="10.87" height="11.53" fill="rgb(0,60,0)"/>
<rect x="512.43" y="215.93" width="10.87" height="11.53" fill="rgb(0,10,0)"/>
<rect x="522.70" y="215.93" width="10.87" height="11.53" fill="rgb(0,5,0)"/>
<rect x="532.97" y="215.93" width="10.87" height="11.53" fill="rgb(0,5,0)"/>
<rect x="543.23" y="215.93" width="10.27" height="11.53" fill="rgb(0,5,0)"/>
<rect x="430.30" y="226.87" width="10.87" height="10.93" fill="rgb(0,190,0)"/>
<rect x="440.57" y="226.87" width="10.87" height="10.93" fill="rgb(0,180,0)"/>
<rect x="450.83" y="226.87" width="10.87" height="10.93" fill="rgb(0,175,0)"/>
<rect x="461.10" y="226.87" width="10.87" height="10.93" fill="rgb(0,175,0)"/>
<rect x="471.37" y="226.87" width="10.87" height="10.93" fill="rgb(0,160,0)"/>
<rect x="481.63" y="226.87" width="10.87" height="10.93" fill="rgb(0,140,0)"/>
<rect x="491.90" y="226.87" width="10.87" height="10.93" fill="rgb(0,70,0)"/>
<rect x="502.17" y="226.87" width="10.87" height="10.93" fill="rgb(0,30,0)"/>
<rect x="512.43" y="226.87" width="10.87" height="10.93" fill="rgb(0,5,0)"/>
<rect x="522.70" y="226.87" width="10.87" height="10.93" fill="rgb(0,5,0)"/>
<rect x="532.97" y="226.87" width="10.87" height="10.93" fill="rgb(0,5,0)"/>
<rect x="543.23" y="226.87" width="10.27" height="10.93" fill="rgb(0,5,0)"/>
<rect x="430.30" y="205.00" width="123.20" height="32.80" fill="none" stroke="#1a1a1a" stroke-width="0.7"/>
<text x="436.40" y="203.40" font-size="8.3" text-anchor="middle" fill="#231f20">0</text>
<line x1="442.3" y1="201.50" x2="535.5" y2="201.50" stroke="#6a6a6a" stroke-width="0.9"/>
<path d="M534.50,199.90 L539.50,201.50 L534.50,203.10 Z" fill="#231f20"/>
<text x="546.60" y="203.40" font-size="8.3" text-anchor="middle" fill="#231f20">64</text>
<text x="491.90" y="199.00" font-size="8.3" text-anchor="middle" fill="#231f20">5-FC (μg/mL)</text>
<text x="427.70" y="213.47" font-size="8.3" text-anchor="end" fill="#231f20">CBS12767</text>
<text x="427.70" y="224.40" font-size="8.3" text-anchor="end" fill="#231f20"><tspan font-style="italic">gcn5</tspan>Δ</text>
<text x="427.70" y="235.33" font-size="8.3" text-anchor="end" font-style="italic" fill="#231f20">GCN5 AB</text>
<defs><linearGradient id="cb" x1="0" x2="1" y1="0" y2="0"><stop offset="0" stop-color="#101510"/><stop offset="1" stop-color="#00c000"/></linearGradient></defs>
<rect x="430.0" y="245.4" width="65.3" height="9.6" fill="url(#cb)" stroke="#1a1a1a" stroke-width="0.7"/>
<line x1="443.06" y1="245.4" x2="443.06" y2="246.8" stroke="#1a1a1a" stroke-width="0.6"/>
<line x1="443.06" y1="253.6" x2="443.06" y2="255.0" stroke="#1a1a1a" stroke-width="0.6"/>
<line x1="456.12" y1="245.4" x2="456.12" y2="246.8" stroke="#1a1a1a" stroke-width="0.6"/>
<line x1="456.12" y1="253.6" x2="456.12" y2="255.0" stroke="#1a1a1a" stroke-width="0.6"/>
<line x1="469.18" y1="245.4" x2="469.18" y2="246.8" stroke="#1a1a1a" stroke-width="0.6"/>
<line x1="469.18" y1="253.6" x2="469.18" y2="255.0" stroke="#1a1a1a" stroke-width="0.6"/>
<line x1="482.24" y1="245.4" x2="482.24" y2="246.8" stroke="#1a1a1a" stroke-width="0.6"/>
<line x1="482.24" y1="253.6" x2="482.24" y2="255.0" stroke="#1a1a1a" stroke-width="0.6"/>
<text x="430.30" y="263.30" font-size="7.1" text-anchor="middle" fill="#231f20">0</text>
<text x="443.26" y="263.30" font-size="7.1" text-anchor="middle" fill="#231f20">0.2</text>
<text x="456.22" y="263.30" font-size="7.1" text-anchor="middle" fill="#231f20">0.4</text>
<text x="469.18" y="263.30" font-size="7.1" text-anchor="middle" fill="#231f20">0.6</text>
<text x="482.14" y="263.30" font-size="7.1" text-anchor="middle" fill="#231f20">0.8</text>
<text x="495.10" y="263.30" font-size="7.1" text-anchor="middle" fill="#231f20">1.0</text>
<line x1="38.3" y1="325.3" x2="38.3" y2="426.8" stroke="#231f20" stroke-width="0.8"/>
<line x1="38.3" y1="426.8" x2="190.6" y2="426.8" stroke="#231f20" stroke-width="0.8"/>
<line x1="34.3" y1="426.80" x2="38.3" y2="426.80" stroke="#231f20" stroke-width="0.8"/>
<text x="33.30" y="429.30" font-size="9" text-anchor="end" fill="#231f20">0</text>
<line x1="34.3" y1="406.50" x2="38.3" y2="406.50" stroke="#231f20" stroke-width="0.8"/>
<text x="33.30" y="409.00" font-size="9" text-anchor="end" fill="#231f20">2</text>
<line x1="34.3" y1="386.20" x2="38.3" y2="386.20" stroke="#231f20" stroke-width="0.8"/>
<text x="33.30" y="388.70" font-size="9" text-anchor="end" fill="#231f20">4</text>
<line x1="34.3" y1="365.90" x2="38.3" y2="365.90" stroke="#231f20" stroke-width="0.8"/>
<text x="33.30" y="368.40" font-size="9" text-anchor="end" fill="#231f20">6</text>
<line x1="34.3" y1="345.60" x2="38.3" y2="345.60" stroke="#231f20" stroke-width="0.8"/>
<text x="33.30" y="348.10" font-size="9" text-anchor="end" fill="#231f20">8</text>
<line x1="34.3" y1="325.30" x2="38.3" y2="325.30" stroke="#231f20" stroke-width="0.8"/>
<text x="33.30" y="327.80" font-size="9" text-anchor="end" fill="#231f20">10</text>
<line x1="38.30" y1="426.8" x2="38.30" y2="431.0" stroke="#231f20" stroke-width="0.8"/>
<text x="38.30" y="438.90" font-size="9" text-anchor="middle" fill="#231f20">0</text>
<line x1="63.68" y1="426.8" x2="63.68" y2="431.0" stroke="#231f20" stroke-width="0.8"/>
<text x="63.68" y="438.90" font-size="9" text-anchor="middle" fill="#231f20">8</text>
<line x1="89.07" y1="426.8" x2="89.07" y2="431.0" stroke="#231f20" stroke-width="0.8"/>
<text x="89.07" y="438.90" font-size="9" text-anchor="middle" fill="#231f20">16</text>
<line x1="114.45" y1="426.8" x2="114.45" y2="431.0" stroke="#231f20" stroke-width="0.8"/>
<text x="114.45" y="438.90" font-size="9" text-anchor="middle" fill="#231f20">24</text>
<line x1="139.83" y1="426.8" x2="139.83" y2="431.0" stroke="#231f20" stroke-width="0.8"/>
<text x="139.83" y="438.90" font-size="9" text-anchor="middle" fill="#231f20">32</text>
<line x1="165.22" y1="426.8" x2="165.22" y2="431.0" stroke="#231f20" stroke-width="0.8"/>
<text x="165.22" y="438.90" font-size="9" text-anchor="middle" fill="#231f20">40</text>
<line x1="190.60" y1="426.8" x2="190.60" y2="431.0" stroke="#231f20" stroke-width="0.8"/>
<text x="190.60" y="438.90" font-size="9" text-anchor="middle" fill="#231f20">48</text>
<text x="114.45" y="310.30" font-size="8.3" text-anchor="middle" fill="#231f20">CBS12767</text>
<text transform="translate(22.30,377.35) rotate(-90)" font-size="8.3" text-anchor="middle" fill="#231f20">Log<tspan font-size="4.2" dy="0.6">10</tspan><tspan dy="-0.6"> CFU/mL</tspan></text>
<text x="116.30" y="449.90" font-size="8.3" text-anchor="middle" fill="#231f20">Time (h)</text>
<polyline points="38.30,361.94 44.65,368.34 50.99,369.55 63.68,373.41 114.45,373.61 190.60,366.51" fill="none" stroke="#5b5bff" stroke-width="0.9"/>
<polyline points="38.30,361.94 44.65,371.79 50.99,371.28 63.68,375.44 114.45,369.05 190.60,352.20" fill="none" stroke="#6a0ca0" stroke-width="0.9"/>
<polyline points="38.30,361.94 44.65,370.77 50.99,367.22 63.68,361.43 114.45,347.02 190.60,344.99" fill="none" stroke="#f24a50" stroke-width="0.9"/>
<polyline points="38.30,361.94 44.65,360.32 50.99,356.16 63.68,350.37 114.45,341.95 190.60,340.42" fill="none" stroke="#111" stroke-width="0.9"/>
<path d="M38.30,359.34 L40.50,361.94 L38.30,364.54 L36.10,361.94 Z" fill="#5b5bff"/>
<path d="M44.65,365.74 L46.85,368.34 L44.65,370.94 L42.45,368.34 Z" fill="#5b5bff"/>
<path d="M50.99,366.95 L53.19,369.55 L50.99,372.15 L48.79,369.55 Z" fill="#5b5bff"/>
<path d="M63.68,370.81 L65.88,373.41 L63.68,376.01 L61.48,373.41 Z" fill="#5b5bff"/>
<path d="M114.45,371.01 L116.65,373.61 L114.45,376.21 L112.25,373.61 Z" fill="#5b5bff"/>
<path d="M190.60,363.91 L192.80,366.51 L190.60,369.11 L188.40,366.51 Z" fill="#5b5bff"/>
<path d="M35.50,359.74 L41.10,359.74 L38.30,364.54 Z" fill="#6a0ca0"/>
<path d="M41.85,369.59 L47.45,369.59 L44.65,374.39 Z" fill="#6a0ca0"/>
<path d="M48.19,369.08 L53.79,369.08 L50.99,373.88 Z" fill="#6a0ca0"/>
<path d="M60.88,373.24 L66.48,373.24 L63.68,378.04 Z" fill="#6a0ca0"/>
<path d="M111.65,366.85 L117.25,366.85 L114.45,371.65 Z" fill="#6a0ca0"/>
<path d="M187.80,350.00 L193.40,350.00 L190.60,354.80 Z" fill="#6a0ca0"/>
<rect x="35.90" y="359.54" width="4.8" height="4.8" fill="#f24a50"/>
<rect x="42.25" y="368.37" width="4.8" height="4.8" fill="#f24a50"/>
<rect x="48.59" y="364.82" width="4.8" height="4.8" fill="#f24a50"/>
<rect x="61.28" y="359.03" width="4.8" height="4.8" fill="#f24a50"/>
<rect x="112.05" y="344.62" width="4.8" height="4.8" fill="#f24a50"/>
<rect x="188.20" y="342.59" width="4.8" height="4.8" fill="#f24a50"/>
<circle cx="38.30" cy="361.94" r="2.4" fill="#000"/>
<circle cx="44.65" cy="360.32" r="2.4" fill="#000"/>
<circle cx="50.99" cy="356.16" r="2.4" fill="#000"/>
<circle cx="63.68" cy="350.37" r="2.4" fill="#000"/>
<circle cx="114.45" cy="341.95" r="2.4" fill="#000"/>
<circle cx="190.60" cy="340.42" r="2.4" fill="#000"/>
<line x1="239.3" y1="325.3" x2="239.3" y2="426.8" stroke="#231f20" stroke-width="0.8"/>
<line x1="239.3" y1="426.8" x2="391.1" y2="426.8" stroke="#231f20" stroke-width="0.8"/>
<line x1="235.3" y1="426.80" x2="239.3" y2="426.80" stroke="#231f20" stroke-width="0.8"/>
<text x="234.30" y="429.30" font-size="9" text-anchor="end" fill="#231f20">0</text>
<line x1="235.3" y1="406.50" x2="239.3" y2="406.50" stroke="#231f20" stroke-width="0.8"/>
<text x="234.30" y="409.00" font-size="9" text-anchor="end" fill="#231f20">2</text>
<line x1="235.3" y1="386.20" x2="239.3" y2="386.20" stroke="#231f20" stroke-width="0.8"/>
<text x="234.30" y="388.70" font-size="9" text-anchor="end" fill="#231f20">4</text>
<line x1="235.3" y1="365.90" x2="239.3" y2="365.90" stroke="#231f20" stroke-width="0.8"/>
<text x="234.30" y="368.40" font-size="9" text-anchor="end" fill="#231f20">6</text>
<line x1="235.3" y1="345.60" x2="239.3" y2="345.60" stroke="#231f20" stroke-width="0.8"/>
<text x="234.30" y="348.10" font-size="9" text-anchor="end" fill="#231f20">8</text>
<line x1="235.3" y1="325.30" x2="239.3" y2="325.30" stroke="#231f20" stroke-width="0.8"/>
<text x="234.30" y="327.80" font-size="9" text-anchor="end" fill="#231f20">10</text>
<line x1="239.30" y1="426.8" x2="239.30" y2="431.0" stroke="#231f20" stroke-width="0.8"/>
<text x="239.30" y="438.90" font-size="9" text-anchor="middle" fill="#231f20">0</text>
<line x1="264.60" y1="426.8" x2="264.60" y2="431.0" stroke="#231f20" stroke-width="0.8"/>
<text x="264.60" y="438.90" font-size="9" text-anchor="middle" fill="#231f20">8</text>
<line x1="289.90" y1="426.8" x2="289.90" y2="431.0" stroke="#231f20" stroke-width="0.8"/>
<text x="289.90" y="438.90" font-size="9" text-anchor="middle" fill="#231f20">16</text>
<line x1="315.20" y1="426.8" x2="315.20" y2="431.0" stroke="#231f20" stroke-width="0.8"/>
<text x="315.20" y="438.90" font-size="9" text-anchor="middle" fill="#231f20">24</text>
<line x1="340.50" y1="426.8" x2="340.50" y2="431.0" stroke="#231f20" stroke-width="0.8"/>
<text x="340.50" y="438.90" font-size="9" text-anchor="middle" fill="#231f20">32</text>
<line x1="365.80" y1="426.8" x2="365.80" y2="431.0" stroke="#231f20" stroke-width="0.8"/>
<text x="365.80" y="438.90" font-size="9" text-anchor="middle" fill="#231f20">40</text>
<line x1="391.10" y1="426.8" x2="391.10" y2="431.0" stroke="#231f20" stroke-width="0.8"/>
<text x="391.10" y="438.90" font-size="9" text-anchor="middle" fill="#231f20">48</text>
<text x="315.20" y="310.30" font-size="8.3" text-anchor="middle" fill="#231f20"><tspan font-style="italic">gcn5</tspan>Δ</text>
<text transform="translate(223.30,377.35) rotate(-90)" font-size="8.3" text-anchor="middle" fill="#231f20">Log<tspan font-size="4.2" dy="0.6">10</tspan><tspan dy="-0.6"> CFU/mL</tspan></text>
<text x="317.60" y="449.90" font-size="8.3" text-anchor="middle" fill="#231f20">Time (h)</text>
<line x1="264.60" y1="385.69" x2="264.60" y2="391.78" stroke="#f24a50" stroke-width="0.8" opacity="0.75"/>
<line x1="262.60" y1="385.69" x2="266.60" y2="385.69" stroke="#f24a50" stroke-width="0.8" opacity="0.75"/>
<line x1="262.60" y1="391.78" x2="266.60" y2="391.78" stroke="#f24a50" stroke-width="0.8" opacity="0.75"/>
<line x1="391.10" y1="370.47" x2="391.10" y2="376.56" stroke="#f24a50" stroke-width="0.8" opacity="0.75"/>
<line x1="389.10" y1="370.47" x2="393.10" y2="370.47" stroke="#f24a50" stroke-width="0.8" opacity="0.75"/>
<line x1="389.10" y1="376.56" x2="393.10" y2="376.56" stroke="#f24a50" stroke-width="0.8" opacity="0.75"/>
<line x1="391.10" y1="409.04" x2="391.10" y2="415.13" stroke="#6a0ca0" stroke-width="0.8" opacity="0.75"/>
<line x1="389.10" y1="409.04" x2="393.10" y2="409.04" stroke="#6a0ca0" stroke-width="0.8" opacity="0.75"/>
<line x1="389.10" y1="415.13" x2="393.10" y2="415.13" stroke="#6a0ca0" stroke-width="0.8" opacity="0.75"/>
<line x1="315.20" y1="399.39" x2="315.20" y2="415.63" stroke="#5b5bff" stroke-width="0.8" opacity="0.75"/>
<line x1="313.20" y1="399.39" x2="317.20" y2="399.39" stroke="#5b5bff" stroke-width="0.8" opacity="0.75"/>
<line x1="313.20" y1="415.63" x2="317.20" y2="415.63" stroke="#5b5bff" stroke-width="0.8" opacity="0.75"/>
<polyline points="239.30,364.38 245.62,370.47 251.95,375.04 264.60,384.17 315.20,407.51 391.10,416.65" fill="none" stroke="#5b5bff" stroke-width="0.9"/>
<polyline points="239.30,364.38 245.62,370.98 251.95,376.05 264.60,386.20 315.20,405.99 391.10,412.08" fill="none" stroke="#6a0ca0" stroke-width="0.9"/>
<polyline points="239.30,364.38 245.62,371.99 251.95,377.06 264.60,388.74 315.20,397.37 391.10,373.51" fill="none" stroke="#f24a50" stroke-width="0.9"/>
<polyline points="239.30,364.38 245.62,361.33 251.95,362.35 264.60,354.74 315.20,349.46 391.10,346.11" fill="none" stroke="#111" stroke-width="0.9"/>
<path d="M239.30,361.78 L241.50,364.38 L239.30,366.98 L237.10,364.38 Z" fill="#5b5bff"/>
<path d="M245.62,367.87 L247.82,370.47 L245.62,373.07 L243.43,370.47 Z" fill="#5b5bff"/>
<path d="M251.95,372.44 L254.15,375.04 L251.95,377.64 L249.75,375.04 Z" fill="#5b5bff"/>
<path d="M264.60,381.57 L266.80,384.17 L264.60,386.77 L262.40,384.17 Z" fill="#5b5bff"/>
<path d="M315.20,404.91 L317.40,407.51 L315.20,410.12 L313.00,407.51 Z" fill="#5b5bff"/>
<path d="M391.10,414.05 L393.30,416.65 L391.10,419.25 L388.90,416.65 Z" fill="#5b5bff"/>
<path d="M236.50,362.18 L242.10,362.18 L239.30,366.98 Z" fill="#6a0ca0"/>
<path d="M242.82,368.78 L248.43,368.78 L245.62,373.58 Z" fill="#6a0ca0"/>
<path d="M249.15,373.85 L254.75,373.85 L251.95,378.65 Z" fill="#6a0ca0"/>
<path d="M261.80,384.00 L267.40,384.00 L264.60,388.80 Z" fill="#6a0ca0"/>
<path d="M312.40,403.79 L318.00,403.79 L315.20,408.59 Z" fill="#6a0ca0"/>
<path d="M388.30,409.88 L393.90,409.88 L391.10,414.68 Z" fill="#6a0ca0"/>
<rect x="236.90" y="361.98" width="4.8" height="4.8" fill="#f24a50"/>
<rect x="243.22" y="369.59" width="4.8" height="4.8" fill="#f24a50"/>
<rect x="249.55" y="374.67" width="4.8" height="4.8" fill="#f24a50"/>
<rect x="262.20" y="386.34" width="4.8" height="4.8" fill="#f24a50"/>
<rect x="312.80" y="394.97" width="4.8" height="4.8" fill="#f24a50"/>
<rect x="388.70" y="371.11" width="4.8" height="4.8" fill="#f24a50"/>
<circle cx="239.30" cy="364.38" r="2.4" fill="#000"/>
<circle cx="245.62" cy="361.33" r="2.4" fill="#000"/>
<circle cx="251.95" cy="362.35" r="2.4" fill="#000"/>
<circle cx="264.60" cy="354.74" r="2.4" fill="#000"/>
<circle cx="315.20" cy="349.46" r="2.4" fill="#000"/>
<circle cx="391.10" cy="346.11" r="2.4" fill="#000"/>
<line x1="439.6" y1="325.3" x2="439.6" y2="426.8" stroke="#231f20" stroke-width="0.8"/>
<line x1="439.6" y1="426.8" x2="591.8" y2="426.8" stroke="#231f20" stroke-width="0.8"/>
<line x1="435.6" y1="426.80" x2="439.6" y2="426.80" stroke="#231f20" stroke-width="0.8"/>
<text x="434.60" y="429.30" font-size="9" text-anchor="end" fill="#231f20">0</text>
<line x1="435.6" y1="406.50" x2="439.6" y2="406.50" stroke="#231f20" stroke-width="0.8"/>
<text x="434.60" y="409.00" font-size="9" text-anchor="end" fill="#231f20">2</text>
<line x1="435.6" y1="386.20" x2="439.6" y2="386.20" stroke="#231f20" stroke-width="0.8"/>
<text x="434.60" y="388.70" font-size="9" text-anchor="end" fill="#231f20">4</text>
<line x1="435.6" y1="365.90" x2="439.6" y2="365.90" stroke="#231f20" stroke-width="0.8"/>
<text x="434.60" y="368.40" font-size="9" text-anchor="end" fill="#231f20">6</text>
<line x1="435.6" y1="345.60" x2="439.6" y2="345.60" stroke="#231f20" stroke-width="0.8"/>
<text x="434.60" y="348.10" font-size="9" text-anchor="end" fill="#231f20">8</text>
<line x1="435.6" y1="325.30" x2="439.6" y2="325.30" stroke="#231f20" stroke-width="0.8"/>
<text x="434.60" y="327.80" font-size="9" text-anchor="end" fill="#231f20">10</text>
<line x1="439.60" y1="426.8" x2="439.60" y2="431.0" stroke="#231f20" stroke-width="0.8"/>
<text x="439.60" y="438.90" font-size="9" text-anchor="middle" fill="#231f20">0</text>
<line x1="464.97" y1="426.8" x2="464.97" y2="431.0" stroke="#231f20" stroke-width="0.8"/>
<text x="464.97" y="438.90" font-size="9" text-anchor="middle" fill="#231f20">8</text>
<line x1="490.33" y1="426.8" x2="490.33" y2="431.0" stroke="#231f20" stroke-width="0.8"/>
<text x="490.33" y="438.90" font-size="9" text-anchor="middle" fill="#231f20">16</text>
<line x1="515.70" y1="426.8" x2="515.70" y2="431.0" stroke="#231f20" stroke-width="0.8"/>
<text x="515.70" y="438.90" font-size="9" text-anchor="middle" fill="#231f20">24</text>
<line x1="541.07" y1="426.8" x2="541.07" y2="431.0" stroke="#231f20" stroke-width="0.8"/>
<text x="541.07" y="438.90" font-size="9" text-anchor="middle" fill="#231f20">32</text>
<line x1="566.43" y1="426.8" x2="566.43" y2="431.0" stroke="#231f20" stroke-width="0.8"/>
<text x="566.43" y="438.90" font-size="9" text-anchor="middle" fill="#231f20">40</text>
<line x1="591.80" y1="426.8" x2="591.80" y2="431.0" stroke="#231f20" stroke-width="0.8"/>
<text x="591.80" y="438.90" font-size="9" text-anchor="middle" fill="#231f20">48</text>
<text x="515.70" y="310.30" font-size="8.3" text-anchor="middle" font-style="italic" fill="#231f20">GCN5 AB</text>
<text transform="translate(423.60,377.35) rotate(-90)" font-size="8.3" text-anchor="middle" fill="#231f20">Log<tspan font-size="4.2" dy="0.6">10</tspan><tspan dy="-0.6"> CFU/mL</tspan></text>
<text x="518.50" y="449.90" font-size="8.3" text-anchor="middle" fill="#231f20">Time (h)</text>
<line x1="591.80" y1="364.17" x2="591.80" y2="369.25" stroke="#5b5bff" stroke-width="0.8" opacity="0.75"/>
<line x1="589.80" y1="364.17" x2="593.80" y2="364.17" stroke="#5b5bff" stroke-width="0.8" opacity="0.75"/>
<line x1="589.80" y1="369.25" x2="593.80" y2="369.25" stroke="#5b5bff" stroke-width="0.8" opacity="0.75"/>
<polyline points="439.60,362.35 445.94,370.98 452.28,370.98 464.97,373.92 515.70,371.79 591.80,366.71" fill="none" stroke="#5b5bff" stroke-width="0.9"/>
<polyline points="439.60,362.35 445.94,371.28 452.28,370.47 464.97,375.95 515.70,366.71 591.80,353.92" fill="none" stroke="#6a0ca0" stroke-width="0.9"/>
<polyline points="439.60,362.35 445.94,375.24 452.28,369.96 464.97,359.61 515.70,346.51 591.80,343.98" fill="none" stroke="#f24a50" stroke-width="0.9"/>
<polyline points="439.60,362.35 445.94,361.13 452.28,359.81 464.97,353.42 515.70,342.66 591.80,342.66" fill="none" stroke="#111" stroke-width="0.9"/>
<path d="M439.60,359.75 L441.80,362.35 L439.60,364.95 L437.40,362.35 Z" fill="#5b5bff"/>
<path d="M445.94,368.38 L448.14,370.98 L445.94,373.58 L443.74,370.98 Z" fill="#5b5bff"/>
<path d="M452.28,368.38 L454.48,370.98 L452.28,373.58 L450.08,370.98 Z" fill="#5b5bff"/>
<path d="M464.97,371.32 L467.17,373.92 L464.97,376.52 L462.77,373.92 Z" fill="#5b5bff"/>
<path d="M515.70,369.19 L517.90,371.79 L515.70,374.39 L513.50,371.79 Z" fill="#5b5bff"/>
<path d="M591.80,364.11 L594.00,366.71 L591.80,369.31 L589.60,366.71 Z" fill="#5b5bff"/>
<path d="M436.80,360.15 L442.40,360.15 L439.60,364.95 Z" fill="#6a0ca0"/>
<path d="M443.14,369.08 L448.74,369.08 L445.94,373.88 Z" fill="#6a0ca0"/>
<path d="M449.48,368.27 L455.08,368.27 L452.28,373.07 Z" fill="#6a0ca0"/>
<path d="M462.17,373.75 L467.77,373.75 L464.97,378.55 Z" fill="#6a0ca0"/>
<path d="M512.90,364.51 L518.50,364.51 L515.70,369.31 Z" fill="#6a0ca0"/>
<path d="M589.00,351.72 L594.60,351.72 L591.80,356.52 Z" fill="#6a0ca0"/>
<rect x="437.20" y="359.95" width="4.8" height="4.8" fill="#f24a50"/>
<rect x="443.54" y="372.84" width="4.8" height="4.8" fill="#f24a50"/>
<rect x="449.88" y="367.56" width="4.8" height="4.8" fill="#f24a50"/>
<rect x="462.57" y="357.21" width="4.8" height="4.8" fill="#f24a50"/>
<rect x="513.30" y="344.11" width="4.8" height="4.8" fill="#f24a50"/>
<rect x="589.40" y="341.58" width="4.8" height="4.8" fill="#f24a50"/>
<circle cx="439.60" cy="362.35" r="2.4" fill="#000"/>
<circle cx="445.94" cy="361.13" r="2.4" fill="#000"/>
<circle cx="452.28" cy="359.81" r="2.4" fill="#000"/>
<circle cx="464.97" cy="353.42" r="2.4" fill="#000"/>
<circle cx="515.70" cy="342.66" r="2.4" fill="#000"/>
<circle cx="591.80" cy="342.66" r="2.4" fill="#000"/>
<line x1="515.70" y1="342.66" x2="591.8" y2="342.66" stroke="#9a9a9a" stroke-width="1.9"/>
<circle cx="515.70" cy="342.66" r="2.4" fill="#000"/>
<circle cx="591.80" cy="342.66" r="2.4" fill="#000"/>
<line x1="38.3" y1="495.3" x2="38.3" y2="595.5" stroke="#231f20" stroke-width="0.8"/>
<line x1="38.3" y1="595.5" x2="188.0" y2="595.5" stroke="#231f20" stroke-width="0.8"/>
<line x1="34.3" y1="595.50" x2="38.3" y2="595.50" stroke="#231f20" stroke-width="0.8"/>
<text x="33.30" y="598.00" font-size="9" text-anchor="end" fill="#231f20">0</text>
<line x1="34.3" y1="570.45" x2="38.3" y2="570.45" stroke="#231f20" stroke-width="0.8"/>
<text x="33.30" y="572.95" font-size="9" text-anchor="end" fill="#231f20">2</text>
<line x1="34.3" y1="545.40" x2="38.3" y2="545.40" stroke="#231f20" stroke-width="0.8"/>
<text x="33.30" y="547.90" font-size="9" text-anchor="end" fill="#231f20">4</text>
<line x1="34.3" y1="520.35" x2="38.3" y2="520.35" stroke="#231f20" stroke-width="0.8"/>
<text x="33.30" y="522.85" font-size="9" text-anchor="end" fill="#231f20">6</text>
<line x1="34.3" y1="495.30" x2="38.3" y2="495.30" stroke="#231f20" stroke-width="0.8"/>
<text x="33.30" y="497.80" font-size="9" text-anchor="end" fill="#231f20">8</text>
<line x1="38.30" y1="595.5" x2="38.30" y2="599.7" stroke="#231f20" stroke-width="0.8"/>
<text x="38.30" y="607.60" font-size="9" text-anchor="middle" fill="#231f20">0</text>
<line x1="63.25" y1="595.5" x2="63.25" y2="599.7" stroke="#231f20" stroke-width="0.8"/>
<text x="63.25" y="607.60" font-size="9" text-anchor="middle" fill="#231f20">8</text>
<line x1="88.20" y1="595.5" x2="88.20" y2="599.7" stroke="#231f20" stroke-width="0.8"/>
<text x="88.20" y="607.60" font-size="9" text-anchor="middle" fill="#231f20">16</text>
<line x1="113.15" y1="595.5" x2="113.15" y2="599.7" stroke="#231f20" stroke-width="0.8"/>
<text x="113.15" y="607.60" font-size="9" text-anchor="middle" fill="#231f20">24</text>
<line x1="138.10" y1="595.5" x2="138.10" y2="599.7" stroke="#231f20" stroke-width="0.8"/>
<text x="138.10" y="607.60" font-size="9" text-anchor="middle" fill="#231f20">32</text>
<line x1="163.05" y1="595.5" x2="163.05" y2="599.7" stroke="#231f20" stroke-width="0.8"/>
<text x="163.05" y="607.60" font-size="9" text-anchor="middle" fill="#231f20">40</text>
<line x1="188.00" y1="595.5" x2="188.00" y2="599.7" stroke="#231f20" stroke-width="0.8"/>
<text x="188.00" y="607.60" font-size="9" text-anchor="middle" fill="#231f20">48</text>
<text x="113.15" y="480.30" font-size="8.3" text-anchor="middle" fill="#231f20">CBS12767</text>
<text transform="translate(22.30,546.70) rotate(-90)" font-size="8.3" text-anchor="middle" fill="#231f20">Log<tspan font-size="4.2" dy="0.6">10</tspan><tspan dy="-0.6"> CFU/mL</tspan></text>
<text x="116.30" y="618.60" font-size="8.3" text-anchor="middle" fill="#231f20">Time (h)</text>
<line x1="63.25" y1="517.85" x2="63.25" y2="524.11" stroke="#6a0ca0" stroke-width="0.8" opacity="0.75"/>
<line x1="61.25" y1="517.85" x2="65.25" y2="517.85" stroke="#6a0ca0" stroke-width="0.8" opacity="0.75"/>
<line x1="61.25" y1="524.11" x2="65.25" y2="524.11" stroke="#6a0ca0" stroke-width="0.8" opacity="0.75"/>
<line x1="188.00" y1="504.69" x2="188.00" y2="508.45" stroke="#5b5bff" stroke-width="0.8" opacity="0.75"/>
<line x1="186.00" y1="504.69" x2="190.00" y2="504.69" stroke="#5b5bff" stroke-width="0.8" opacity="0.75"/>
<line x1="186.00" y1="508.45" x2="190.00" y2="508.45" stroke="#5b5bff" stroke-width="0.8" opacity="0.75"/>
<polyline points="38.30,522.73 44.54,522.23 50.77,519.72 63.25,519.72 113.15,509.08 188.00,506.57" fill="none" stroke="#5b5bff" stroke-width="0.9"/>
<polyline points="38.30,522.73 44.54,525.49 50.77,519.10 63.25,520.98 113.15,509.33 188.00,506.32" fill="none" stroke="#6a0ca0" stroke-width="0.9"/>
<polyline points="38.30,522.73 44.54,523.98 50.77,520.48 63.25,513.71 113.15,508.58 188.00,505.57" fill="none" stroke="#f24a50" stroke-width="0.9"/>
<polyline points="38.30,522.73 44.54,515.84 50.77,510.08 63.25,499.43 113.15,503.82 188.00,499.68" fill="none" stroke="#111" stroke-width="0.9"/>
<path d="M38.30,520.13 L40.50,522.73 L38.30,525.33 L36.10,522.73 Z" fill="#5b5bff"/>
<path d="M44.54,519.63 L46.74,522.23 L44.54,524.83 L42.34,522.23 Z" fill="#5b5bff"/>
<path d="M50.77,517.12 L52.98,519.72 L50.77,522.32 L48.57,519.72 Z" fill="#5b5bff"/>
<path d="M63.25,517.12 L65.45,519.72 L63.25,522.32 L61.05,519.72 Z" fill="#5b5bff"/>
<path d="M113.15,506.48 L115.35,509.08 L113.15,511.68 L110.95,509.08 Z" fill="#5b5bff"/>
<path d="M188.00,503.97 L190.20,506.57 L188.00,509.17 L185.80,506.57 Z" fill="#5b5bff"/>
<path d="M35.50,520.53 L41.10,520.53 L38.30,525.33 Z" fill="#6a0ca0"/>
<path d="M41.74,523.29 L47.34,523.29 L44.54,528.09 Z" fill="#6a0ca0"/>
<path d="M47.98,516.90 L53.57,516.90 L50.77,521.70 Z" fill="#6a0ca0"/>
<path d="M60.45,518.78 L66.05,518.78 L63.25,523.58 Z" fill="#6a0ca0"/>
<path d="M110.35,507.13 L115.95,507.13 L113.15,511.93 Z" fill="#6a0ca0"/>
<path d="M185.20,504.12 L190.80,504.12 L188.00,508.92 Z" fill="#6a0ca0"/>
<rect x="35.90" y="520.33" width="4.8" height="4.8" fill="#f24a50"/>
<rect x="42.14" y="521.58" width="4.8" height="4.8" fill="#f24a50"/>
<rect x="48.38" y="518.08" width="4.8" height="4.8" fill="#f24a50"/>
<rect x="60.85" y="511.31" width="4.8" height="4.8" fill="#f24a50"/>
<rect x="110.75" y="506.18" width="4.8" height="4.8" fill="#f24a50"/>
<rect x="185.60" y="503.17" width="4.8" height="4.8" fill="#f24a50"/>
<circle cx="38.30" cy="522.73" r="2.4" fill="#000"/>
<circle cx="44.54" cy="515.84" r="2.4" fill="#000"/>
<circle cx="50.77" cy="510.08" r="2.4" fill="#000"/>
<circle cx="63.25" cy="499.43" r="2.4" fill="#000"/>
<circle cx="113.15" cy="503.82" r="2.4" fill="#000"/>
<circle cx="188.00" cy="499.68" r="2.4" fill="#000"/>
<line x1="239.3" y1="495.3" x2="239.3" y2="595.5" stroke="#231f20" stroke-width="0.8"/>
<line x1="239.3" y1="595.5" x2="388.7" y2="595.5" stroke="#231f20" stroke-width="0.8"/>
<line x1="235.3" y1="595.50" x2="239.3" y2="595.50" stroke="#231f20" stroke-width="0.8"/>
<text x="234.30" y="598.00" font-size="9" text-anchor="end" fill="#231f20">0</text>
<line x1="235.3" y1="570.45" x2="239.3" y2="570.45" stroke="#231f20" stroke-width="0.8"/>
<text x="234.30" y="572.95" font-size="9" text-anchor="end" fill="#231f20">2</text>
<line x1="235.3" y1="545.40" x2="239.3" y2="545.40" stroke="#231f20" stroke-width="0.8"/>
<text x="234.30" y="547.90" font-size="9" text-anchor="end" fill="#231f20">4</text>
<line x1="235.3" y1="520.35" x2="239.3" y2="520.35" stroke="#231f20" stroke-width="0.8"/>
<text x="234.30" y="522.85" font-size="9" text-anchor="end" fill="#231f20">6</text>
<line x1="235.3" y1="495.30" x2="239.3" y2="495.30" stroke="#231f20" stroke-width="0.8"/>
<text x="234.30" y="497.80" font-size="9" text-anchor="end" fill="#231f20">8</text>
<line x1="239.30" y1="595.5" x2="239.30" y2="599.7" stroke="#231f20" stroke-width="0.8"/>
<text x="239.30" y="607.60" font-size="9" text-anchor="middle" fill="#231f20">0</text>
<line x1="264.20" y1="595.5" x2="264.20" y2="599.7" stroke="#231f20" stroke-width="0.8"/>
<text x="264.20" y="607.60" font-size="9" text-anchor="middle" fill="#231f20">8</text>
<line x1="289.10" y1="595.5" x2="289.10" y2="599.7" stroke="#231f20" stroke-width="0.8"/>
<text x="289.10" y="607.60" font-size="9" text-anchor="middle" fill="#231f20">16</text>
<line x1="314.00" y1="595.5" x2="314.00" y2="599.7" stroke="#231f20" stroke-width="0.8"/>
<text x="314.00" y="607.60" font-size="9" text-anchor="middle" fill="#231f20">24</text>
<line x1="338.90" y1="595.5" x2="338.90" y2="599.7" stroke="#231f20" stroke-width="0.8"/>
<text x="338.90" y="607.60" font-size="9" text-anchor="middle" fill="#231f20">32</text>
<line x1="363.80" y1="595.5" x2="363.80" y2="599.7" stroke="#231f20" stroke-width="0.8"/>
<text x="363.80" y="607.60" font-size="9" text-anchor="middle" fill="#231f20">40</text>
<line x1="388.70" y1="595.5" x2="388.70" y2="599.7" stroke="#231f20" stroke-width="0.8"/>
<text x="388.70" y="607.60" font-size="9" text-anchor="middle" fill="#231f20">48</text>
<text x="314.00" y="480.30" font-size="8.3" text-anchor="middle" fill="#231f20"><tspan font-style="italic">gcn5</tspan>Δ</text>
<text transform="translate(223.30,546.70) rotate(-90)" font-size="8.3" text-anchor="middle" fill="#231f20">Log<tspan font-size="4.2" dy="0.6">10</tspan><tspan dy="-0.6"> CFU/mL</tspan></text>
<text x="317.60" y="618.60" font-size="8.3" text-anchor="middle" fill="#231f20">Time (h)</text>
<line x1="314.00" y1="551.66" x2="314.00" y2="556.67" stroke="#f24a50" stroke-width="0.8" opacity="0.75"/>
<line x1="312.00" y1="551.66" x2="316.00" y2="551.66" stroke="#f24a50" stroke-width="0.8" opacity="0.75"/>
<line x1="312.00" y1="556.67" x2="316.00" y2="556.67" stroke="#f24a50" stroke-width="0.8" opacity="0.75"/>
<line x1="388.70" y1="554.17" x2="388.70" y2="562.93" stroke="#f24a50" stroke-width="0.8" opacity="0.75"/>
<line x1="386.70" y1="554.17" x2="390.70" y2="554.17" stroke="#f24a50" stroke-width="0.8" opacity="0.75"/>
<line x1="386.70" y1="562.93" x2="390.70" y2="562.93" stroke="#f24a50" stroke-width="0.8" opacity="0.75"/>
<line x1="314.00" y1="552.29" x2="314.00" y2="557.30" stroke="#6a0ca0" stroke-width="0.8" opacity="0.75"/>
<line x1="312.00" y1="552.29" x2="316.00" y2="552.29" stroke="#6a0ca0" stroke-width="0.8" opacity="0.75"/>
<line x1="312.00" y1="557.30" x2="316.00" y2="557.30" stroke="#6a0ca0" stroke-width="0.8" opacity="0.75"/>
<line x1="388.70" y1="553.54" x2="388.70" y2="563.56" stroke="#6a0ca0" stroke-width="0.8" opacity="0.75"/>
<line x1="386.70" y1="553.54" x2="390.70" y2="553.54" stroke="#6a0ca0" stroke-width="0.8" opacity="0.75"/>
<line x1="386.70" y1="563.56" x2="390.70" y2="563.56" stroke="#6a0ca0" stroke-width="0.8" opacity="0.75"/>
<line x1="388.70" y1="564.19" x2="388.70" y2="571.70" stroke="#5b5bff" stroke-width="0.8" opacity="0.75"/>
<line x1="386.70" y1="564.19" x2="390.70" y2="564.19" stroke="#5b5bff" stroke-width="0.8" opacity="0.75"/>
<line x1="386.70" y1="571.70" x2="390.70" y2="571.70" stroke="#5b5bff" stroke-width="0.8" opacity="0.75"/>
<polyline points="239.30,519.72 245.53,523.48 251.75,529.12 264.20,536.63 314.00,555.42 388.70,567.95" fill="none" stroke="#5b5bff" stroke-width="0.9"/>
<polyline points="239.30,519.72 245.53,523.48 251.75,528.49 264.20,536.01 314.00,554.79 388.70,558.55" fill="none" stroke="#6a0ca0" stroke-width="0.9"/>
<polyline points="239.30,519.72 245.53,523.48 251.75,527.24 264.20,533.50 314.00,554.17 388.70,558.55" fill="none" stroke="#f24a50" stroke-width="0.9"/>
<polyline points="239.30,519.72 245.53,515.97 251.75,515.97 264.20,507.20 314.00,507.20 388.70,507.83" fill="none" stroke="#111" stroke-width="0.9"/>
<path d="M239.30,517.12 L241.50,519.72 L239.30,522.32 L237.10,519.72 Z" fill="#5b5bff"/>
<path d="M245.53,520.88 L247.72,523.48 L245.53,526.08 L243.33,523.48 Z" fill="#5b5bff"/>
<path d="M251.75,526.52 L253.95,529.12 L251.75,531.72 L249.55,529.12 Z" fill="#5b5bff"/>
<path d="M264.20,534.03 L266.40,536.63 L264.20,539.23 L262.00,536.63 Z" fill="#5b5bff"/>
<path d="M314.00,552.82 L316.20,555.42 L314.00,558.02 L311.80,555.42 Z" fill="#5b5bff"/>
<path d="M388.70,565.35 L390.90,567.95 L388.70,570.55 L386.50,567.95 Z" fill="#5b5bff"/>
<path d="M236.50,517.52 L242.10,517.52 L239.30,522.32 Z" fill="#6a0ca0"/>
<path d="M242.72,521.28 L248.33,521.28 L245.53,526.08 Z" fill="#6a0ca0"/>
<path d="M248.95,526.29 L254.55,526.29 L251.75,531.09 Z" fill="#6a0ca0"/>
<path d="M261.40,533.81 L267.00,533.81 L264.20,538.61 Z" fill="#6a0ca0"/>
<path d="M311.20,552.59 L316.80,552.59 L314.00,557.39 Z" fill="#6a0ca0"/>
<path d="M385.90,556.35 L391.50,556.35 L388.70,561.15 Z" fill="#6a0ca0"/>
<rect x="236.90" y="517.32" width="4.8" height="4.8" fill="#f24a50"/>
<rect x="243.12" y="521.08" width="4.8" height="4.8" fill="#f24a50"/>
<rect x="249.35" y="524.84" width="4.8" height="4.8" fill="#f24a50"/>
<rect x="261.80" y="531.10" width="4.8" height="4.8" fill="#f24a50"/>
<rect x="311.60" y="551.77" width="4.8" height="4.8" fill="#f24a50"/>
<rect x="386.30" y="556.15" width="4.8" height="4.8" fill="#f24a50"/>
<circle cx="239.30" cy="519.72" r="2.4" fill="#000"/>
<circle cx="245.53" cy="515.97" r="2.4" fill="#000"/>
<circle cx="251.75" cy="515.97" r="2.4" fill="#000"/>
<circle cx="264.20" cy="507.20" r="2.4" fill="#000"/>
<circle cx="314.00" cy="507.20" r="2.4" fill="#000"/>
<circle cx="388.70" cy="507.83" r="2.4" fill="#000"/>
<line x1="439.5" y1="495.3" x2="439.5" y2="595.5" stroke="#231f20" stroke-width="0.8"/>
<line x1="439.5" y1="595.5" x2="589.7" y2="595.5" stroke="#231f20" stroke-width="0.8"/>
<line x1="435.5" y1="595.50" x2="439.5" y2="595.50" stroke="#231f20" stroke-width="0.8"/>
<text x="434.50" y="598.00" font-size="9" text-anchor="end" fill="#231f20">0</text>
<line x1="435.5" y1="570.45" x2="439.5" y2="570.45" stroke="#231f20" stroke-width="0.8"/>
<text x="434.50" y="572.95" font-size="9" text-anchor="end" fill="#231f20">2</text>
<line x1="435.5" y1="545.40" x2="439.5" y2="545.40" stroke="#231f20" stroke-width="0.8"/>
<text x="434.50" y="547.90" font-size="9" text-anchor="end" fill="#231f20">4</text>
<line x1="435.5" y1="520.35" x2="439.5" y2="520.35" stroke="#231f20" stroke-width="0.8"/>
<text x="434.50" y="522.85" font-size="9" text-anchor="end" fill="#231f20">6</text>
<line x1="435.5" y1="495.30" x2="439.5" y2="495.30" stroke="#231f20" stroke-width="0.8"/>
<text x="434.50" y="497.80" font-size="9" text-anchor="end" fill="#231f20">8</text>
<line x1="439.50" y1="595.5" x2="439.50" y2="599.7" stroke="#231f20" stroke-width="0.8"/>
<text x="439.50" y="607.60" font-size="9" text-anchor="middle" fill="#231f20">0</text>
<line x1="464.53" y1="595.5" x2="464.53" y2="599.7" stroke="#231f20" stroke-width="0.8"/>
<text x="464.53" y="607.60" font-size="9" text-anchor="middle" fill="#231f20">8</text>
<line x1="489.57" y1="595.5" x2="489.57" y2="599.7" stroke="#231f20" stroke-width="0.8"/>
<text x="489.57" y="607.60" font-size="9" text-anchor="middle" fill="#231f20">16</text>
<line x1="514.60" y1="595.5" x2="514.60" y2="599.7" stroke="#231f20" stroke-width="0.8"/>
<text x="514.60" y="607.60" font-size="9" text-anchor="middle" fill="#231f20">24</text>
<line x1="539.63" y1="595.5" x2="539.63" y2="599.7" stroke="#231f20" stroke-width="0.8"/>
<text x="539.63" y="607.60" font-size="9" text-anchor="middle" fill="#231f20">32</text>
<line x1="564.67" y1="595.5" x2="564.67" y2="599.7" stroke="#231f20" stroke-width="0.8"/>
<text x="564.67" y="607.60" font-size="9" text-anchor="middle" fill="#231f20">40</text>
<line x1="589.70" y1="595.5" x2="589.70" y2="599.7" stroke="#231f20" stroke-width="0.8"/>
<text x="589.70" y="607.60" font-size="9" text-anchor="middle" fill="#231f20">48</text>
<text x="514.60" y="480.30" font-size="8.3" text-anchor="middle" font-style="italic" fill="#231f20">GCN5 AB</text>
<text transform="translate(423.50,546.70) rotate(-90)" font-size="8.3" text-anchor="middle" fill="#231f20">Log<tspan font-size="4.2" dy="0.6">10</tspan><tspan dy="-0.6"> CFU/mL</tspan></text>
<text x="518.50" y="618.60" font-size="8.3" text-anchor="middle" fill="#231f20">Time (h)</text>
<line x1="589.70" y1="510.33" x2="589.70" y2="522.86" stroke="#6a0ca0" stroke-width="0.8" opacity="0.75"/>
<line x1="587.70" y1="510.33" x2="591.70" y2="510.33" stroke="#6a0ca0" stroke-width="0.8" opacity="0.75"/>
<line x1="587.70" y1="522.86" x2="591.70" y2="522.86" stroke="#6a0ca0" stroke-width="0.8" opacity="0.75"/>
<line x1="589.70" y1="503.44" x2="589.70" y2="507.20" stroke="#111" stroke-width="0.8" opacity="0.75"/>
<line x1="587.70" y1="503.44" x2="591.70" y2="503.44" stroke="#111" stroke-width="0.8" opacity="0.75"/>
<line x1="587.70" y1="507.20" x2="591.70" y2="507.20" stroke="#111" stroke-width="0.8" opacity="0.75"/>
<polyline points="439.50,520.35 445.76,522.23 452.02,520.98 464.53,520.98 514.60,509.70 589.70,511.58" fill="none" stroke="#5b5bff" stroke-width="0.9"/>
<polyline points="439.50,520.35 445.76,522.86 452.02,520.98 464.53,519.10 514.60,509.70 589.70,516.59" fill="none" stroke="#6a0ca0" stroke-width="0.9"/>
<polyline points="439.50,520.35 445.76,524.73 452.02,520.98 464.53,515.34 514.60,509.08 589.70,505.32" fill="none" stroke="#f24a50" stroke-width="0.9"/>
<polyline points="439.50,520.35 445.76,514.09 452.02,509.08 464.53,500.31 514.60,508.45 589.70,505.32" fill="none" stroke="#111" stroke-width="0.9"/>
<path d="M439.50,517.75 L441.70,520.35 L439.50,522.95 L437.30,520.35 Z" fill="#5b5bff"/>
<path d="M445.76,519.63 L447.96,522.23 L445.76,524.83 L443.56,522.23 Z" fill="#5b5bff"/>
<path d="M452.02,518.38 L454.22,520.98 L452.02,523.58 L449.82,520.98 Z" fill="#5b5bff"/>
<path d="M464.53,518.38 L466.73,520.98 L464.53,523.58 L462.33,520.98 Z" fill="#5b5bff"/>
<path d="M514.60,507.10 L516.80,509.70 L514.60,512.30 L512.40,509.70 Z" fill="#5b5bff"/>
<path d="M589.70,508.98 L591.90,511.58 L589.70,514.18 L587.50,511.58 Z" fill="#5b5bff"/>
<path d="M436.70,518.15 L442.30,518.15 L439.50,522.95 Z" fill="#6a0ca0"/>
<path d="M442.96,520.65 L448.56,520.65 L445.76,525.46 Z" fill="#6a0ca0"/>
<path d="M449.22,518.78 L454.82,518.78 L452.02,523.58 Z" fill="#6a0ca0"/>
<path d="M461.73,516.90 L467.33,516.90 L464.53,521.70 Z" fill="#6a0ca0"/>
<path d="M511.80,507.50 L517.40,507.50 L514.60,512.30 Z" fill="#6a0ca0"/>
<path d="M586.90,514.39 L592.50,514.39 L589.70,519.19 Z" fill="#6a0ca0"/>
<rect x="437.10" y="517.95" width="4.8" height="4.8" fill="#f24a50"/>
<rect x="443.36" y="522.33" width="4.8" height="4.8" fill="#f24a50"/>
<rect x="449.62" y="518.58" width="4.8" height="4.8" fill="#f24a50"/>
<rect x="462.13" y="512.94" width="4.8" height="4.8" fill="#f24a50"/>
<rect x="512.20" y="506.68" width="4.8" height="4.8" fill="#f24a50"/>
<rect x="587.30" y="502.92" width="4.8" height="4.8" fill="#f24a50"/>
<circle cx="439.50" cy="520.35" r="2.4" fill="#000"/>
<circle cx="445.76" cy="514.09" r="2.4" fill="#000"/>
<circle cx="452.02" cy="509.08" r="2.4" fill="#000"/>
<circle cx="464.53" cy="500.31" r="2.4" fill="#000"/>
<circle cx="514.60" cy="508.45" r="2.4" fill="#000"/>
<circle cx="589.70" cy="505.32" r="2.4" fill="#000"/>
<line x1="615.1" y1="331.80" x2="625.8" y2="331.80" stroke="#111" stroke-width="0.9"/>
<circle cx="620.60" cy="331.80" r="2.4" fill="#000"/>
<text x="629.40" y="334.80" font-size="8.3" text-anchor="start" fill="#231f20">Vehicle</text>
<line x1="615.1" y1="345.60" x2="625.8" y2="345.60" stroke="#f24a50" stroke-width="0.9"/>
<rect x="618.20" y="343.20" width="4.8" height="4.8" fill="#f24a50"/>
<text x="629.40" y="348.60" font-size="8.3" text-anchor="start" fill="#231f20">7.8 ng/mL</text>
<line x1="615.1" y1="359.40" x2="625.8" y2="359.40" stroke="#6a0ca0" stroke-width="0.9"/>
<path d="M617.80,357.20 L623.40,357.20 L620.60,362.00 Z" fill="#6a0ca0"/>
<text x="629.40" y="362.40" font-size="8.3" text-anchor="start" fill="#231f20">31.25 ng/mL</text>
<line x1="615.1" y1="373.20" x2="625.8" y2="373.20" stroke="#5b5bff" stroke-width="0.9"/>
<path d="M620.60,370.60 L622.80,373.20 L620.60,375.80 L618.40,373.20 Z" fill="#5b5bff"/>
<text x="629.40" y="376.20" font-size="8.3" text-anchor="start" fill="#231f20">125 ng/mL</text>
<line x1="615.1" y1="502.40" x2="625.8" y2="502.40" stroke="#111" stroke-width="0.9"/>
<circle cx="620.60" cy="502.40" r="2.4" fill="#000"/>
<text x="629.40" y="505.40" font-size="8.3" text-anchor="start" fill="#231f20">Vehicle</text>
<line x1="615.1" y1="516.20" x2="625.8" y2="516.20" stroke="#f24a50" stroke-width="0.9"/>
<rect x="618.20" y="513.80" width="4.8" height="4.8" fill="#f24a50"/>
<text x="629.40" y="519.20" font-size="8.3" text-anchor="start" fill="#231f20">15.6 ng/mL</text>
<line x1="615.1" y1="530.00" x2="625.8" y2="530.00" stroke="#6a0ca0" stroke-width="0.9"/>
<path d="M617.80,527.80 L623.40,527.80 L620.60,532.60 Z" fill="#6a0ca0"/>
<text x="629.40" y="533.00" font-size="8.3" text-anchor="start" fill="#231f20">62.5 ng/mL</text>
<line x1="615.1" y1="543.80" x2="625.8" y2="543.80" stroke="#5b5bff" stroke-width="0.9"/>
<path d="M620.60,541.20 L622.80,543.80 L620.60,546.40 L618.40,543.80 Z" fill="#5b5bff"/>
<text x="629.40" y="546.80" font-size="8.3" text-anchor="start" fill="#231f20">250 ng/mL</text>
</svg>
</body></html>
